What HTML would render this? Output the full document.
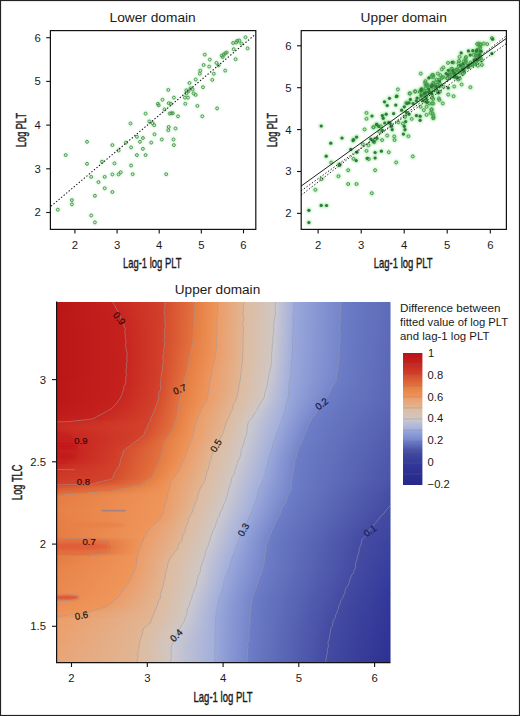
<!DOCTYPE html><html><head><meta charset="utf-8"><style>html,body{margin:0;padding:0;background:#fff;overflow:hidden;}svg{display:block}text{font-family:"Liberation Sans",sans-serif;fill:#1a1a1a}</style></head><body>
<svg width="520" height="716" viewBox="0 0 520 716">
<defs><linearGradient id="h0" gradientUnits="userSpaceOnUse" x1="56.5" x2="390.5" y1="0" y2="0"><stop offset="0.0000" stop-color="#b91517"/><stop offset="0.1690" stop-color="#c5221e"/><stop offset="0.1706" stop-color="#c72620"/><stop offset="0.3240" stop-color="#d3412b"/><stop offset="0.3256" stop-color="#d54c2d"/><stop offset="0.4137" stop-color="#e3723f"/><stop offset="0.4153" stop-color="#e57c41"/><stop offset="0.4826" stop-color="#ef965b"/><stop offset="0.4842" stop-color="#ed9c67"/><stop offset="0.5591" stop-color="#e1b594"/><stop offset="0.5607" stop-color="#dfbb9e"/><stop offset="0.6562" stop-color="#d0c7c3"/><stop offset="0.6578" stop-color="#ccc9cf"/><stop offset="0.7102" stop-color="#a2afdd"/><stop offset="0.7118" stop-color="#9aa8db"/><stop offset="0.8509" stop-color="#7585cb"/><stop offset="0.8525" stop-color="#6d7dc6"/><stop offset="1.0000" stop-color="#5d6ab9"/></linearGradient>
<linearGradient id="h1" gradientUnits="userSpaceOnUse" x1="56.5" x2="390.5" y1="0" y2="0"><stop offset="0.0000" stop-color="#b91517"/><stop offset="0.1721" stop-color="#c5221e"/><stop offset="0.1737" stop-color="#c72620"/><stop offset="0.3239" stop-color="#d3412b"/><stop offset="0.3255" stop-color="#d54c2d"/><stop offset="0.4134" stop-color="#e3723f"/><stop offset="0.4150" stop-color="#e57c41"/><stop offset="0.4824" stop-color="#ef965b"/><stop offset="0.4840" stop-color="#ed9c67"/><stop offset="0.5590" stop-color="#e1b594"/><stop offset="0.5606" stop-color="#dfbb9e"/><stop offset="0.6557" stop-color="#d0c7c3"/><stop offset="0.6573" stop-color="#ccc9cf"/><stop offset="0.7099" stop-color="#a2afdd"/><stop offset="0.7115" stop-color="#9aa8db"/><stop offset="0.8507" stop-color="#7585cb"/><stop offset="0.8523" stop-color="#6d7dc6"/><stop offset="1.0000" stop-color="#5d6ab9"/></linearGradient>
<linearGradient id="h2" gradientUnits="userSpaceOnUse" x1="56.5" x2="390.5" y1="0" y2="0"><stop offset="0.0000" stop-color="#b91517"/><stop offset="0.1752" stop-color="#c5221e"/><stop offset="0.1768" stop-color="#c72620"/><stop offset="0.3239" stop-color="#d3412b"/><stop offset="0.3255" stop-color="#d54c2d"/><stop offset="0.4131" stop-color="#e3723f"/><stop offset="0.4147" stop-color="#e57c41"/><stop offset="0.4822" stop-color="#ef965b"/><stop offset="0.4838" stop-color="#ed9c67"/><stop offset="0.5589" stop-color="#e1b594"/><stop offset="0.5605" stop-color="#dfbb9e"/><stop offset="0.6552" stop-color="#d0c7c3"/><stop offset="0.6568" stop-color="#ccc9cf"/><stop offset="0.7096" stop-color="#a2afdd"/><stop offset="0.7112" stop-color="#9aa8db"/><stop offset="0.8505" stop-color="#7585cb"/><stop offset="0.8521" stop-color="#6d7dc6"/><stop offset="1.0000" stop-color="#5d6ab8"/></linearGradient>
<linearGradient id="h3" gradientUnits="userSpaceOnUse" x1="56.5" x2="390.5" y1="0" y2="0"><stop offset="0.0000" stop-color="#b91517"/><stop offset="0.1783" stop-color="#c5221e"/><stop offset="0.1799" stop-color="#c72620"/><stop offset="0.3238" stop-color="#d3412b"/><stop offset="0.3254" stop-color="#d54c2d"/><stop offset="0.4128" stop-color="#e3723f"/><stop offset="0.4144" stop-color="#e57c41"/><stop offset="0.4819" stop-color="#ef965b"/><stop offset="0.4835" stop-color="#ed9c67"/><stop offset="0.5589" stop-color="#e1b594"/><stop offset="0.5605" stop-color="#dfbb9e"/><stop offset="0.6548" stop-color="#d0c7c3"/><stop offset="0.6564" stop-color="#ccc9cf"/><stop offset="0.7094" stop-color="#a2afdd"/><stop offset="0.7110" stop-color="#9aa8db"/><stop offset="0.8503" stop-color="#7585cb"/><stop offset="0.8519" stop-color="#6d7dc6"/><stop offset="1.0000" stop-color="#5d6ab8"/></linearGradient>
<linearGradient id="h4" gradientUnits="userSpaceOnUse" x1="56.5" x2="390.5" y1="0" y2="0"><stop offset="0.0000" stop-color="#b91617"/><stop offset="0.1814" stop-color="#c5221e"/><stop offset="0.1830" stop-color="#c72620"/><stop offset="0.3237" stop-color="#d3412b"/><stop offset="0.3253" stop-color="#d54c2d"/><stop offset="0.4125" stop-color="#e3723f"/><stop offset="0.4141" stop-color="#e57c41"/><stop offset="0.4817" stop-color="#ef965b"/><stop offset="0.4833" stop-color="#ed9c67"/><stop offset="0.5588" stop-color="#e1b594"/><stop offset="0.5604" stop-color="#dfbb9e"/><stop offset="0.6543" stop-color="#d0c7c3"/><stop offset="0.6559" stop-color="#ccc9cf"/><stop offset="0.7091" stop-color="#a2afdd"/><stop offset="0.7107" stop-color="#9aa8db"/><stop offset="0.8501" stop-color="#7585cb"/><stop offset="0.8517" stop-color="#6d7dc6"/><stop offset="1.0000" stop-color="#5d6ab8"/></linearGradient>
<linearGradient id="h5" gradientUnits="userSpaceOnUse" x1="56.5" x2="390.5" y1="0" y2="0"><stop offset="0.0000" stop-color="#b91617"/><stop offset="0.1844" stop-color="#c5221e"/><stop offset="0.1860" stop-color="#c72620"/><stop offset="0.3236" stop-color="#d3412b"/><stop offset="0.3252" stop-color="#d54c2d"/><stop offset="0.4121" stop-color="#e3723f"/><stop offset="0.4137" stop-color="#e57c41"/><stop offset="0.4815" stop-color="#ef965b"/><stop offset="0.4831" stop-color="#ed9c67"/><stop offset="0.5588" stop-color="#e1b594"/><stop offset="0.5604" stop-color="#dfbb9e"/><stop offset="0.6539" stop-color="#d0c7c3"/><stop offset="0.6555" stop-color="#ccc9cf"/><stop offset="0.7089" stop-color="#a2afdd"/><stop offset="0.7105" stop-color="#9aa8db"/><stop offset="0.8499" stop-color="#7585cb"/><stop offset="0.8515" stop-color="#6d7dc6"/><stop offset="1.0000" stop-color="#5d6ab8"/></linearGradient>
<linearGradient id="h6" gradientUnits="userSpaceOnUse" x1="56.5" x2="390.5" y1="0" y2="0"><stop offset="0.0000" stop-color="#ba1617"/><stop offset="0.1875" stop-color="#c5221e"/><stop offset="0.1891" stop-color="#c72620"/><stop offset="0.3235" stop-color="#d3412b"/><stop offset="0.3251" stop-color="#d54c2d"/><stop offset="0.4118" stop-color="#e3723f"/><stop offset="0.4134" stop-color="#e57c41"/><stop offset="0.4812" stop-color="#ef965b"/><stop offset="0.4828" stop-color="#ed9c67"/><stop offset="0.5587" stop-color="#e1b594"/><stop offset="0.5603" stop-color="#dfbb9e"/><stop offset="0.6534" stop-color="#d0c7c3"/><stop offset="0.6550" stop-color="#ccc9cf"/><stop offset="0.7086" stop-color="#a2afdd"/><stop offset="0.7102" stop-color="#9aa8db"/><stop offset="0.8497" stop-color="#7585cb"/><stop offset="0.8513" stop-color="#6d7dc6"/><stop offset="1.0000" stop-color="#5d6ab8"/></linearGradient>
<linearGradient id="h7" gradientUnits="userSpaceOnUse" x1="56.5" x2="390.5" y1="0" y2="0"><stop offset="0.0000" stop-color="#ba1617"/><stop offset="0.1899" stop-color="#c5221e"/><stop offset="0.1915" stop-color="#c72620"/><stop offset="0.3235" stop-color="#d3412b"/><stop offset="0.3251" stop-color="#d54c2d"/><stop offset="0.4115" stop-color="#e3723f"/><stop offset="0.4131" stop-color="#e57c41"/><stop offset="0.4810" stop-color="#ef965b"/><stop offset="0.4826" stop-color="#ed9c67"/><stop offset="0.5586" stop-color="#e1b594"/><stop offset="0.5602" stop-color="#dfbb9e"/><stop offset="0.6530" stop-color="#d0c7c3"/><stop offset="0.6546" stop-color="#ccc9cf"/><stop offset="0.7084" stop-color="#a2afdd"/><stop offset="0.7100" stop-color="#9aa8db"/><stop offset="0.8495" stop-color="#7585cb"/><stop offset="0.8511" stop-color="#6d7dc6"/><stop offset="1.0000" stop-color="#5d6ab8"/></linearGradient>
<linearGradient id="h8" gradientUnits="userSpaceOnUse" x1="56.5" x2="390.5" y1="0" y2="0"><stop offset="0.0000" stop-color="#ba1617"/><stop offset="0.1923" stop-color="#c5221e"/><stop offset="0.1939" stop-color="#c72620"/><stop offset="0.3234" stop-color="#d3412b"/><stop offset="0.3250" stop-color="#d54c2d"/><stop offset="0.4112" stop-color="#e3723f"/><stop offset="0.4128" stop-color="#e57c41"/><stop offset="0.4808" stop-color="#ef965b"/><stop offset="0.4824" stop-color="#ed9c67"/><stop offset="0.5586" stop-color="#e1b594"/><stop offset="0.5602" stop-color="#dfbb9e"/><stop offset="0.6525" stop-color="#d0c7c3"/><stop offset="0.6541" stop-color="#ccc9cf"/><stop offset="0.7081" stop-color="#a2afdd"/><stop offset="0.7097" stop-color="#9aa8db"/><stop offset="0.8493" stop-color="#7585cb"/><stop offset="0.8509" stop-color="#6d7dc6"/><stop offset="1.0000" stop-color="#5d6ab8"/></linearGradient>
<linearGradient id="h9" gradientUnits="userSpaceOnUse" x1="56.5" x2="390.5" y1="0" y2="0"><stop offset="0.0000" stop-color="#ba1617"/><stop offset="0.1947" stop-color="#c5221e"/><stop offset="0.1963" stop-color="#c72620"/><stop offset="0.3233" stop-color="#d3412b"/><stop offset="0.3249" stop-color="#d54c2d"/><stop offset="0.4109" stop-color="#e3723f"/><stop offset="0.4125" stop-color="#e57c41"/><stop offset="0.4805" stop-color="#ef965b"/><stop offset="0.4821" stop-color="#ed9c67"/><stop offset="0.5585" stop-color="#e1b594"/><stop offset="0.5601" stop-color="#dfbb9e"/><stop offset="0.6520" stop-color="#d0c7c3"/><stop offset="0.6536" stop-color="#ccc9cf"/><stop offset="0.7079" stop-color="#a2afdd"/><stop offset="0.7095" stop-color="#9aa8db"/><stop offset="0.8491" stop-color="#7585cb"/><stop offset="0.8507" stop-color="#6d7dc6"/><stop offset="1.0000" stop-color="#5d6ab8"/></linearGradient>
<linearGradient id="h10" gradientUnits="userSpaceOnUse" x1="56.5" x2="390.5" y1="0" y2="0"><stop offset="0.0000" stop-color="#ba1617"/><stop offset="0.1971" stop-color="#c5221e"/><stop offset="0.1987" stop-color="#c72620"/><stop offset="0.3232" stop-color="#d3412b"/><stop offset="0.3248" stop-color="#d54c2d"/><stop offset="0.4106" stop-color="#e3723f"/><stop offset="0.4122" stop-color="#e57c41"/><stop offset="0.4803" stop-color="#ef965b"/><stop offset="0.4819" stop-color="#ed9c67"/><stop offset="0.5585" stop-color="#e1b594"/><stop offset="0.5601" stop-color="#dfbb9e"/><stop offset="0.6516" stop-color="#d0c7c3"/><stop offset="0.6532" stop-color="#ccc9cf"/><stop offset="0.7076" stop-color="#a2afdd"/><stop offset="0.7092" stop-color="#9aa8db"/><stop offset="0.8489" stop-color="#7585cb"/><stop offset="0.8505" stop-color="#6d7dc6"/><stop offset="1.0000" stop-color="#5d69b8"/></linearGradient>
<linearGradient id="h11" gradientUnits="userSpaceOnUse" x1="56.5" x2="390.5" y1="0" y2="0"><stop offset="0.0000" stop-color="#ba1617"/><stop offset="0.1995" stop-color="#c5221e"/><stop offset="0.2011" stop-color="#c72620"/><stop offset="0.3231" stop-color="#d3412b"/><stop offset="0.3247" stop-color="#d54c2d"/><stop offset="0.4102" stop-color="#e3723f"/><stop offset="0.4118" stop-color="#e57c41"/><stop offset="0.4801" stop-color="#ef965b"/><stop offset="0.4817" stop-color="#ed9c67"/><stop offset="0.5584" stop-color="#e1b594"/><stop offset="0.5600" stop-color="#dfbb9e"/><stop offset="0.6511" stop-color="#d0c7c3"/><stop offset="0.6527" stop-color="#ccc9cf"/><stop offset="0.7074" stop-color="#a2afdd"/><stop offset="0.7090" stop-color="#9aa8db"/><stop offset="0.8487" stop-color="#7585cb"/><stop offset="0.8503" stop-color="#6d7dc6"/><stop offset="1.0000" stop-color="#5c69b8"/></linearGradient>
<linearGradient id="h12" gradientUnits="userSpaceOnUse" x1="56.5" x2="390.5" y1="0" y2="0"><stop offset="0.0000" stop-color="#ba1617"/><stop offset="0.2019" stop-color="#c5221e"/><stop offset="0.2035" stop-color="#c72620"/><stop offset="0.3231" stop-color="#d3412b"/><stop offset="0.3247" stop-color="#d54c2d"/><stop offset="0.4099" stop-color="#e3723f"/><stop offset="0.4115" stop-color="#e57c41"/><stop offset="0.4799" stop-color="#ef965b"/><stop offset="0.4815" stop-color="#ed9c67"/><stop offset="0.5584" stop-color="#e1b594"/><stop offset="0.5600" stop-color="#dfbb9e"/><stop offset="0.6507" stop-color="#d0c7c3"/><stop offset="0.6523" stop-color="#ccc9cf"/><stop offset="0.7071" stop-color="#a2afdd"/><stop offset="0.7087" stop-color="#9aa8db"/><stop offset="0.8485" stop-color="#7585cb"/><stop offset="0.8501" stop-color="#6d7dc6"/><stop offset="1.0000" stop-color="#5c69b8"/></linearGradient>
<linearGradient id="h13" gradientUnits="userSpaceOnUse" x1="56.5" x2="390.5" y1="0" y2="0"><stop offset="0.0000" stop-color="#ba1617"/><stop offset="0.2043" stop-color="#c5221e"/><stop offset="0.2059" stop-color="#c72620"/><stop offset="0.3230" stop-color="#d3412b"/><stop offset="0.3246" stop-color="#d54c2d"/><stop offset="0.4096" stop-color="#e3723f"/><stop offset="0.4112" stop-color="#e57c41"/><stop offset="0.4796" stop-color="#ef965b"/><stop offset="0.4812" stop-color="#ed9c67"/><stop offset="0.5583" stop-color="#e1b594"/><stop offset="0.5599" stop-color="#dfbb9e"/><stop offset="0.6502" stop-color="#d0c7c3"/><stop offset="0.6518" stop-color="#ccc9cf"/><stop offset="0.7069" stop-color="#a2afdd"/><stop offset="0.7085" stop-color="#9aa8db"/><stop offset="0.8483" stop-color="#7585cb"/><stop offset="0.8499" stop-color="#6d7dc6"/><stop offset="1.0000" stop-color="#5c69b8"/></linearGradient>
<linearGradient id="h14" gradientUnits="userSpaceOnUse" x1="56.5" x2="390.5" y1="0" y2="0"><stop offset="0.0000" stop-color="#ba1617"/><stop offset="0.2047" stop-color="#c5221e"/><stop offset="0.2063" stop-color="#c72620"/><stop offset="0.3229" stop-color="#d3412b"/><stop offset="0.3245" stop-color="#d54c2d"/><stop offset="0.4093" stop-color="#e3723f"/><stop offset="0.4109" stop-color="#e57c41"/><stop offset="0.4794" stop-color="#ef965b"/><stop offset="0.4810" stop-color="#ed9c67"/><stop offset="0.5582" stop-color="#e1b594"/><stop offset="0.5598" stop-color="#dfbb9e"/><stop offset="0.6498" stop-color="#d0c7c3"/><stop offset="0.6514" stop-color="#ccc9cf"/><stop offset="0.7066" stop-color="#a2afdd"/><stop offset="0.7082" stop-color="#9aa8db"/><stop offset="0.8481" stop-color="#7585cb"/><stop offset="0.8497" stop-color="#6d7dc6"/><stop offset="1.0000" stop-color="#5c69b8"/></linearGradient>
<linearGradient id="h15" gradientUnits="userSpaceOnUse" x1="56.5" x2="390.5" y1="0" y2="0"><stop offset="0.0000" stop-color="#ba1617"/><stop offset="0.2051" stop-color="#c5221e"/><stop offset="0.2067" stop-color="#c72620"/><stop offset="0.3228" stop-color="#d3412b"/><stop offset="0.3244" stop-color="#d54c2d"/><stop offset="0.4090" stop-color="#e3723f"/><stop offset="0.4106" stop-color="#e57c41"/><stop offset="0.4792" stop-color="#ef965b"/><stop offset="0.4808" stop-color="#ed9c67"/><stop offset="0.5582" stop-color="#e1b594"/><stop offset="0.5598" stop-color="#dfbb9e"/><stop offset="0.6493" stop-color="#d0c7c3"/><stop offset="0.6509" stop-color="#ccc9cf"/><stop offset="0.7063" stop-color="#a2afdd"/><stop offset="0.7079" stop-color="#9aa8db"/><stop offset="0.8479" stop-color="#7585cb"/><stop offset="0.8495" stop-color="#6d7dc6"/><stop offset="1.0000" stop-color="#5c69b8"/></linearGradient>
<linearGradient id="h16" gradientUnits="userSpaceOnUse" x1="56.5" x2="390.5" y1="0" y2="0"><stop offset="0.0000" stop-color="#ba1617"/><stop offset="0.2055" stop-color="#c5221e"/><stop offset="0.2071" stop-color="#c72620"/><stop offset="0.3228" stop-color="#d3412b"/><stop offset="0.3244" stop-color="#d54c2d"/><stop offset="0.4087" stop-color="#e3723f"/><stop offset="0.4103" stop-color="#e57c41"/><stop offset="0.4789" stop-color="#ef965b"/><stop offset="0.4805" stop-color="#ed9c67"/><stop offset="0.5581" stop-color="#e1b594"/><stop offset="0.5597" stop-color="#dfbb9e"/><stop offset="0.6488" stop-color="#d0c7c3"/><stop offset="0.6504" stop-color="#ccc9cf"/><stop offset="0.7061" stop-color="#a2afdd"/><stop offset="0.7077" stop-color="#9aa8db"/><stop offset="0.8476" stop-color="#7585cb"/><stop offset="0.8492" stop-color="#6d7dc6"/><stop offset="1.0000" stop-color="#5c69b8"/></linearGradient>
<linearGradient id="h17" gradientUnits="userSpaceOnUse" x1="56.5" x2="390.5" y1="0" y2="0"><stop offset="0.0000" stop-color="#ba1617"/><stop offset="0.2059" stop-color="#c5221e"/><stop offset="0.2075" stop-color="#c72620"/><stop offset="0.3227" stop-color="#d3412b"/><stop offset="0.3243" stop-color="#d54c2d"/><stop offset="0.4084" stop-color="#e3723f"/><stop offset="0.4100" stop-color="#e57c41"/><stop offset="0.4787" stop-color="#ef965b"/><stop offset="0.4803" stop-color="#ed9c67"/><stop offset="0.5581" stop-color="#e1b594"/><stop offset="0.5597" stop-color="#dfbb9e"/><stop offset="0.6484" stop-color="#d0c7c3"/><stop offset="0.6500" stop-color="#ccc9cf"/><stop offset="0.7058" stop-color="#a2afdd"/><stop offset="0.7074" stop-color="#9aa8db"/><stop offset="0.8474" stop-color="#7585cb"/><stop offset="0.8490" stop-color="#6d7dc6"/><stop offset="1.0000" stop-color="#5c69b8"/></linearGradient>
<linearGradient id="h18" gradientUnits="userSpaceOnUse" x1="56.5" x2="390.5" y1="0" y2="0"><stop offset="0.0000" stop-color="#ba1617"/><stop offset="0.2064" stop-color="#c5221e"/><stop offset="0.2080" stop-color="#c72620"/><stop offset="0.3226" stop-color="#d3412b"/><stop offset="0.3242" stop-color="#d54c2d"/><stop offset="0.4080" stop-color="#e3723f"/><stop offset="0.4096" stop-color="#e57c41"/><stop offset="0.4785" stop-color="#ef965b"/><stop offset="0.4801" stop-color="#ed9c67"/><stop offset="0.5580" stop-color="#e1b594"/><stop offset="0.5596" stop-color="#dfbb9e"/><stop offset="0.6479" stop-color="#d0c7c3"/><stop offset="0.6495" stop-color="#ccc9cf"/><stop offset="0.7056" stop-color="#a2afdd"/><stop offset="0.7072" stop-color="#9aa8db"/><stop offset="0.8472" stop-color="#7585cb"/><stop offset="0.8488" stop-color="#6d7dc6"/><stop offset="1.0000" stop-color="#5c69b7"/></linearGradient>
<linearGradient id="h19" gradientUnits="userSpaceOnUse" x1="56.5" x2="390.5" y1="0" y2="0"><stop offset="0.0000" stop-color="#ba1617"/><stop offset="0.2068" stop-color="#c5221e"/><stop offset="0.2084" stop-color="#c72620"/><stop offset="0.3223" stop-color="#d3412b"/><stop offset="0.3239" stop-color="#d54c2d"/><stop offset="0.4073" stop-color="#e3723f"/><stop offset="0.4089" stop-color="#e57c41"/><stop offset="0.4782" stop-color="#ef965b"/><stop offset="0.4798" stop-color="#ed9c67"/><stop offset="0.5580" stop-color="#e1b594"/><stop offset="0.5596" stop-color="#dfbb9e"/><stop offset="0.6475" stop-color="#d0c7c3"/><stop offset="0.6491" stop-color="#ccc9cf"/><stop offset="0.7053" stop-color="#a2afdd"/><stop offset="0.7069" stop-color="#9aa8db"/><stop offset="0.8470" stop-color="#7585cb"/><stop offset="0.8486" stop-color="#6d7dc6"/><stop offset="1.0000" stop-color="#5c69b7"/></linearGradient>
<linearGradient id="h20" gradientUnits="userSpaceOnUse" x1="56.5" x2="390.5" y1="0" y2="0"><stop offset="0.0000" stop-color="#ba1617"/><stop offset="0.2072" stop-color="#c5221e"/><stop offset="0.2088" stop-color="#c72620"/><stop offset="0.3219" stop-color="#d3412b"/><stop offset="0.3235" stop-color="#d54c2d"/><stop offset="0.4062" stop-color="#e3723f"/><stop offset="0.4078" stop-color="#e57c41"/><stop offset="0.4780" stop-color="#ef965b"/><stop offset="0.4796" stop-color="#ed9c67"/><stop offset="0.5579" stop-color="#e1b594"/><stop offset="0.5595" stop-color="#dfbb9e"/><stop offset="0.6470" stop-color="#d0c7c3"/><stop offset="0.6486" stop-color="#ccc9cf"/><stop offset="0.7051" stop-color="#a2afdd"/><stop offset="0.7067" stop-color="#9aa8db"/><stop offset="0.8468" stop-color="#7585cb"/><stop offset="0.8484" stop-color="#6d7dc6"/><stop offset="1.0000" stop-color="#5c69b7"/></linearGradient>
<linearGradient id="h21" gradientUnits="userSpaceOnUse" x1="56.5" x2="390.5" y1="0" y2="0"><stop offset="0.0000" stop-color="#ba1617"/><stop offset="0.2076" stop-color="#c5221e"/><stop offset="0.2092" stop-color="#c72620"/><stop offset="0.3214" stop-color="#d3412b"/><stop offset="0.3230" stop-color="#d54c2d"/><stop offset="0.4050" stop-color="#e3723f"/><stop offset="0.4066" stop-color="#e57c41"/><stop offset="0.4778" stop-color="#ef965b"/><stop offset="0.4794" stop-color="#ed9c67"/><stop offset="0.5578" stop-color="#e1b594"/><stop offset="0.5594" stop-color="#dfbb9e"/><stop offset="0.6466" stop-color="#d0c7c3"/><stop offset="0.6482" stop-color="#ccc9cf"/><stop offset="0.7048" stop-color="#a2afdd"/><stop offset="0.7064" stop-color="#9aa8db"/><stop offset="0.8466" stop-color="#7585cb"/><stop offset="0.8482" stop-color="#6d7dc6"/><stop offset="1.0000" stop-color="#5c68b7"/></linearGradient>
<linearGradient id="h22" gradientUnits="userSpaceOnUse" x1="56.5" x2="390.5" y1="0" y2="0"><stop offset="0.0000" stop-color="#ba1617"/><stop offset="0.2080" stop-color="#c5221e"/><stop offset="0.2096" stop-color="#c72620"/><stop offset="0.3210" stop-color="#d3412b"/><stop offset="0.3226" stop-color="#d54c2d"/><stop offset="0.4039" stop-color="#e3723f"/><stop offset="0.4055" stop-color="#e57c41"/><stop offset="0.4776" stop-color="#ef965b"/><stop offset="0.4792" stop-color="#ed9c67"/><stop offset="0.5578" stop-color="#e1b594"/><stop offset="0.5594" stop-color="#dfbb9e"/><stop offset="0.6461" stop-color="#d0c7c3"/><stop offset="0.6477" stop-color="#ccc9cf"/><stop offset="0.7046" stop-color="#a2afdd"/><stop offset="0.7062" stop-color="#9aa8db"/><stop offset="0.8464" stop-color="#7585cb"/><stop offset="0.8480" stop-color="#6d7dc6"/><stop offset="1.0000" stop-color="#5c68b7"/></linearGradient>
<linearGradient id="h23" gradientUnits="userSpaceOnUse" x1="56.5" x2="390.5" y1="0" y2="0"><stop offset="0.0000" stop-color="#ba1617"/><stop offset="0.2084" stop-color="#c5221e"/><stop offset="0.2100" stop-color="#c72620"/><stop offset="0.3205" stop-color="#d3412b"/><stop offset="0.3221" stop-color="#d54c2d"/><stop offset="0.4028" stop-color="#e3723f"/><stop offset="0.4044" stop-color="#e57c41"/><stop offset="0.4773" stop-color="#ef965b"/><stop offset="0.4789" stop-color="#ed9c67"/><stop offset="0.5577" stop-color="#e1b594"/><stop offset="0.5593" stop-color="#dfbb9e"/><stop offset="0.6457" stop-color="#d0c7c3"/><stop offset="0.6473" stop-color="#ccc9cf"/><stop offset="0.7043" stop-color="#a2afdd"/><stop offset="0.7059" stop-color="#9aa8db"/><stop offset="0.8462" stop-color="#7585cb"/><stop offset="0.8478" stop-color="#6d7dc6"/><stop offset="1.0000" stop-color="#5c68b7"/></linearGradient>
<linearGradient id="h24" gradientUnits="userSpaceOnUse" x1="56.5" x2="390.5" y1="0" y2="0"><stop offset="0.0000" stop-color="#ba1617"/><stop offset="0.2088" stop-color="#c5221e"/><stop offset="0.2104" stop-color="#c72620"/><stop offset="0.3201" stop-color="#d3412b"/><stop offset="0.3217" stop-color="#d54c2d"/><stop offset="0.4016" stop-color="#e3723f"/><stop offset="0.4032" stop-color="#e57c41"/><stop offset="0.4771" stop-color="#ef965b"/><stop offset="0.4787" stop-color="#ed9c67"/><stop offset="0.5577" stop-color="#e1b594"/><stop offset="0.5593" stop-color="#dfbb9e"/><stop offset="0.6452" stop-color="#d0c7c3"/><stop offset="0.6468" stop-color="#ccc9cf"/><stop offset="0.7041" stop-color="#a2afdd"/><stop offset="0.7057" stop-color="#9aa8db"/><stop offset="0.8460" stop-color="#7585cb"/><stop offset="0.8476" stop-color="#6d7dc6"/><stop offset="1.0000" stop-color="#5c68b7"/></linearGradient>
<linearGradient id="h25" gradientUnits="userSpaceOnUse" x1="56.5" x2="390.5" y1="0" y2="0"><stop offset="0.0000" stop-color="#ba1617"/><stop offset="0.2092" stop-color="#c5221e"/><stop offset="0.2108" stop-color="#c72620"/><stop offset="0.3196" stop-color="#d3412b"/><stop offset="0.3212" stop-color="#d54c2d"/><stop offset="0.4005" stop-color="#e3723f"/><stop offset="0.4021" stop-color="#e57c41"/><stop offset="0.4769" stop-color="#ef965b"/><stop offset="0.4785" stop-color="#ed9c67"/><stop offset="0.5576" stop-color="#e1b594"/><stop offset="0.5592" stop-color="#dfbb9e"/><stop offset="0.6447" stop-color="#d0c7c3"/><stop offset="0.6463" stop-color="#ccc9cf"/><stop offset="0.7038" stop-color="#a2afdd"/><stop offset="0.7054" stop-color="#9aa8db"/><stop offset="0.8458" stop-color="#7585cb"/><stop offset="0.8474" stop-color="#6d7dc6"/><stop offset="1.0000" stop-color="#5b68b7"/></linearGradient>
<linearGradient id="h26" gradientUnits="userSpaceOnUse" x1="56.5" x2="390.5" y1="0" y2="0"><stop offset="0.0000" stop-color="#ba1617"/><stop offset="0.2097" stop-color="#c5221e"/><stop offset="0.2113" stop-color="#c72620"/><stop offset="0.3192" stop-color="#d3412b"/><stop offset="0.3208" stop-color="#d54c2d"/><stop offset="0.3993" stop-color="#e3723f"/><stop offset="0.4009" stop-color="#e57c41"/><stop offset="0.4760" stop-color="#ef965b"/><stop offset="0.4776" stop-color="#ed9c67"/><stop offset="0.5573" stop-color="#e1b594"/><stop offset="0.5589" stop-color="#dfbb9e"/><stop offset="0.6443" stop-color="#d0c7c3"/><stop offset="0.6459" stop-color="#ccc9cf"/><stop offset="0.7036" stop-color="#a2afdd"/><stop offset="0.7052" stop-color="#9aa8db"/><stop offset="0.8456" stop-color="#7585cb"/><stop offset="0.8472" stop-color="#6d7dc6"/><stop offset="1.0000" stop-color="#5b68b7"/></linearGradient>
<linearGradient id="h27" gradientUnits="userSpaceOnUse" x1="56.5" x2="390.5" y1="0" y2="0"><stop offset="0.0000" stop-color="#ba1617"/><stop offset="0.2101" stop-color="#c5221e"/><stop offset="0.2117" stop-color="#c72620"/><stop offset="0.3187" stop-color="#d3412b"/><stop offset="0.3203" stop-color="#d54c2d"/><stop offset="0.3982" stop-color="#e3723f"/><stop offset="0.3998" stop-color="#e57c41"/><stop offset="0.4745" stop-color="#ef965b"/><stop offset="0.4761" stop-color="#ed9c67"/><stop offset="0.5566" stop-color="#e1b594"/><stop offset="0.5582" stop-color="#dfbb9e"/><stop offset="0.6438" stop-color="#d0c7c3"/><stop offset="0.6454" stop-color="#ccc9cf"/><stop offset="0.7033" stop-color="#a2afdd"/><stop offset="0.7049" stop-color="#9aa8db"/><stop offset="0.8454" stop-color="#7585cb"/><stop offset="0.8470" stop-color="#6d7dc6"/><stop offset="1.0000" stop-color="#5b68b7"/></linearGradient>
<linearGradient id="h28" gradientUnits="userSpaceOnUse" x1="56.5" x2="390.5" y1="0" y2="0"><stop offset="0.0000" stop-color="#ba1617"/><stop offset="0.2101" stop-color="#c5221e"/><stop offset="0.2117" stop-color="#c72620"/><stop offset="0.3183" stop-color="#d3412b"/><stop offset="0.3199" stop-color="#d54c2d"/><stop offset="0.3971" stop-color="#e3723f"/><stop offset="0.3987" stop-color="#e57c41"/><stop offset="0.4730" stop-color="#ef965b"/><stop offset="0.4746" stop-color="#ed9c67"/><stop offset="0.5559" stop-color="#e1b594"/><stop offset="0.5575" stop-color="#dfbb9e"/><stop offset="0.6434" stop-color="#d0c7c3"/><stop offset="0.6450" stop-color="#ccc9cf"/><stop offset="0.7030" stop-color="#a2afdd"/><stop offset="0.7046" stop-color="#9aa8db"/><stop offset="0.8452" stop-color="#7585cb"/><stop offset="0.8468" stop-color="#6d7dc6"/><stop offset="1.0000" stop-color="#5b68b7"/></linearGradient>
<linearGradient id="h29" gradientUnits="userSpaceOnUse" x1="56.5" x2="390.5" y1="0" y2="0"><stop offset="0.0000" stop-color="#ba1617"/><stop offset="0.2099" stop-color="#c5221e"/><stop offset="0.2115" stop-color="#c72620"/><stop offset="0.3178" stop-color="#d3412b"/><stop offset="0.3194" stop-color="#d54c2d"/><stop offset="0.3959" stop-color="#e3723f"/><stop offset="0.3975" stop-color="#e57c41"/><stop offset="0.4715" stop-color="#ef965b"/><stop offset="0.4731" stop-color="#ed9c67"/><stop offset="0.5553" stop-color="#e1b594"/><stop offset="0.5569" stop-color="#dfbb9e"/><stop offset="0.6429" stop-color="#d0c7c3"/><stop offset="0.6445" stop-color="#ccc9cf"/><stop offset="0.7028" stop-color="#a2afdd"/><stop offset="0.7044" stop-color="#9aa8db"/><stop offset="0.8450" stop-color="#7585cb"/><stop offset="0.8466" stop-color="#6d7dc6"/><stop offset="1.0000" stop-color="#5b68b7"/></linearGradient>
<linearGradient id="h30" gradientUnits="userSpaceOnUse" x1="56.5" x2="390.5" y1="0" y2="0"><stop offset="0.0000" stop-color="#ba1617"/><stop offset="0.2096" stop-color="#c5221e"/><stop offset="0.2112" stop-color="#c72620"/><stop offset="0.3172" stop-color="#d3412b"/><stop offset="0.3188" stop-color="#d54c2d"/><stop offset="0.3947" stop-color="#e3723f"/><stop offset="0.3963" stop-color="#e57c41"/><stop offset="0.4700" stop-color="#ef965b"/><stop offset="0.4716" stop-color="#ed9c67"/><stop offset="0.5546" stop-color="#e1b594"/><stop offset="0.5562" stop-color="#dfbb9e"/><stop offset="0.6418" stop-color="#d0c7c3"/><stop offset="0.6434" stop-color="#ccc9cf"/><stop offset="0.7023" stop-color="#a2afdd"/><stop offset="0.7039" stop-color="#9aa8db"/><stop offset="0.8441" stop-color="#7585cb"/><stop offset="0.8457" stop-color="#6d7dc6"/><stop offset="1.0000" stop-color="#5b68b7"/></linearGradient>
<linearGradient id="h31" gradientUnits="userSpaceOnUse" x1="56.5" x2="390.5" y1="0" y2="0"><stop offset="0.0000" stop-color="#ba1617"/><stop offset="0.2093" stop-color="#c5221e"/><stop offset="0.2109" stop-color="#c72620"/><stop offset="0.3167" stop-color="#d3412b"/><stop offset="0.3183" stop-color="#d54c2d"/><stop offset="0.3935" stop-color="#e3723f"/><stop offset="0.3951" stop-color="#e57c41"/><stop offset="0.4685" stop-color="#ef965b"/><stop offset="0.4701" stop-color="#ed9c67"/><stop offset="0.5539" stop-color="#e1b594"/><stop offset="0.5555" stop-color="#dfbb9e"/><stop offset="0.6407" stop-color="#d0c7c3"/><stop offset="0.6423" stop-color="#ccc9cf"/><stop offset="0.7018" stop-color="#a2afdd"/><stop offset="0.7034" stop-color="#9aa8db"/><stop offset="0.8431" stop-color="#7585cb"/><stop offset="0.8447" stop-color="#6d7dc6"/><stop offset="1.0000" stop-color="#5b68b7"/></linearGradient>
<linearGradient id="h32" gradientUnits="userSpaceOnUse" x1="56.5" x2="390.5" y1="0" y2="0"><stop offset="0.0000" stop-color="#ba1617"/><stop offset="0.2091" stop-color="#c5221e"/><stop offset="0.2107" stop-color="#c72620"/><stop offset="0.3161" stop-color="#d3412b"/><stop offset="0.3177" stop-color="#d54c2d"/><stop offset="0.3923" stop-color="#e3723f"/><stop offset="0.3939" stop-color="#e57c41"/><stop offset="0.4670" stop-color="#ef965b"/><stop offset="0.4686" stop-color="#ed9c67"/><stop offset="0.5533" stop-color="#e1b594"/><stop offset="0.5549" stop-color="#dfbb9e"/><stop offset="0.6396" stop-color="#d0c7c3"/><stop offset="0.6412" stop-color="#ccc9cf"/><stop offset="0.7014" stop-color="#a2afdd"/><stop offset="0.7030" stop-color="#9aa8db"/><stop offset="0.8422" stop-color="#7585cb"/><stop offset="0.8438" stop-color="#6d7dc6"/><stop offset="1.0000" stop-color="#5b68b7"/></linearGradient>
<linearGradient id="h33" gradientUnits="userSpaceOnUse" x1="56.5" x2="390.5" y1="0" y2="0"><stop offset="0.0000" stop-color="#ba1617"/><stop offset="0.2088" stop-color="#c5221e"/><stop offset="0.2104" stop-color="#c72620"/><stop offset="0.3156" stop-color="#d3412b"/><stop offset="0.3172" stop-color="#d54c2d"/><stop offset="0.3911" stop-color="#e3723f"/><stop offset="0.3927" stop-color="#e57c41"/><stop offset="0.4655" stop-color="#ef965b"/><stop offset="0.4671" stop-color="#ed9c67"/><stop offset="0.5526" stop-color="#e1b594"/><stop offset="0.5542" stop-color="#dfbb9e"/><stop offset="0.6385" stop-color="#d0c7c3"/><stop offset="0.6401" stop-color="#ccc9cf"/><stop offset="0.7009" stop-color="#a2afdd"/><stop offset="0.7025" stop-color="#9aa8db"/><stop offset="0.8412" stop-color="#7585cb"/><stop offset="0.8428" stop-color="#6d7dc6"/><stop offset="1.0000" stop-color="#5b67b7"/></linearGradient>
<linearGradient id="h34" gradientUnits="userSpaceOnUse" x1="56.5" x2="390.5" y1="0" y2="0"><stop offset="0.0000" stop-color="#ba1617"/><stop offset="0.2085" stop-color="#c5221e"/><stop offset="0.2101" stop-color="#c72620"/><stop offset="0.3150" stop-color="#d3412b"/><stop offset="0.3166" stop-color="#d54c2d"/><stop offset="0.3899" stop-color="#e3723f"/><stop offset="0.3915" stop-color="#e57c41"/><stop offset="0.4643" stop-color="#ef965b"/><stop offset="0.4659" stop-color="#ed9c67"/><stop offset="0.5519" stop-color="#e1b594"/><stop offset="0.5535" stop-color="#dfbb9e"/><stop offset="0.6374" stop-color="#d0c7c3"/><stop offset="0.6390" stop-color="#ccc9cf"/><stop offset="0.7004" stop-color="#a2afdd"/><stop offset="0.7020" stop-color="#9aa8db"/><stop offset="0.8403" stop-color="#7585cb"/><stop offset="0.8419" stop-color="#6d7dc6"/><stop offset="1.0000" stop-color="#5b67b6"/></linearGradient>
<linearGradient id="h35" gradientUnits="userSpaceOnUse" x1="56.5" x2="390.5" y1="0" y2="0"><stop offset="0.0000" stop-color="#ba1617"/><stop offset="0.2082" stop-color="#c5221e"/><stop offset="0.2098" stop-color="#c72620"/><stop offset="0.3145" stop-color="#d3412b"/><stop offset="0.3161" stop-color="#d54c2d"/><stop offset="0.3887" stop-color="#e3723f"/><stop offset="0.3903" stop-color="#e57c41"/><stop offset="0.4633" stop-color="#ef965b"/><stop offset="0.4649" stop-color="#ed9c67"/><stop offset="0.5513" stop-color="#e1b594"/><stop offset="0.5529" stop-color="#dfbb9e"/><stop offset="0.6363" stop-color="#d0c7c3"/><stop offset="0.6379" stop-color="#ccc9cf"/><stop offset="0.7000" stop-color="#a2afdd"/><stop offset="0.7016" stop-color="#9aa8db"/><stop offset="0.8393" stop-color="#7585cb"/><stop offset="0.8409" stop-color="#6d7dc6"/><stop offset="1.0000" stop-color="#5b67b6"/></linearGradient>
<linearGradient id="h36" gradientUnits="userSpaceOnUse" x1="56.5" x2="390.5" y1="0" y2="0"><stop offset="0.0000" stop-color="#ba1617"/><stop offset="0.2080" stop-color="#c5221e"/><stop offset="0.2096" stop-color="#c72620"/><stop offset="0.3139" stop-color="#d3412b"/><stop offset="0.3155" stop-color="#d54c2d"/><stop offset="0.3872" stop-color="#e3723f"/><stop offset="0.3888" stop-color="#e57c41"/><stop offset="0.4623" stop-color="#ef965b"/><stop offset="0.4639" stop-color="#ed9c67"/><stop offset="0.5506" stop-color="#e1b594"/><stop offset="0.5522" stop-color="#dfbb9e"/><stop offset="0.6352" stop-color="#d0c7c3"/><stop offset="0.6368" stop-color="#ccc9cf"/><stop offset="0.6995" stop-color="#a2afdd"/><stop offset="0.7011" stop-color="#9aa8db"/><stop offset="0.8384" stop-color="#7585cb"/><stop offset="0.8400" stop-color="#6d7dc6"/><stop offset="1.0000" stop-color="#5b67b6"/></linearGradient>
<linearGradient id="h37" gradientUnits="userSpaceOnUse" x1="56.5" x2="390.5" y1="0" y2="0"><stop offset="0.0000" stop-color="#ba1617"/><stop offset="0.2077" stop-color="#c5221e"/><stop offset="0.2093" stop-color="#c72620"/><stop offset="0.3133" stop-color="#d3412b"/><stop offset="0.3149" stop-color="#d54c2d"/><stop offset="0.3856" stop-color="#e3723f"/><stop offset="0.3872" stop-color="#e57c41"/><stop offset="0.4613" stop-color="#ef965b"/><stop offset="0.4629" stop-color="#ed9c67"/><stop offset="0.5499" stop-color="#e1b594"/><stop offset="0.5515" stop-color="#dfbb9e"/><stop offset="0.6341" stop-color="#d0c7c3"/><stop offset="0.6357" stop-color="#ccc9cf"/><stop offset="0.6990" stop-color="#a2afdd"/><stop offset="0.7006" stop-color="#9aa8db"/><stop offset="0.8374" stop-color="#7585cb"/><stop offset="0.8390" stop-color="#6d7dc6"/><stop offset="1.0000" stop-color="#5b67b6"/></linearGradient>
<linearGradient id="h38" gradientUnits="userSpaceOnUse" x1="56.5" x2="390.5" y1="0" y2="0"><stop offset="0.0000" stop-color="#ba1617"/><stop offset="0.2074" stop-color="#c5221e"/><stop offset="0.2090" stop-color="#c72620"/><stop offset="0.3128" stop-color="#d3412b"/><stop offset="0.3144" stop-color="#d54c2d"/><stop offset="0.3839" stop-color="#e3723f"/><stop offset="0.3855" stop-color="#e57c41"/><stop offset="0.4603" stop-color="#ef965b"/><stop offset="0.4619" stop-color="#ed9c67"/><stop offset="0.5493" stop-color="#e1b594"/><stop offset="0.5509" stop-color="#dfbb9e"/><stop offset="0.6330" stop-color="#d0c7c3"/><stop offset="0.6346" stop-color="#ccc9cf"/><stop offset="0.6985" stop-color="#a2afdd"/><stop offset="0.7001" stop-color="#9aa8db"/><stop offset="0.8365" stop-color="#7585cb"/><stop offset="0.8381" stop-color="#6d7dc6"/><stop offset="1.0000" stop-color="#5b67b6"/></linearGradient>
<linearGradient id="h39" gradientUnits="userSpaceOnUse" x1="56.5" x2="390.5" y1="0" y2="0"><stop offset="0.0000" stop-color="#ba1717"/><stop offset="0.2064" stop-color="#c5221e"/><stop offset="0.2080" stop-color="#c72620"/><stop offset="0.3122" stop-color="#d3412b"/><stop offset="0.3138" stop-color="#d54c2d"/><stop offset="0.3823" stop-color="#e3723f"/><stop offset="0.3839" stop-color="#e57c41"/><stop offset="0.4593" stop-color="#ef965b"/><stop offset="0.4609" stop-color="#ed9c67"/><stop offset="0.5486" stop-color="#e1b594"/><stop offset="0.5502" stop-color="#dfbb9e"/><stop offset="0.6317" stop-color="#d0c7c3"/><stop offset="0.6333" stop-color="#ccc9cf"/><stop offset="0.6979" stop-color="#a2afdd"/><stop offset="0.6995" stop-color="#9aa8db"/><stop offset="0.8344" stop-color="#7585cb"/><stop offset="0.8360" stop-color="#6d7dc6"/><stop offset="1.0000" stop-color="#5a67b6"/></linearGradient>
<linearGradient id="h40" gradientUnits="userSpaceOnUse" x1="56.5" x2="390.5" y1="0" y2="0"><stop offset="0.0000" stop-color="#ba1717"/><stop offset="0.2046" stop-color="#c5221e"/><stop offset="0.2062" stop-color="#c72620"/><stop offset="0.3117" stop-color="#d3412b"/><stop offset="0.3133" stop-color="#d54c2d"/><stop offset="0.3807" stop-color="#e3723f"/><stop offset="0.3823" stop-color="#e57c41"/><stop offset="0.4583" stop-color="#ef965b"/><stop offset="0.4599" stop-color="#ed9c67"/><stop offset="0.5479" stop-color="#e1b594"/><stop offset="0.5495" stop-color="#dfbb9e"/><stop offset="0.6303" stop-color="#d0c7c3"/><stop offset="0.6319" stop-color="#ccc9cf"/><stop offset="0.6971" stop-color="#a2afdd"/><stop offset="0.6987" stop-color="#9aa8db"/><stop offset="0.8312" stop-color="#7585cb"/><stop offset="0.8328" stop-color="#6d7dc6"/><stop offset="1.0000" stop-color="#5a67b6"/></linearGradient>
<linearGradient id="h41" gradientUnits="userSpaceOnUse" x1="56.5" x2="390.5" y1="0" y2="0"><stop offset="0.0000" stop-color="#ba1717"/><stop offset="0.2029" stop-color="#c5221e"/><stop offset="0.2045" stop-color="#c72620"/><stop offset="0.3111" stop-color="#d3412b"/><stop offset="0.3127" stop-color="#d54c2d"/><stop offset="0.3790" stop-color="#e3723f"/><stop offset="0.3806" stop-color="#e57c41"/><stop offset="0.4573" stop-color="#ef965b"/><stop offset="0.4589" stop-color="#ed9c67"/><stop offset="0.5473" stop-color="#e1b594"/><stop offset="0.5489" stop-color="#dfbb9e"/><stop offset="0.6289" stop-color="#d0c7c3"/><stop offset="0.6305" stop-color="#ccc9cf"/><stop offset="0.6963" stop-color="#a2afdd"/><stop offset="0.6979" stop-color="#9aa8db"/><stop offset="0.8280" stop-color="#7585cb"/><stop offset="0.8296" stop-color="#6d7dc6"/><stop offset="1.0000" stop-color="#5a67b6"/></linearGradient>
<linearGradient id="h42" gradientUnits="userSpaceOnUse" x1="56.5" x2="390.5" y1="0" y2="0"><stop offset="0.0000" stop-color="#ba1717"/><stop offset="0.2011" stop-color="#c5221e"/><stop offset="0.2027" stop-color="#c72620"/><stop offset="0.3106" stop-color="#d3412b"/><stop offset="0.3122" stop-color="#d54c2d"/><stop offset="0.3774" stop-color="#e3723f"/><stop offset="0.3790" stop-color="#e57c41"/><stop offset="0.4563" stop-color="#ef965b"/><stop offset="0.4579" stop-color="#ed9c67"/><stop offset="0.5466" stop-color="#e1b594"/><stop offset="0.5482" stop-color="#dfbb9e"/><stop offset="0.6275" stop-color="#d0c7c3"/><stop offset="0.6291" stop-color="#ccc9cf"/><stop offset="0.6955" stop-color="#a2afdd"/><stop offset="0.6971" stop-color="#9aa8db"/><stop offset="0.8248" stop-color="#7585cb"/><stop offset="0.8264" stop-color="#6d7dc6"/><stop offset="1.0000" stop-color="#5a67b6"/></linearGradient>
<linearGradient id="h43" gradientUnits="userSpaceOnUse" x1="56.5" x2="390.5" y1="0" y2="0"><stop offset="0.0000" stop-color="#bb1718"/><stop offset="0.1994" stop-color="#c5221e"/><stop offset="0.2010" stop-color="#c72620"/><stop offset="0.3093" stop-color="#d3412b"/><stop offset="0.3109" stop-color="#d54c2d"/><stop offset="0.3758" stop-color="#e3723f"/><stop offset="0.3774" stop-color="#e57c41"/><stop offset="0.4553" stop-color="#ef965b"/><stop offset="0.4569" stop-color="#ed9c67"/><stop offset="0.5459" stop-color="#e1b594"/><stop offset="0.5475" stop-color="#dfbb9e"/><stop offset="0.6261" stop-color="#d0c7c3"/><stop offset="0.6277" stop-color="#ccc9cf"/><stop offset="0.6948" stop-color="#a2afdd"/><stop offset="0.6964" stop-color="#9aa8db"/><stop offset="0.8217" stop-color="#7585cb"/><stop offset="0.8233" stop-color="#6d7dc6"/><stop offset="1.0000" stop-color="#5a67b6"/></linearGradient>
<linearGradient id="h44" gradientUnits="userSpaceOnUse" x1="56.5" x2="390.5" y1="0" y2="0"><stop offset="0.0000" stop-color="#bb1718"/><stop offset="0.1976" stop-color="#c5221e"/><stop offset="0.1992" stop-color="#c72620"/><stop offset="0.3081" stop-color="#d3412b"/><stop offset="0.3097" stop-color="#d54c2d"/><stop offset="0.3743" stop-color="#e3723f"/><stop offset="0.3759" stop-color="#e57c41"/><stop offset="0.4543" stop-color="#ef965b"/><stop offset="0.4559" stop-color="#ed9c67"/><stop offset="0.5446" stop-color="#e1b594"/><stop offset="0.5462" stop-color="#dfbb9e"/><stop offset="0.6246" stop-color="#d0c7c3"/><stop offset="0.6262" stop-color="#ccc9cf"/><stop offset="0.6940" stop-color="#a2afdd"/><stop offset="0.6956" stop-color="#9aa8db"/><stop offset="0.8185" stop-color="#7585cb"/><stop offset="0.8201" stop-color="#6d7dc6"/><stop offset="1.0000" stop-color="#5a66b6"/></linearGradient>
<linearGradient id="h45" gradientUnits="userSpaceOnUse" x1="56.5" x2="390.5" y1="0" y2="0"><stop offset="0.0000" stop-color="#bb1718"/><stop offset="0.1958" stop-color="#c5221e"/><stop offset="0.1974" stop-color="#c72620"/><stop offset="0.3069" stop-color="#d3412b"/><stop offset="0.3085" stop-color="#d54c2d"/><stop offset="0.3732" stop-color="#e3723f"/><stop offset="0.3748" stop-color="#e57c41"/><stop offset="0.4533" stop-color="#ef965b"/><stop offset="0.4549" stop-color="#ed9c67"/><stop offset="0.5426" stop-color="#e1b594"/><stop offset="0.5442" stop-color="#dfbb9e"/><stop offset="0.6232" stop-color="#d0c7c3"/><stop offset="0.6248" stop-color="#ccc9cf"/><stop offset="0.6932" stop-color="#a2afdd"/><stop offset="0.6948" stop-color="#9aa8db"/><stop offset="0.8153" stop-color="#7585cb"/><stop offset="0.8169" stop-color="#6d7dc6"/><stop offset="1.0000" stop-color="#5a66b6"/></linearGradient>
<linearGradient id="h46" gradientUnits="userSpaceOnUse" x1="56.5" x2="390.5" y1="0" y2="0"><stop offset="0.0000" stop-color="#bb1718"/><stop offset="0.1941" stop-color="#c5221e"/><stop offset="0.1957" stop-color="#c72620"/><stop offset="0.3056" stop-color="#d3412b"/><stop offset="0.3072" stop-color="#d54c2d"/><stop offset="0.3720" stop-color="#e3723f"/><stop offset="0.3736" stop-color="#e57c41"/><stop offset="0.4523" stop-color="#ef965b"/><stop offset="0.4539" stop-color="#ed9c67"/><stop offset="0.5406" stop-color="#e1b594"/><stop offset="0.5422" stop-color="#dfbb9e"/><stop offset="0.6218" stop-color="#d0c7c3"/><stop offset="0.6234" stop-color="#ccc9cf"/><stop offset="0.6924" stop-color="#a2afdd"/><stop offset="0.6940" stop-color="#9aa8db"/><stop offset="0.8121" stop-color="#7585cb"/><stop offset="0.8137" stop-color="#6d7dc6"/><stop offset="1.0000" stop-color="#5a66b6"/></linearGradient>
<linearGradient id="h47" gradientUnits="userSpaceOnUse" x1="56.5" x2="390.5" y1="0" y2="0"><stop offset="0.0000" stop-color="#bb1718"/><stop offset="0.1923" stop-color="#c5221e"/><stop offset="0.1939" stop-color="#c72620"/><stop offset="0.3044" stop-color="#d3412b"/><stop offset="0.3060" stop-color="#d54c2d"/><stop offset="0.3708" stop-color="#e3723f"/><stop offset="0.3724" stop-color="#e57c41"/><stop offset="0.4513" stop-color="#ef965b"/><stop offset="0.4529" stop-color="#ed9c67"/><stop offset="0.5386" stop-color="#e1b594"/><stop offset="0.5402" stop-color="#dfbb9e"/><stop offset="0.6204" stop-color="#d0c7c3"/><stop offset="0.6220" stop-color="#ccc9cf"/><stop offset="0.6916" stop-color="#a2afdd"/><stop offset="0.6932" stop-color="#9aa8db"/><stop offset="0.8081" stop-color="#7585cb"/><stop offset="0.8097" stop-color="#6d7dc6"/><stop offset="1.0000" stop-color="#5a66b6"/></linearGradient>
<linearGradient id="h48" gradientUnits="userSpaceOnUse" x1="56.5" x2="390.5" y1="0" y2="0"><stop offset="0.0000" stop-color="#bb1718"/><stop offset="0.1876" stop-color="#c5221e"/><stop offset="0.1892" stop-color="#c72620"/><stop offset="0.3032" stop-color="#d3412b"/><stop offset="0.3048" stop-color="#d54c2d"/><stop offset="0.3696" stop-color="#e3723f"/><stop offset="0.3712" stop-color="#e57c41"/><stop offset="0.4503" stop-color="#ef965b"/><stop offset="0.4519" stop-color="#ed9c67"/><stop offset="0.5366" stop-color="#e1b594"/><stop offset="0.5382" stop-color="#dfbb9e"/><stop offset="0.6190" stop-color="#d0c7c3"/><stop offset="0.6206" stop-color="#ccc9cf"/><stop offset="0.6908" stop-color="#a2afdd"/><stop offset="0.6924" stop-color="#9aa8db"/><stop offset="0.8041" stop-color="#7585cb"/><stop offset="0.8057" stop-color="#6d7dc6"/><stop offset="1.0000" stop-color="#5a66b6"/></linearGradient>
<linearGradient id="h49" gradientUnits="userSpaceOnUse" x1="56.5" x2="390.5" y1="0" y2="0"><stop offset="0.0000" stop-color="#bb1718"/><stop offset="0.1828" stop-color="#c5221e"/><stop offset="0.1844" stop-color="#c72620"/><stop offset="0.3019" stop-color="#d3412b"/><stop offset="0.3035" stop-color="#d54c2d"/><stop offset="0.3684" stop-color="#e3723f"/><stop offset="0.3700" stop-color="#e57c41"/><stop offset="0.4481" stop-color="#ef965b"/><stop offset="0.4497" stop-color="#ed9c67"/><stop offset="0.5343" stop-color="#e1b594"/><stop offset="0.5359" stop-color="#dfbb9e"/><stop offset="0.6154" stop-color="#d0c7c3"/><stop offset="0.6170" stop-color="#ccc9cf"/><stop offset="0.6893" stop-color="#a2afdd"/><stop offset="0.6909" stop-color="#9aa8db"/><stop offset="0.8001" stop-color="#7585cb"/><stop offset="0.8017" stop-color="#6d7dc6"/><stop offset="1.0000" stop-color="#5a66b5"/></linearGradient>
<linearGradient id="h50" gradientUnits="userSpaceOnUse" x1="56.5" x2="390.5" y1="0" y2="0"><stop offset="0.0000" stop-color="#bb1818"/><stop offset="0.1781" stop-color="#c5221e"/><stop offset="0.1797" stop-color="#c72620"/><stop offset="0.3007" stop-color="#d3412b"/><stop offset="0.3023" stop-color="#d54c2d"/><stop offset="0.3673" stop-color="#e3723f"/><stop offset="0.3689" stop-color="#e57c41"/><stop offset="0.4446" stop-color="#ef965b"/><stop offset="0.4462" stop-color="#ed9c67"/><stop offset="0.5319" stop-color="#e1b594"/><stop offset="0.5335" stop-color="#dfbb9e"/><stop offset="0.6118" stop-color="#d0c7c3"/><stop offset="0.6134" stop-color="#ccc9cf"/><stop offset="0.6878" stop-color="#a2afdd"/><stop offset="0.6894" stop-color="#9aa8db"/><stop offset="0.7961" stop-color="#7585cb"/><stop offset="0.7977" stop-color="#6d7dc6"/><stop offset="1.0000" stop-color="#5965b5"/></linearGradient>
<linearGradient id="h51" gradientUnits="userSpaceOnUse" x1="56.5" x2="390.5" y1="0" y2="0"><stop offset="0.0000" stop-color="#bc1818"/><stop offset="0.1734" stop-color="#c5221e"/><stop offset="0.1750" stop-color="#c72620"/><stop offset="0.2989" stop-color="#d3412b"/><stop offset="0.3005" stop-color="#d54c2d"/><stop offset="0.3662" stop-color="#e3723f"/><stop offset="0.3678" stop-color="#e57c41"/><stop offset="0.4411" stop-color="#ef965b"/><stop offset="0.4427" stop-color="#ed9c67"/><stop offset="0.5296" stop-color="#e1b594"/><stop offset="0.5312" stop-color="#dfbb9e"/><stop offset="0.6083" stop-color="#d0c7c3"/><stop offset="0.6099" stop-color="#ccc9cf"/><stop offset="0.6863" stop-color="#a2afdd"/><stop offset="0.6879" stop-color="#9aa8db"/><stop offset="0.7920" stop-color="#7585cb"/><stop offset="0.7936" stop-color="#6d7dc6"/><stop offset="1.0000" stop-color="#5965b5"/></linearGradient>
<linearGradient id="h52" gradientUnits="userSpaceOnUse" x1="56.5" x2="390.5" y1="0" y2="0"><stop offset="0.0000" stop-color="#bd1919"/><stop offset="0.1686" stop-color="#c5221e"/><stop offset="0.1702" stop-color="#c72620"/><stop offset="0.2964" stop-color="#d3412b"/><stop offset="0.2980" stop-color="#d54c2d"/><stop offset="0.3651" stop-color="#e3723f"/><stop offset="0.3667" stop-color="#e57c41"/><stop offset="0.4376" stop-color="#ef965b"/><stop offset="0.4392" stop-color="#ed9c67"/><stop offset="0.5273" stop-color="#e1b594"/><stop offset="0.5289" stop-color="#dfbb9e"/><stop offset="0.6047" stop-color="#d0c7c3"/><stop offset="0.6063" stop-color="#ccc9cf"/><stop offset="0.6848" stop-color="#a2afdd"/><stop offset="0.6864" stop-color="#9aa8db"/><stop offset="0.7878" stop-color="#7585cb"/><stop offset="0.7894" stop-color="#6d7dc6"/><stop offset="1.0000" stop-color="#5864b4"/></linearGradient>
<linearGradient id="h53" gradientUnits="userSpaceOnUse" x1="56.5" x2="390.5" y1="0" y2="0"><stop offset="0.0000" stop-color="#bd1919"/><stop offset="0.1639" stop-color="#c5221e"/><stop offset="0.1655" stop-color="#c72620"/><stop offset="0.2939" stop-color="#d3412b"/><stop offset="0.2955" stop-color="#d54c2d"/><stop offset="0.3641" stop-color="#e3723f"/><stop offset="0.3657" stop-color="#e57c41"/><stop offset="0.4341" stop-color="#ef965b"/><stop offset="0.4357" stop-color="#ed9c67"/><stop offset="0.5249" stop-color="#e1b594"/><stop offset="0.5265" stop-color="#dfbb9e"/><stop offset="0.6012" stop-color="#d0c7c3"/><stop offset="0.6028" stop-color="#ccc9cf"/><stop offset="0.6833" stop-color="#a2afdd"/><stop offset="0.6849" stop-color="#9aa8db"/><stop offset="0.7836" stop-color="#7585cb"/><stop offset="0.7852" stop-color="#6d7dc6"/><stop offset="1.0000" stop-color="#5864b4"/></linearGradient>
<linearGradient id="h54" gradientUnits="userSpaceOnUse" x1="56.5" x2="390.5" y1="0" y2="0"><stop offset="0.0000" stop-color="#be1a19"/><stop offset="0.1525" stop-color="#c5221e"/><stop offset="0.1541" stop-color="#c72620"/><stop offset="0.2915" stop-color="#d3412b"/><stop offset="0.2931" stop-color="#d54c2d"/><stop offset="0.3630" stop-color="#e3723f"/><stop offset="0.3646" stop-color="#e57c41"/><stop offset="0.4306" stop-color="#ef965b"/><stop offset="0.4322" stop-color="#ed9c67"/><stop offset="0.5226" stop-color="#e1b594"/><stop offset="0.5242" stop-color="#dfbb9e"/><stop offset="0.5976" stop-color="#d0c7c3"/><stop offset="0.5992" stop-color="#ccc9cf"/><stop offset="0.6817" stop-color="#a2afdd"/><stop offset="0.6833" stop-color="#9aa8db"/><stop offset="0.7794" stop-color="#7585cb"/><stop offset="0.7810" stop-color="#6d7dc6"/><stop offset="1.0000" stop-color="#5763b4"/></linearGradient>
<linearGradient id="h55" gradientUnits="userSpaceOnUse" x1="56.5" x2="390.5" y1="0" y2="0"><stop offset="0.0000" stop-color="#be1a1a"/><stop offset="0.1411" stop-color="#c5221e"/><stop offset="0.1427" stop-color="#c72620"/><stop offset="0.2890" stop-color="#d3412b"/><stop offset="0.2906" stop-color="#d54c2d"/><stop offset="0.3619" stop-color="#e3723f"/><stop offset="0.3635" stop-color="#e57c41"/><stop offset="0.4276" stop-color="#ef965b"/><stop offset="0.4292" stop-color="#ed9c67"/><stop offset="0.5202" stop-color="#e1b594"/><stop offset="0.5218" stop-color="#dfbb9e"/><stop offset="0.5941" stop-color="#d0c7c3"/><stop offset="0.5957" stop-color="#ccc9cf"/><stop offset="0.6802" stop-color="#a2afdd"/><stop offset="0.6818" stop-color="#9aa8db"/><stop offset="0.7752" stop-color="#7585cb"/><stop offset="0.7768" stop-color="#6d7dc6"/><stop offset="1.0000" stop-color="#5763b3"/></linearGradient>
<linearGradient id="h56" gradientUnits="userSpaceOnUse" x1="56.5" x2="390.5" y1="0" y2="0"><stop offset="0.0000" stop-color="#bf1b1a"/><stop offset="0.1297" stop-color="#c5221e"/><stop offset="0.1313" stop-color="#c72620"/><stop offset="0.2865" stop-color="#d3412b"/><stop offset="0.2881" stop-color="#d54c2d"/><stop offset="0.3608" stop-color="#e3723f"/><stop offset="0.3624" stop-color="#e57c41"/><stop offset="0.4252" stop-color="#ef965b"/><stop offset="0.4268" stop-color="#ed9c67"/><stop offset="0.5179" stop-color="#e1b594"/><stop offset="0.5195" stop-color="#dfbb9e"/><stop offset="0.5905" stop-color="#d0c7c3"/><stop offset="0.5921" stop-color="#ccc9cf"/><stop offset="0.6787" stop-color="#a2afdd"/><stop offset="0.6803" stop-color="#9aa8db"/><stop offset="0.7714" stop-color="#7585cb"/><stop offset="0.7730" stop-color="#6d7dc6"/><stop offset="1.0000" stop-color="#5762b3"/></linearGradient>
<linearGradient id="h57" gradientUnits="userSpaceOnUse" x1="56.5" x2="390.5" y1="0" y2="0"><stop offset="0.0000" stop-color="#c11d1b"/><stop offset="0.1184" stop-color="#c5221e"/><stop offset="0.1200" stop-color="#c72620"/><stop offset="0.2841" stop-color="#d3412b"/><stop offset="0.2857" stop-color="#d54c2d"/><stop offset="0.3595" stop-color="#e3723f"/><stop offset="0.3611" stop-color="#e57c41"/><stop offset="0.4229" stop-color="#ef965b"/><stop offset="0.4245" stop-color="#ed9c67"/><stop offset="0.5155" stop-color="#e1b594"/><stop offset="0.5171" stop-color="#dfbb9e"/><stop offset="0.5862" stop-color="#d0c7c3"/><stop offset="0.5878" stop-color="#ccc9cf"/><stop offset="0.6772" stop-color="#a2afdd"/><stop offset="0.6788" stop-color="#9aa8db"/><stop offset="0.7678" stop-color="#7585cb"/><stop offset="0.7694" stop-color="#6d7dc6"/><stop offset="1.0000" stop-color="#5662b2"/></linearGradient>
<linearGradient id="h58" gradientUnits="userSpaceOnUse" x1="56.5" x2="390.5" y1="0" y2="0"><stop offset="0.0000" stop-color="#c21f1c"/><stop offset="0.1070" stop-color="#c5221e"/><stop offset="0.1086" stop-color="#c72620"/><stop offset="0.2816" stop-color="#d3412b"/><stop offset="0.2832" stop-color="#d54c2d"/><stop offset="0.3578" stop-color="#e3723f"/><stop offset="0.3594" stop-color="#e57c41"/><stop offset="0.4205" stop-color="#ef965b"/><stop offset="0.4221" stop-color="#ed9c67"/><stop offset="0.5132" stop-color="#e1b594"/><stop offset="0.5148" stop-color="#dfbb9e"/><stop offset="0.5820" stop-color="#d0c7c3"/><stop offset="0.5836" stop-color="#ccc9cf"/><stop offset="0.6753" stop-color="#a2afdd"/><stop offset="0.6769" stop-color="#9aa8db"/><stop offset="0.7642" stop-color="#7585cb"/><stop offset="0.7658" stop-color="#6d7dc6"/><stop offset="1.0000" stop-color="#5661b2"/></linearGradient>
<linearGradient id="h59" gradientUnits="userSpaceOnUse" x1="56.5" x2="390.5" y1="0" y2="0"><stop offset="0.0000" stop-color="#c4211d"/><stop offset="0.0531" stop-color="#c5221e"/><stop offset="0.0547" stop-color="#c72620"/><stop offset="0.2791" stop-color="#d3412b"/><stop offset="0.2807" stop-color="#d54c2d"/><stop offset="0.3560" stop-color="#e3723f"/><stop offset="0.3576" stop-color="#e57c41"/><stop offset="0.4181" stop-color="#ef965b"/><stop offset="0.4197" stop-color="#ed9c67"/><stop offset="0.5109" stop-color="#e1b594"/><stop offset="0.5125" stop-color="#dfbb9e"/><stop offset="0.5777" stop-color="#d0c7c3"/><stop offset="0.5793" stop-color="#ccc9cf"/><stop offset="0.6730" stop-color="#a2afdd"/><stop offset="0.6746" stop-color="#9aa8db"/><stop offset="0.7606" stop-color="#7585cb"/><stop offset="0.7622" stop-color="#6d7dc6"/><stop offset="1.0000" stop-color="#5561b2"/></linearGradient>
<linearGradient id="h60" gradientUnits="userSpaceOnUse" x1="56.5" x2="390.5" y1="0" y2="0"><stop offset="0.0000" stop-color="#c72720"/><stop offset="0.2764" stop-color="#d3412b"/><stop offset="0.2780" stop-color="#d54c2d"/><stop offset="0.3542" stop-color="#e3723f"/><stop offset="0.3558" stop-color="#e57c41"/><stop offset="0.4161" stop-color="#ef965b"/><stop offset="0.4177" stop-color="#ed9c67"/><stop offset="0.5086" stop-color="#e1b594"/><stop offset="0.5102" stop-color="#dfbb9e"/><stop offset="0.5748" stop-color="#d0c7c3"/><stop offset="0.5764" stop-color="#ccc9cf"/><stop offset="0.6707" stop-color="#a2afdd"/><stop offset="0.6723" stop-color="#9aa8db"/><stop offset="0.7570" stop-color="#7585cb"/><stop offset="0.7586" stop-color="#6d7dc6"/><stop offset="1.0000" stop-color="#5560b1"/></linearGradient>
<linearGradient id="h61" gradientUnits="userSpaceOnUse" x1="56.5" x2="390.5" y1="0" y2="0"><stop offset="0.0000" stop-color="#c82921"/><stop offset="0.2736" stop-color="#d3412b"/><stop offset="0.2752" stop-color="#d54c2d"/><stop offset="0.3524" stop-color="#e3723f"/><stop offset="0.3540" stop-color="#e57c41"/><stop offset="0.4146" stop-color="#ef965b"/><stop offset="0.4162" stop-color="#ed9c67"/><stop offset="0.5063" stop-color="#e1b594"/><stop offset="0.5079" stop-color="#dfbb9e"/><stop offset="0.5734" stop-color="#d0c7c3"/><stop offset="0.5750" stop-color="#ccc9cf"/><stop offset="0.6684" stop-color="#a2afdd"/><stop offset="0.6700" stop-color="#9aa8db"/><stop offset="0.7539" stop-color="#7585cb"/><stop offset="0.7555" stop-color="#6d7dc6"/><stop offset="1.0000" stop-color="#5460b1"/></linearGradient>
<linearGradient id="h62" gradientUnits="userSpaceOnUse" x1="56.5" x2="390.5" y1="0" y2="0"><stop offset="0.0000" stop-color="#c92b22"/><stop offset="0.2708" stop-color="#d3412b"/><stop offset="0.2724" stop-color="#d54c2d"/><stop offset="0.3507" stop-color="#e3723f"/><stop offset="0.3523" stop-color="#e57c41"/><stop offset="0.4131" stop-color="#ef965b"/><stop offset="0.4147" stop-color="#ed9c67"/><stop offset="0.5041" stop-color="#e1b594"/><stop offset="0.5057" stop-color="#dfbb9e"/><stop offset="0.5720" stop-color="#d0c7c3"/><stop offset="0.5736" stop-color="#ccc9cf"/><stop offset="0.6661" stop-color="#a2afdd"/><stop offset="0.6677" stop-color="#9aa8db"/><stop offset="0.7513" stop-color="#7585cb"/><stop offset="0.7529" stop-color="#6d7dc6"/><stop offset="1.0000" stop-color="#545fb1"/></linearGradient>
<linearGradient id="h63" gradientUnits="userSpaceOnUse" x1="56.5" x2="390.5" y1="0" y2="0"><stop offset="0.0000" stop-color="#c82a22"/><stop offset="0.2680" stop-color="#d3412b"/><stop offset="0.2696" stop-color="#d54c2d"/><stop offset="0.3489" stop-color="#e3723f"/><stop offset="0.3505" stop-color="#e57c41"/><stop offset="0.4116" stop-color="#ef965b"/><stop offset="0.4132" stop-color="#ed9c67"/><stop offset="0.5018" stop-color="#e1b594"/><stop offset="0.5034" stop-color="#dfbb9e"/><stop offset="0.5706" stop-color="#d0c7c3"/><stop offset="0.5722" stop-color="#ccc9cf"/><stop offset="0.6638" stop-color="#a2afdd"/><stop offset="0.6654" stop-color="#9aa8db"/><stop offset="0.7488" stop-color="#7585cb"/><stop offset="0.7504" stop-color="#6d7dc6"/><stop offset="1.0000" stop-color="#545fb0"/></linearGradient>
<linearGradient id="h64" gradientUnits="userSpaceOnUse" x1="56.5" x2="390.5" y1="0" y2="0"><stop offset="0.0000" stop-color="#c72721"/><stop offset="0.2652" stop-color="#d3412b"/><stop offset="0.2668" stop-color="#d54c2d"/><stop offset="0.3460" stop-color="#e3723f"/><stop offset="0.3476" stop-color="#e57c41"/><stop offset="0.4101" stop-color="#ef965b"/><stop offset="0.4117" stop-color="#ed9c67"/><stop offset="0.4996" stop-color="#e1b594"/><stop offset="0.5012" stop-color="#dfbb9e"/><stop offset="0.5691" stop-color="#d0c7c3"/><stop offset="0.5707" stop-color="#ccc9cf"/><stop offset="0.6615" stop-color="#a2afdd"/><stop offset="0.6631" stop-color="#9aa8db"/><stop offset="0.7462" stop-color="#7585cb"/><stop offset="0.7478" stop-color="#6d7dc6"/><stop offset="1.0000" stop-color="#535eb0"/></linearGradient>
<linearGradient id="h65" gradientUnits="userSpaceOnUse" x1="56.5" x2="390.5" y1="0" y2="0"><stop offset="0.0000" stop-color="#c5221e"/><stop offset="0.0157" stop-color="#c5221e"/><stop offset="0.0173" stop-color="#c72620"/><stop offset="0.2625" stop-color="#d3412b"/><stop offset="0.2641" stop-color="#d54c2d"/><stop offset="0.3420" stop-color="#e3723f"/><stop offset="0.3436" stop-color="#e57c41"/><stop offset="0.4086" stop-color="#ef965b"/><stop offset="0.4102" stop-color="#ed9c67"/><stop offset="0.4973" stop-color="#e1b594"/><stop offset="0.4989" stop-color="#dfbb9e"/><stop offset="0.5677" stop-color="#d0c7c3"/><stop offset="0.5693" stop-color="#ccc9cf"/><stop offset="0.6592" stop-color="#a2afdd"/><stop offset="0.6608" stop-color="#9aa8db"/><stop offset="0.7436" stop-color="#7585cb"/><stop offset="0.7452" stop-color="#6d7dc6"/><stop offset="1.0000" stop-color="#535eb0"/></linearGradient>
<linearGradient id="h66" gradientUnits="userSpaceOnUse" x1="56.5" x2="390.5" y1="0" y2="0"><stop offset="0.0000" stop-color="#c5211e"/><stop offset="0.0376" stop-color="#c5221e"/><stop offset="0.0392" stop-color="#c72620"/><stop offset="0.2597" stop-color="#d3412b"/><stop offset="0.2613" stop-color="#d54c2d"/><stop offset="0.3380" stop-color="#e3723f"/><stop offset="0.3396" stop-color="#e57c41"/><stop offset="0.4071" stop-color="#ef965b"/><stop offset="0.4087" stop-color="#ed9c67"/><stop offset="0.4951" stop-color="#e1b594"/><stop offset="0.4967" stop-color="#dfbb9e"/><stop offset="0.5663" stop-color="#d0c7c3"/><stop offset="0.5679" stop-color="#ccc9cf"/><stop offset="0.6568" stop-color="#a2afdd"/><stop offset="0.6584" stop-color="#9aa8db"/><stop offset="0.7411" stop-color="#7585cb"/><stop offset="0.7427" stop-color="#6d7dc6"/><stop offset="1.0000" stop-color="#535daf"/></linearGradient>
<linearGradient id="h67" gradientUnits="userSpaceOnUse" x1="56.5" x2="390.5" y1="0" y2="0"><stop offset="0.0000" stop-color="#c4211d"/><stop offset="0.0456" stop-color="#c5221e"/><stop offset="0.0472" stop-color="#c72620"/><stop offset="0.2526" stop-color="#d3412b"/><stop offset="0.2542" stop-color="#d54c2d"/><stop offset="0.3340" stop-color="#e3723f"/><stop offset="0.3356" stop-color="#e57c41"/><stop offset="0.4056" stop-color="#ef965b"/><stop offset="0.4072" stop-color="#ed9c67"/><stop offset="0.4928" stop-color="#e1b594"/><stop offset="0.4944" stop-color="#dfbb9e"/><stop offset="0.5649" stop-color="#d0c7c3"/><stop offset="0.5665" stop-color="#ccc9cf"/><stop offset="0.6545" stop-color="#a2afdd"/><stop offset="0.6561" stop-color="#9aa8db"/><stop offset="0.7385" stop-color="#7585cb"/><stop offset="0.7401" stop-color="#6d7dc6"/><stop offset="1.0000" stop-color="#525daf"/></linearGradient>
<linearGradient id="h68" gradientUnits="userSpaceOnUse" x1="56.5" x2="390.5" y1="0" y2="0"><stop offset="0.0000" stop-color="#c4201d"/><stop offset="0.0536" stop-color="#c5221e"/><stop offset="0.0552" stop-color="#c72620"/><stop offset="0.2455" stop-color="#d3412b"/><stop offset="0.2471" stop-color="#d54c2d"/><stop offset="0.3300" stop-color="#e3723f"/><stop offset="0.3316" stop-color="#e57c41"/><stop offset="0.4038" stop-color="#ef965b"/><stop offset="0.4054" stop-color="#ed9c67"/><stop offset="0.4895" stop-color="#e1b594"/><stop offset="0.4911" stop-color="#dfbb9e"/><stop offset="0.5634" stop-color="#d0c7c3"/><stop offset="0.5650" stop-color="#ccc9cf"/><stop offset="0.6524" stop-color="#a2afdd"/><stop offset="0.6540" stop-color="#9aa8db"/><stop offset="0.7359" stop-color="#7585cb"/><stop offset="0.7375" stop-color="#6d7dc6"/><stop offset="1.0000" stop-color="#525daf"/></linearGradient>
<linearGradient id="h69" gradientUnits="userSpaceOnUse" x1="56.5" x2="390.5" y1="0" y2="0"><stop offset="0.0000" stop-color="#c3201d"/><stop offset="0.0582" stop-color="#c5221e"/><stop offset="0.0598" stop-color="#c72620"/><stop offset="0.2383" stop-color="#d3412b"/><stop offset="0.2399" stop-color="#d54c2d"/><stop offset="0.3260" stop-color="#e3723f"/><stop offset="0.3276" stop-color="#e57c41"/><stop offset="0.4016" stop-color="#ef965b"/><stop offset="0.4032" stop-color="#ed9c67"/><stop offset="0.4850" stop-color="#e1b594"/><stop offset="0.4866" stop-color="#dfbb9e"/><stop offset="0.5620" stop-color="#d0c7c3"/><stop offset="0.5636" stop-color="#ccc9cf"/><stop offset="0.6506" stop-color="#a2afdd"/><stop offset="0.6522" stop-color="#9aa8db"/><stop offset="0.7334" stop-color="#7585cb"/><stop offset="0.7350" stop-color="#6d7dc6"/><stop offset="1.0000" stop-color="#515cae"/></linearGradient>
<linearGradient id="h70" gradientUnits="userSpaceOnUse" x1="56.5" x2="390.5" y1="0" y2="0"><stop offset="0.0000" stop-color="#c31f1c"/><stop offset="0.0594" stop-color="#c5221e"/><stop offset="0.0610" stop-color="#c72620"/><stop offset="0.2312" stop-color="#d3412b"/><stop offset="0.2328" stop-color="#d54c2d"/><stop offset="0.3232" stop-color="#e3723f"/><stop offset="0.3248" stop-color="#e57c41"/><stop offset="0.3994" stop-color="#ef965b"/><stop offset="0.4010" stop-color="#ed9c67"/><stop offset="0.4805" stop-color="#e1b594"/><stop offset="0.4821" stop-color="#dfbb9e"/><stop offset="0.5606" stop-color="#d0c7c3"/><stop offset="0.5622" stop-color="#ccc9cf"/><stop offset="0.6487" stop-color="#a2afdd"/><stop offset="0.6503" stop-color="#9aa8db"/><stop offset="0.7309" stop-color="#7585cb"/><stop offset="0.7325" stop-color="#6d7dc6"/><stop offset="1.0000" stop-color="#515cae"/></linearGradient>
<linearGradient id="h71" gradientUnits="userSpaceOnUse" x1="56.5" x2="390.5" y1="0" y2="0"><stop offset="0.0000" stop-color="#c21f1c"/><stop offset="0.0606" stop-color="#c5221e"/><stop offset="0.0622" stop-color="#c72620"/><stop offset="0.2230" stop-color="#d3412b"/><stop offset="0.2246" stop-color="#d54c2d"/><stop offset="0.3216" stop-color="#e3723f"/><stop offset="0.3232" stop-color="#e57c41"/><stop offset="0.3972" stop-color="#ef965b"/><stop offset="0.3988" stop-color="#ed9c67"/><stop offset="0.4760" stop-color="#e1b594"/><stop offset="0.4776" stop-color="#dfbb9e"/><stop offset="0.5587" stop-color="#d0c7c3"/><stop offset="0.5603" stop-color="#ccc9cf"/><stop offset="0.6468" stop-color="#a2afdd"/><stop offset="0.6484" stop-color="#9aa8db"/><stop offset="0.7285" stop-color="#7585cb"/><stop offset="0.7301" stop-color="#6d7dc6"/><stop offset="1.0000" stop-color="#515bae"/></linearGradient>
<linearGradient id="h72" gradientUnits="userSpaceOnUse" x1="56.5" x2="390.5" y1="0" y2="0"><stop offset="0.0000" stop-color="#c21e1c"/><stop offset="0.0618" stop-color="#c5221e"/><stop offset="0.0634" stop-color="#c72620"/><stop offset="0.2148" stop-color="#d3412b"/><stop offset="0.2164" stop-color="#d54c2d"/><stop offset="0.3199" stop-color="#e3723f"/><stop offset="0.3215" stop-color="#e57c41"/><stop offset="0.3950" stop-color="#ef965b"/><stop offset="0.3966" stop-color="#ed9c67"/><stop offset="0.4728" stop-color="#e1b594"/><stop offset="0.4744" stop-color="#dfbb9e"/><stop offset="0.5569" stop-color="#d0c7c3"/><stop offset="0.5585" stop-color="#ccc9cf"/><stop offset="0.6449" stop-color="#a2afdd"/><stop offset="0.6465" stop-color="#9aa8db"/><stop offset="0.7260" stop-color="#7585cb"/><stop offset="0.7276" stop-color="#6d7dc6"/><stop offset="1.0000" stop-color="#505bad"/></linearGradient>
<linearGradient id="h73" gradientUnits="userSpaceOnUse" x1="56.5" x2="390.5" y1="0" y2="0"><stop offset="0.0000" stop-color="#c21e1c"/><stop offset="0.0630" stop-color="#c5221e"/><stop offset="0.0646" stop-color="#c72620"/><stop offset="0.2065" stop-color="#d3412b"/><stop offset="0.2081" stop-color="#d54c2d"/><stop offset="0.3182" stop-color="#e3723f"/><stop offset="0.3198" stop-color="#e57c41"/><stop offset="0.3928" stop-color="#ef965b"/><stop offset="0.3944" stop-color="#ed9c67"/><stop offset="0.4708" stop-color="#e1b594"/><stop offset="0.4724" stop-color="#dfbb9e"/><stop offset="0.5551" stop-color="#d0c7c3"/><stop offset="0.5567" stop-color="#ccc9cf"/><stop offset="0.6430" stop-color="#a2afdd"/><stop offset="0.6446" stop-color="#9aa8db"/><stop offset="0.7236" stop-color="#7585cb"/><stop offset="0.7252" stop-color="#6d7dc6"/><stop offset="1.0000" stop-color="#505aad"/></linearGradient>
<linearGradient id="h74" gradientUnits="userSpaceOnUse" x1="56.5" x2="390.5" y1="0" y2="0"><stop offset="0.0000" stop-color="#c21f1c"/><stop offset="0.0629" stop-color="#c5221e"/><stop offset="0.0645" stop-color="#c72620"/><stop offset="0.1983" stop-color="#d3412b"/><stop offset="0.1999" stop-color="#d54c2d"/><stop offset="0.3166" stop-color="#e3723f"/><stop offset="0.3182" stop-color="#e57c41"/><stop offset="0.3905" stop-color="#ef965b"/><stop offset="0.3921" stop-color="#ed9c67"/><stop offset="0.4688" stop-color="#e1b594"/><stop offset="0.4704" stop-color="#dfbb9e"/><stop offset="0.5533" stop-color="#d0c7c3"/><stop offset="0.5549" stop-color="#ccc9cf"/><stop offset="0.6411" stop-color="#a2afdd"/><stop offset="0.6427" stop-color="#9aa8db"/><stop offset="0.7211" stop-color="#7585cb"/><stop offset="0.7227" stop-color="#6d7dc6"/><stop offset="1.0000" stop-color="#4f5aad"/></linearGradient>
<linearGradient id="h75" gradientUnits="userSpaceOnUse" x1="56.5" x2="390.5" y1="0" y2="0"><stop offset="0.0000" stop-color="#c31f1c"/><stop offset="0.0616" stop-color="#c5221e"/><stop offset="0.0632" stop-color="#c72620"/><stop offset="0.1967" stop-color="#d3412b"/><stop offset="0.1983" stop-color="#d54c2d"/><stop offset="0.3149" stop-color="#e3723f"/><stop offset="0.3165" stop-color="#e57c41"/><stop offset="0.3883" stop-color="#ef965b"/><stop offset="0.3899" stop-color="#ed9c67"/><stop offset="0.4668" stop-color="#e1b594"/><stop offset="0.4684" stop-color="#dfbb9e"/><stop offset="0.5514" stop-color="#d0c7c3"/><stop offset="0.5530" stop-color="#ccc9cf"/><stop offset="0.6392" stop-color="#a2afdd"/><stop offset="0.6408" stop-color="#9aa8db"/><stop offset="0.7187" stop-color="#7585cb"/><stop offset="0.7203" stop-color="#6d7dc6"/><stop offset="1.0000" stop-color="#4f59ac"/></linearGradient>
<linearGradient id="h76" gradientUnits="userSpaceOnUse" x1="56.5" x2="390.5" y1="0" y2="0"><stop offset="0.0000" stop-color="#c3201d"/><stop offset="0.0602" stop-color="#c5221e"/><stop offset="0.0618" stop-color="#c72620"/><stop offset="0.1951" stop-color="#d3412b"/><stop offset="0.1967" stop-color="#d54c2d"/><stop offset="0.3132" stop-color="#e3723f"/><stop offset="0.3148" stop-color="#e57c41"/><stop offset="0.3861" stop-color="#ef965b"/><stop offset="0.3877" stop-color="#ed9c67"/><stop offset="0.4648" stop-color="#e1b594"/><stop offset="0.4664" stop-color="#dfbb9e"/><stop offset="0.5496" stop-color="#d0c7c3"/><stop offset="0.5512" stop-color="#ccc9cf"/><stop offset="0.6373" stop-color="#a2afdd"/><stop offset="0.6389" stop-color="#9aa8db"/><stop offset="0.7163" stop-color="#7585cb"/><stop offset="0.7179" stop-color="#6d7dc6"/><stop offset="1.0000" stop-color="#4f59ac"/></linearGradient>
<linearGradient id="h77" gradientUnits="userSpaceOnUse" x1="56.5" x2="390.5" y1="0" y2="0"><stop offset="0.0000" stop-color="#c4201d"/><stop offset="0.0589" stop-color="#c5221e"/><stop offset="0.0605" stop-color="#c72620"/><stop offset="0.1935" stop-color="#d3412b"/><stop offset="0.1951" stop-color="#d54c2d"/><stop offset="0.3116" stop-color="#e3723f"/><stop offset="0.3132" stop-color="#e57c41"/><stop offset="0.3839" stop-color="#ef965b"/><stop offset="0.3855" stop-color="#ed9c67"/><stop offset="0.4628" stop-color="#e1b594"/><stop offset="0.4644" stop-color="#dfbb9e"/><stop offset="0.5478" stop-color="#d0c7c3"/><stop offset="0.5494" stop-color="#ccc9cf"/><stop offset="0.6354" stop-color="#a2afdd"/><stop offset="0.6370" stop-color="#9aa8db"/><stop offset="0.7153" stop-color="#7585cb"/><stop offset="0.7169" stop-color="#6d7dc6"/><stop offset="1.0000" stop-color="#4e59ac"/></linearGradient>
<linearGradient id="h78" gradientUnits="userSpaceOnUse" x1="56.5" x2="390.5" y1="0" y2="0"><stop offset="0.0000" stop-color="#c4211d"/><stop offset="0.0576" stop-color="#c5221e"/><stop offset="0.0592" stop-color="#c72620"/><stop offset="0.1919" stop-color="#d3412b"/><stop offset="0.1935" stop-color="#d54c2d"/><stop offset="0.3099" stop-color="#e3723f"/><stop offset="0.3115" stop-color="#e57c41"/><stop offset="0.3811" stop-color="#ef965b"/><stop offset="0.3827" stop-color="#ed9c67"/><stop offset="0.4608" stop-color="#e1b594"/><stop offset="0.4624" stop-color="#dfbb9e"/><stop offset="0.5459" stop-color="#d0c7c3"/><stop offset="0.5475" stop-color="#ccc9cf"/><stop offset="0.6340" stop-color="#a2afdd"/><stop offset="0.6356" stop-color="#9aa8db"/><stop offset="0.7143" stop-color="#7585cb"/><stop offset="0.7159" stop-color="#6d7dc6"/><stop offset="1.0000" stop-color="#4e58ab"/></linearGradient>
<linearGradient id="h79" gradientUnits="userSpaceOnUse" x1="56.5" x2="390.5" y1="0" y2="0"><stop offset="0.0000" stop-color="#c5211e"/><stop offset="0.0426" stop-color="#c5221e"/><stop offset="0.0442" stop-color="#c72620"/><stop offset="0.1903" stop-color="#d3412b"/><stop offset="0.1919" stop-color="#d54c2d"/><stop offset="0.3077" stop-color="#e3723f"/><stop offset="0.3093" stop-color="#e57c41"/><stop offset="0.3783" stop-color="#ef965b"/><stop offset="0.3799" stop-color="#ed9c67"/><stop offset="0.4588" stop-color="#e1b594"/><stop offset="0.4604" stop-color="#dfbb9e"/><stop offset="0.5441" stop-color="#d0c7c3"/><stop offset="0.5457" stop-color="#ccc9cf"/><stop offset="0.6326" stop-color="#a2afdd"/><stop offset="0.6342" stop-color="#9aa8db"/><stop offset="0.7133" stop-color="#7585cb"/><stop offset="0.7149" stop-color="#6d7dc6"/><stop offset="1.0000" stop-color="#4e58ab"/></linearGradient>
<linearGradient id="h80" gradientUnits="userSpaceOnUse" x1="56.5" x2="390.5" y1="0" y2="0"><stop offset="0.0000" stop-color="#c5221e"/><stop offset="0.0276" stop-color="#c5221e"/><stop offset="0.0292" stop-color="#c72620"/><stop offset="0.1887" stop-color="#d3412b"/><stop offset="0.1903" stop-color="#d54c2d"/><stop offset="0.3049" stop-color="#e3723f"/><stop offset="0.3065" stop-color="#e57c41"/><stop offset="0.3755" stop-color="#ef965b"/><stop offset="0.3771" stop-color="#ed9c67"/><stop offset="0.4572" stop-color="#e1b594"/><stop offset="0.4588" stop-color="#dfbb9e"/><stop offset="0.5419" stop-color="#d0c7c3"/><stop offset="0.5435" stop-color="#ccc9cf"/><stop offset="0.6311" stop-color="#a2afdd"/><stop offset="0.6327" stop-color="#9aa8db"/><stop offset="0.7123" stop-color="#7585cb"/><stop offset="0.7139" stop-color="#6d7dc6"/><stop offset="1.0000" stop-color="#4d57ab"/></linearGradient>
<linearGradient id="h81" gradientUnits="userSpaceOnUse" x1="56.5" x2="390.5" y1="0" y2="0"><stop offset="0.0000" stop-color="#c72821"/><stop offset="0.1871" stop-color="#d3412b"/><stop offset="0.1887" stop-color="#d54c2d"/><stop offset="0.3020" stop-color="#e3723f"/><stop offset="0.3036" stop-color="#e57c41"/><stop offset="0.3728" stop-color="#ef965b"/><stop offset="0.3744" stop-color="#ed9c67"/><stop offset="0.4556" stop-color="#e1b594"/><stop offset="0.4572" stop-color="#dfbb9e"/><stop offset="0.5397" stop-color="#d0c7c3"/><stop offset="0.5413" stop-color="#ccc9cf"/><stop offset="0.6297" stop-color="#a2afdd"/><stop offset="0.6313" stop-color="#9aa8db"/><stop offset="0.7113" stop-color="#7585cb"/><stop offset="0.7129" stop-color="#6d7dc6"/><stop offset="1.0000" stop-color="#4d57ab"/></linearGradient>
<linearGradient id="h82" gradientUnits="userSpaceOnUse" x1="56.5" x2="390.5" y1="0" y2="0"><stop offset="0.0000" stop-color="#c92c22"/><stop offset="0.1846" stop-color="#d3412b"/><stop offset="0.1862" stop-color="#d54c2d"/><stop offset="0.2992" stop-color="#e3723f"/><stop offset="0.3008" stop-color="#e57c41"/><stop offset="0.3700" stop-color="#ef965b"/><stop offset="0.3716" stop-color="#ed9c67"/><stop offset="0.4541" stop-color="#e1b594"/><stop offset="0.4557" stop-color="#dfbb9e"/><stop offset="0.5375" stop-color="#d0c7c3"/><stop offset="0.5391" stop-color="#ccc9cf"/><stop offset="0.6283" stop-color="#a2afdd"/><stop offset="0.6299" stop-color="#9aa8db"/><stop offset="0.7103" stop-color="#7585cb"/><stop offset="0.7119" stop-color="#6d7dc6"/><stop offset="1.0000" stop-color="#4d56aa"/></linearGradient>
<linearGradient id="h83" gradientUnits="userSpaceOnUse" x1="56.5" x2="390.5" y1="0" y2="0"><stop offset="0.0000" stop-color="#cb2f24"/><stop offset="0.1811" stop-color="#d3412b"/><stop offset="0.1827" stop-color="#d54c2d"/><stop offset="0.2964" stop-color="#e3723f"/><stop offset="0.2980" stop-color="#e57c41"/><stop offset="0.3672" stop-color="#ef965b"/><stop offset="0.3688" stop-color="#ed9c67"/><stop offset="0.4525" stop-color="#e1b594"/><stop offset="0.4541" stop-color="#dfbb9e"/><stop offset="0.5353" stop-color="#d0c7c3"/><stop offset="0.5369" stop-color="#ccc9cf"/><stop offset="0.6268" stop-color="#a2afdd"/><stop offset="0.6284" stop-color="#9aa8db"/><stop offset="0.7093" stop-color="#7585cb"/><stop offset="0.7109" stop-color="#6d7dc6"/><stop offset="1.0000" stop-color="#4c56aa"/></linearGradient>
<linearGradient id="h84" gradientUnits="userSpaceOnUse" x1="56.5" x2="390.5" y1="0" y2="0"><stop offset="0.0000" stop-color="#cc3225"/><stop offset="0.1777" stop-color="#d3412b"/><stop offset="0.1793" stop-color="#d54c2d"/><stop offset="0.2936" stop-color="#e3723f"/><stop offset="0.2952" stop-color="#e57c41"/><stop offset="0.3644" stop-color="#ef965b"/><stop offset="0.3660" stop-color="#ed9c67"/><stop offset="0.4509" stop-color="#e1b594"/><stop offset="0.4525" stop-color="#dfbb9e"/><stop offset="0.5331" stop-color="#d0c7c3"/><stop offset="0.5347" stop-color="#ccc9cf"/><stop offset="0.6254" stop-color="#a2afdd"/><stop offset="0.6270" stop-color="#9aa8db"/><stop offset="0.7084" stop-color="#7585cb"/><stop offset="0.7100" stop-color="#6d7dc6"/><stop offset="1.0000" stop-color="#4c56aa"/></linearGradient>
<linearGradient id="h85" gradientUnits="userSpaceOnUse" x1="56.5" x2="390.5" y1="0" y2="0"><stop offset="0.0000" stop-color="#cd3426"/><stop offset="0.1742" stop-color="#d3412b"/><stop offset="0.1758" stop-color="#d54c2d"/><stop offset="0.2908" stop-color="#e3723f"/><stop offset="0.2924" stop-color="#e57c41"/><stop offset="0.3609" stop-color="#ef965b"/><stop offset="0.3625" stop-color="#ed9c67"/><stop offset="0.4493" stop-color="#e1b594"/><stop offset="0.4509" stop-color="#dfbb9e"/><stop offset="0.5309" stop-color="#d0c7c3"/><stop offset="0.5325" stop-color="#ccc9cf"/><stop offset="0.6240" stop-color="#a2afdd"/><stop offset="0.6256" stop-color="#9aa8db"/><stop offset="0.7076" stop-color="#7585cb"/><stop offset="0.7092" stop-color="#6d7dc6"/><stop offset="1.0000" stop-color="#4c55a9"/></linearGradient>
<linearGradient id="h86" gradientUnits="userSpaceOnUse" x1="56.5" x2="390.5" y1="0" y2="0"><stop offset="0.0000" stop-color="#ce3626"/><stop offset="0.1708" stop-color="#d3412b"/><stop offset="0.1724" stop-color="#d54c2d"/><stop offset="0.2879" stop-color="#e3723f"/><stop offset="0.2895" stop-color="#e57c41"/><stop offset="0.3567" stop-color="#ef965b"/><stop offset="0.3583" stop-color="#ed9c67"/><stop offset="0.4478" stop-color="#e1b594"/><stop offset="0.4494" stop-color="#dfbb9e"/><stop offset="0.5287" stop-color="#d0c7c3"/><stop offset="0.5303" stop-color="#ccc9cf"/><stop offset="0.6225" stop-color="#a2afdd"/><stop offset="0.6241" stop-color="#9aa8db"/><stop offset="0.7068" stop-color="#7585cb"/><stop offset="0.7084" stop-color="#6d7dc6"/><stop offset="1.0000" stop-color="#4b55a9"/></linearGradient>
<linearGradient id="h87" gradientUnits="userSpaceOnUse" x1="56.5" x2="390.5" y1="0" y2="0"><stop offset="0.0000" stop-color="#cf3927"/><stop offset="0.1673" stop-color="#d3412b"/><stop offset="0.1689" stop-color="#d54c2d"/><stop offset="0.2851" stop-color="#e3723f"/><stop offset="0.2867" stop-color="#e57c41"/><stop offset="0.3525" stop-color="#ef965b"/><stop offset="0.3541" stop-color="#ed9c67"/><stop offset="0.4462" stop-color="#e1b594"/><stop offset="0.4478" stop-color="#dfbb9e"/><stop offset="0.5265" stop-color="#d0c7c3"/><stop offset="0.5281" stop-color="#ccc9cf"/><stop offset="0.6211" stop-color="#a2afdd"/><stop offset="0.6227" stop-color="#9aa8db"/><stop offset="0.7060" stop-color="#7585cb"/><stop offset="0.7076" stop-color="#6d7dc6"/><stop offset="1.0000" stop-color="#4b55a9"/></linearGradient>
<linearGradient id="h88" gradientUnits="userSpaceOnUse" x1="56.5" x2="390.5" y1="0" y2="0"><stop offset="0.0000" stop-color="#d03b28"/><stop offset="0.1639" stop-color="#d3412b"/><stop offset="0.1655" stop-color="#d54c2d"/><stop offset="0.2761" stop-color="#e3723f"/><stop offset="0.2777" stop-color="#e57c41"/><stop offset="0.3483" stop-color="#ef965b"/><stop offset="0.3499" stop-color="#ed9c67"/><stop offset="0.4446" stop-color="#e1b594"/><stop offset="0.4462" stop-color="#dfbb9e"/><stop offset="0.5243" stop-color="#d0c7c3"/><stop offset="0.5259" stop-color="#ccc9cf"/><stop offset="0.6197" stop-color="#a2afdd"/><stop offset="0.6213" stop-color="#9aa8db"/><stop offset="0.7052" stop-color="#7585cb"/><stop offset="0.7068" stop-color="#6d7dc6"/><stop offset="1.0000" stop-color="#4b54a9"/></linearGradient>
<linearGradient id="h89" gradientUnits="userSpaceOnUse" x1="56.5" x2="390.5" y1="0" y2="0"><stop offset="0.0000" stop-color="#d13d29"/><stop offset="0.1405" stop-color="#d3412b"/><stop offset="0.1421" stop-color="#d54c2d"/><stop offset="0.2672" stop-color="#e3723f"/><stop offset="0.2688" stop-color="#e57c41"/><stop offset="0.3441" stop-color="#ef965b"/><stop offset="0.3457" stop-color="#ed9c67"/><stop offset="0.4423" stop-color="#e1b594"/><stop offset="0.4439" stop-color="#dfbb9e"/><stop offset="0.5223" stop-color="#d0c7c3"/><stop offset="0.5239" stop-color="#ccc9cf"/><stop offset="0.6175" stop-color="#a2afdd"/><stop offset="0.6191" stop-color="#9aa8db"/><stop offset="0.7044" stop-color="#7585cb"/><stop offset="0.7060" stop-color="#6d7dc6"/><stop offset="1.0000" stop-color="#4a53a8"/></linearGradient>
<linearGradient id="h90" gradientUnits="userSpaceOnUse" x1="56.5" x2="390.5" y1="0" y2="0"><stop offset="0.0000" stop-color="#d23f2a"/><stop offset="0.1172" stop-color="#d3412b"/><stop offset="0.1188" stop-color="#d54c2d"/><stop offset="0.2582" stop-color="#e3723f"/><stop offset="0.2598" stop-color="#e57c41"/><stop offset="0.3413" stop-color="#ef965b"/><stop offset="0.3429" stop-color="#ed9c67"/><stop offset="0.4393" stop-color="#e1b594"/><stop offset="0.4409" stop-color="#dfbb9e"/><stop offset="0.5205" stop-color="#d0c7c3"/><stop offset="0.5221" stop-color="#ccc9cf"/><stop offset="0.6145" stop-color="#a2afdd"/><stop offset="0.6161" stop-color="#9aa8db"/><stop offset="0.7037" stop-color="#7585cb"/><stop offset="0.7053" stop-color="#6d7dc6"/><stop offset="1.0000" stop-color="#4952a7"/></linearGradient>
<linearGradient id="h91" gradientUnits="userSpaceOnUse" x1="56.5" x2="390.5" y1="0" y2="0"><stop offset="0.0000" stop-color="#d3412b"/><stop offset="0.2492" stop-color="#e3723f"/><stop offset="0.2508" stop-color="#e57c41"/><stop offset="0.3398" stop-color="#ef965b"/><stop offset="0.3414" stop-color="#ed9c67"/><stop offset="0.4363" stop-color="#e1b594"/><stop offset="0.4379" stop-color="#dfbb9e"/><stop offset="0.5187" stop-color="#d0c7c3"/><stop offset="0.5203" stop-color="#ccc9cf"/><stop offset="0.6115" stop-color="#a2afdd"/><stop offset="0.6131" stop-color="#9aa8db"/><stop offset="0.7029" stop-color="#7585cb"/><stop offset="0.7045" stop-color="#6d7dc6"/><stop offset="1.0000" stop-color="#4852a7"/></linearGradient>
<linearGradient id="h92" gradientUnits="userSpaceOnUse" x1="56.5" x2="390.5" y1="0" y2="0"><stop offset="0.0000" stop-color="#d85331"/><stop offset="0.2213" stop-color="#e3723f"/><stop offset="0.2229" stop-color="#e57c41"/><stop offset="0.3383" stop-color="#ef965b"/><stop offset="0.3399" stop-color="#ed9c67"/><stop offset="0.4333" stop-color="#e1b594"/><stop offset="0.4349" stop-color="#dfbb9e"/><stop offset="0.5169" stop-color="#d0c7c3"/><stop offset="0.5185" stop-color="#ccc9cf"/><stop offset="0.6085" stop-color="#a2afdd"/><stop offset="0.6101" stop-color="#9aa8db"/><stop offset="0.7021" stop-color="#7585cb"/><stop offset="0.7037" stop-color="#6d7dc6"/><stop offset="1.0000" stop-color="#4851a6"/></linearGradient>
<linearGradient id="h93" gradientUnits="userSpaceOnUse" x1="56.5" x2="390.5" y1="0" y2="0"><stop offset="0.0000" stop-color="#db5b34"/><stop offset="0.1933" stop-color="#e3723f"/><stop offset="0.1949" stop-color="#e57c41"/><stop offset="0.3368" stop-color="#ef965b"/><stop offset="0.3384" stop-color="#ed9c67"/><stop offset="0.4303" stop-color="#e1b594"/><stop offset="0.4319" stop-color="#dfbb9e"/><stop offset="0.5151" stop-color="#d0c7c3"/><stop offset="0.5167" stop-color="#ccc9cf"/><stop offset="0.6055" stop-color="#a2afdd"/><stop offset="0.6071" stop-color="#9aa8db"/><stop offset="0.7013" stop-color="#7585cb"/><stop offset="0.7029" stop-color="#6d7dc6"/><stop offset="1.0000" stop-color="#4750a5"/></linearGradient>
<linearGradient id="h94" gradientUnits="userSpaceOnUse" x1="56.5" x2="390.5" y1="0" y2="0"><stop offset="0.0000" stop-color="#dd6338"/><stop offset="0.1654" stop-color="#e3723f"/><stop offset="0.1670" stop-color="#e57c41"/><stop offset="0.3353" stop-color="#ef965b"/><stop offset="0.3369" stop-color="#ed9c67"/><stop offset="0.4278" stop-color="#e1b594"/><stop offset="0.4294" stop-color="#dfbb9e"/><stop offset="0.5133" stop-color="#d0c7c3"/><stop offset="0.5149" stop-color="#ccc9cf"/><stop offset="0.6037" stop-color="#a2afdd"/><stop offset="0.6053" stop-color="#9aa8db"/><stop offset="0.6987" stop-color="#7585cb"/><stop offset="0.7003" stop-color="#6d7dc6"/><stop offset="1.0000" stop-color="#464fa5"/></linearGradient>
<linearGradient id="h95" gradientUnits="userSpaceOnUse" x1="56.5" x2="390.5" y1="0" y2="0"><stop offset="0.0000" stop-color="#e06a3b"/><stop offset="0.0935" stop-color="#e3723f"/><stop offset="0.0951" stop-color="#e57c41"/><stop offset="0.3338" stop-color="#ef965b"/><stop offset="0.3354" stop-color="#ed9c67"/><stop offset="0.4257" stop-color="#e1b594"/><stop offset="0.4273" stop-color="#dfbb9e"/><stop offset="0.5115" stop-color="#d0c7c3"/><stop offset="0.5131" stop-color="#ccc9cf"/><stop offset="0.6020" stop-color="#a2afdd"/><stop offset="0.6036" stop-color="#9aa8db"/><stop offset="0.6961" stop-color="#7585cb"/><stop offset="0.6977" stop-color="#6d7dc6"/><stop offset="1.0000" stop-color="#464ea4"/></linearGradient>
<linearGradient id="h96" gradientUnits="userSpaceOnUse" x1="56.5" x2="390.5" y1="0" y2="0"><stop offset="0.0000" stop-color="#e2713e"/><stop offset="0.0217" stop-color="#e3723f"/><stop offset="0.0233" stop-color="#e57c41"/><stop offset="0.3323" stop-color="#ef965b"/><stop offset="0.3339" stop-color="#ed9c67"/><stop offset="0.4236" stop-color="#e1b594"/><stop offset="0.4252" stop-color="#dfbb9e"/><stop offset="0.5097" stop-color="#d0c7c3"/><stop offset="0.5113" stop-color="#ccc9cf"/><stop offset="0.6002" stop-color="#a2afdd"/><stop offset="0.6018" stop-color="#9aa8db"/><stop offset="0.6934" stop-color="#7585cb"/><stop offset="0.6950" stop-color="#6d7dc6"/><stop offset="1.0000" stop-color="#454da4"/></linearGradient>
<linearGradient id="h97" gradientUnits="userSpaceOnUse" x1="56.5" x2="390.5" y1="0" y2="0"><stop offset="0.0000" stop-color="#e67c42"/><stop offset="0.3308" stop-color="#ef965b"/><stop offset="0.3324" stop-color="#ed9c67"/><stop offset="0.4214" stop-color="#e1b594"/><stop offset="0.4230" stop-color="#dfbb9e"/><stop offset="0.5079" stop-color="#d0c7c3"/><stop offset="0.5095" stop-color="#ccc9cf"/><stop offset="0.5984" stop-color="#a2afdd"/><stop offset="0.6000" stop-color="#9aa8db"/><stop offset="0.6908" stop-color="#7585cb"/><stop offset="0.6924" stop-color="#6d7dc6"/><stop offset="1.0000" stop-color="#444da3"/></linearGradient>
<linearGradient id="h98" gradientUnits="userSpaceOnUse" x1="56.5" x2="390.5" y1="0" y2="0"><stop offset="0.0000" stop-color="#e67d43"/><stop offset="0.3291" stop-color="#ef965b"/><stop offset="0.3307" stop-color="#ed9c67"/><stop offset="0.4193" stop-color="#e1b594"/><stop offset="0.4209" stop-color="#dfbb9e"/><stop offset="0.5061" stop-color="#d0c7c3"/><stop offset="0.5077" stop-color="#ccc9cf"/><stop offset="0.5967" stop-color="#a2afdd"/><stop offset="0.5983" stop-color="#9aa8db"/><stop offset="0.6882" stop-color="#7585cb"/><stop offset="0.6898" stop-color="#6d7dc6"/><stop offset="1.0000" stop-color="#444ca3"/></linearGradient>
<linearGradient id="h99" gradientUnits="userSpaceOnUse" x1="56.5" x2="390.5" y1="0" y2="0"><stop offset="0.0000" stop-color="#e67e43"/><stop offset="0.3273" stop-color="#ef965b"/><stop offset="0.3289" stop-color="#ed9c67"/><stop offset="0.4172" stop-color="#e1b594"/><stop offset="0.4188" stop-color="#dfbb9e"/><stop offset="0.5043" stop-color="#d0c7c3"/><stop offset="0.5059" stop-color="#ccc9cf"/><stop offset="0.5949" stop-color="#a2afdd"/><stop offset="0.5965" stop-color="#9aa8db"/><stop offset="0.6856" stop-color="#7585cb"/><stop offset="0.6872" stop-color="#6d7dc6"/><stop offset="1.0000" stop-color="#444ca2"/></linearGradient>
<linearGradient id="h100" gradientUnits="userSpaceOnUse" x1="56.5" x2="390.5" y1="0" y2="0"><stop offset="0.0000" stop-color="#e67e44"/><stop offset="0.3255" stop-color="#ef965b"/><stop offset="0.3271" stop-color="#ed9c67"/><stop offset="0.4151" stop-color="#e1b594"/><stop offset="0.4167" stop-color="#dfbb9e"/><stop offset="0.5025" stop-color="#d0c7c3"/><stop offset="0.5041" stop-color="#ccc9cf"/><stop offset="0.5931" stop-color="#a2afdd"/><stop offset="0.5947" stop-color="#9aa8db"/><stop offset="0.6830" stop-color="#7585cb"/><stop offset="0.6846" stop-color="#6d7dc6"/><stop offset="1.0000" stop-color="#434ba2"/></linearGradient>
<linearGradient id="h101" gradientUnits="userSpaceOnUse" x1="56.5" x2="390.5" y1="0" y2="0"><stop offset="0.0000" stop-color="#e77f45"/><stop offset="0.3238" stop-color="#ef965b"/><stop offset="0.3254" stop-color="#ed9c67"/><stop offset="0.4130" stop-color="#e1b594"/><stop offset="0.4146" stop-color="#dfbb9e"/><stop offset="0.5000" stop-color="#d0c7c3"/><stop offset="0.5016" stop-color="#ccc9cf"/><stop offset="0.5912" stop-color="#a2afdd"/><stop offset="0.5928" stop-color="#9aa8db"/><stop offset="0.6803" stop-color="#7585cb"/><stop offset="0.6819" stop-color="#6d7dc6"/><stop offset="1.0000" stop-color="#434ba2"/></linearGradient>
<linearGradient id="h102" gradientUnits="userSpaceOnUse" x1="56.5" x2="390.5" y1="0" y2="0"><stop offset="0.0000" stop-color="#e78045"/><stop offset="0.3220" stop-color="#ef965b"/><stop offset="0.3236" stop-color="#ed9c67"/><stop offset="0.4109" stop-color="#e1b594"/><stop offset="0.4125" stop-color="#dfbb9e"/><stop offset="0.4975" stop-color="#d0c7c3"/><stop offset="0.4991" stop-color="#ccc9cf"/><stop offset="0.5887" stop-color="#a2afdd"/><stop offset="0.5903" stop-color="#9aa8db"/><stop offset="0.6776" stop-color="#7585cb"/><stop offset="0.6792" stop-color="#6d7dc6"/><stop offset="0.9942" stop-color="#434ba2"/><stop offset="0.9958" stop-color="#434ba2"/><stop offset="1.0000" stop-color="#434ba2"/></linearGradient>
<linearGradient id="h103" gradientUnits="userSpaceOnUse" x1="56.5" x2="390.5" y1="0" y2="0"><stop offset="0.0000" stop-color="#e78046"/><stop offset="0.3202" stop-color="#ef965b"/><stop offset="0.3218" stop-color="#ed9c67"/><stop offset="0.4084" stop-color="#e1b594"/><stop offset="0.4100" stop-color="#dfbb9e"/><stop offset="0.4950" stop-color="#d0c7c3"/><stop offset="0.4966" stop-color="#ccc9cf"/><stop offset="0.5862" stop-color="#a2afdd"/><stop offset="0.5878" stop-color="#9aa8db"/><stop offset="0.6749" stop-color="#7585cb"/><stop offset="0.6765" stop-color="#6d7dc6"/><stop offset="0.9892" stop-color="#434ba2"/><stop offset="0.9908" stop-color="#434ba2"/><stop offset="1.0000" stop-color="#424aa2"/></linearGradient>
<linearGradient id="h104" gradientUnits="userSpaceOnUse" x1="56.5" x2="390.5" y1="0" y2="0"><stop offset="0.0000" stop-color="#e78146"/><stop offset="0.3184" stop-color="#ef965b"/><stop offset="0.3200" stop-color="#ed9c67"/><stop offset="0.4058" stop-color="#e1b594"/><stop offset="0.4074" stop-color="#dfbb9e"/><stop offset="0.4925" stop-color="#d0c7c3"/><stop offset="0.4941" stop-color="#ccc9cf"/><stop offset="0.5836" stop-color="#a2afdd"/><stop offset="0.5852" stop-color="#9aa8db"/><stop offset="0.6722" stop-color="#7585cb"/><stop offset="0.6738" stop-color="#6d7dc6"/><stop offset="0.9842" stop-color="#434ba2"/><stop offset="0.9858" stop-color="#434ba2"/><stop offset="1.0000" stop-color="#424aa2"/></linearGradient>
<linearGradient id="h105" gradientUnits="userSpaceOnUse" x1="56.5" x2="390.5" y1="0" y2="0"><stop offset="0.0000" stop-color="#e78046"/><stop offset="0.3166" stop-color="#ef965b"/><stop offset="0.3182" stop-color="#ed9c67"/><stop offset="0.4033" stop-color="#e1b594"/><stop offset="0.4049" stop-color="#dfbb9e"/><stop offset="0.4900" stop-color="#d0c7c3"/><stop offset="0.4916" stop-color="#ccc9cf"/><stop offset="0.5811" stop-color="#a2afdd"/><stop offset="0.5827" stop-color="#9aa8db"/><stop offset="0.6695" stop-color="#7585cb"/><stop offset="0.6711" stop-color="#6d7dc6"/><stop offset="0.9792" stop-color="#434ba2"/><stop offset="0.9808" stop-color="#434ba2"/><stop offset="1.0000" stop-color="#4249a1"/></linearGradient>
<linearGradient id="h106" gradientUnits="userSpaceOnUse" x1="56.5" x2="390.5" y1="0" y2="0"><stop offset="0.0000" stop-color="#e78046"/><stop offset="0.3148" stop-color="#ef965b"/><stop offset="0.3164" stop-color="#ed9c67"/><stop offset="0.4008" stop-color="#e1b594"/><stop offset="0.4024" stop-color="#dfbb9e"/><stop offset="0.4875" stop-color="#d0c7c3"/><stop offset="0.4891" stop-color="#ccc9cf"/><stop offset="0.5786" stop-color="#a2afdd"/><stop offset="0.5802" stop-color="#9aa8db"/><stop offset="0.6667" stop-color="#7585cb"/><stop offset="0.6683" stop-color="#6d7dc6"/><stop offset="0.9742" stop-color="#434ba2"/><stop offset="0.9758" stop-color="#434ba2"/><stop offset="1.0000" stop-color="#4149a1"/></linearGradient>
<linearGradient id="h107" gradientUnits="userSpaceOnUse" x1="56.5" x2="390.5" y1="0" y2="0"><stop offset="0.0000" stop-color="#e77f45"/><stop offset="0.3130" stop-color="#ef965b"/><stop offset="0.3146" stop-color="#ed9c67"/><stop offset="0.3983" stop-color="#e1b594"/><stop offset="0.3999" stop-color="#dfbb9e"/><stop offset="0.4850" stop-color="#d0c7c3"/><stop offset="0.4866" stop-color="#ccc9cf"/><stop offset="0.5759" stop-color="#a2afdd"/><stop offset="0.5775" stop-color="#9aa8db"/><stop offset="0.6639" stop-color="#7585cb"/><stop offset="0.6655" stop-color="#6d7dc6"/><stop offset="0.9693" stop-color="#434ba2"/><stop offset="0.9709" stop-color="#434ba2"/><stop offset="1.0000" stop-color="#4149a1"/></linearGradient>
<linearGradient id="h108" gradientUnits="userSpaceOnUse" x1="56.5" x2="390.5" y1="0" y2="0"><stop offset="0.0000" stop-color="#e77f45"/><stop offset="0.3088" stop-color="#ef965b"/><stop offset="0.3104" stop-color="#ed9c67"/><stop offset="0.3957" stop-color="#e1b594"/><stop offset="0.3973" stop-color="#dfbb9e"/><stop offset="0.4825" stop-color="#d0c7c3"/><stop offset="0.4841" stop-color="#ccc9cf"/><stop offset="0.5731" stop-color="#a2afdd"/><stop offset="0.5747" stop-color="#9aa8db"/><stop offset="0.6609" stop-color="#7585cb"/><stop offset="0.6625" stop-color="#6d7dc6"/><stop offset="0.9643" stop-color="#434ba2"/><stop offset="0.9659" stop-color="#434ba2"/><stop offset="1.0000" stop-color="#4148a1"/></linearGradient>
<linearGradient id="h109" gradientUnits="userSpaceOnUse" x1="56.5" x2="390.5" y1="0" y2="0"><stop offset="0.0000" stop-color="#e77f45"/><stop offset="0.3022" stop-color="#ef965b"/><stop offset="0.3038" stop-color="#ed9c67"/><stop offset="0.3932" stop-color="#e1b594"/><stop offset="0.3948" stop-color="#dfbb9e"/><stop offset="0.4800" stop-color="#d0c7c3"/><stop offset="0.4816" stop-color="#ccc9cf"/><stop offset="0.5703" stop-color="#a2afdd"/><stop offset="0.5719" stop-color="#9aa8db"/><stop offset="0.6579" stop-color="#7585cb"/><stop offset="0.6595" stop-color="#6d7dc6"/><stop offset="0.9594" stop-color="#434ba2"/><stop offset="0.9610" stop-color="#434ba2"/><stop offset="1.0000" stop-color="#4048a1"/></linearGradient>
<linearGradient id="h110" gradientUnits="userSpaceOnUse" x1="56.5" x2="390.5" y1="0" y2="0"><stop offset="0.0000" stop-color="#e67e44"/><stop offset="0.2956" stop-color="#ef965b"/><stop offset="0.2972" stop-color="#ed9c67"/><stop offset="0.3907" stop-color="#e1b594"/><stop offset="0.3923" stop-color="#dfbb9e"/><stop offset="0.4775" stop-color="#d0c7c3"/><stop offset="0.4791" stop-color="#ccc9cf"/><stop offset="0.5675" stop-color="#a2afdd"/><stop offset="0.5691" stop-color="#9aa8db"/><stop offset="0.6549" stop-color="#7585cb"/><stop offset="0.6565" stop-color="#6d7dc6"/><stop offset="0.9546" stop-color="#434ba2"/><stop offset="0.9562" stop-color="#434ba2"/><stop offset="1.0000" stop-color="#4048a1"/></linearGradient>
<linearGradient id="h111" gradientUnits="userSpaceOnUse" x1="56.5" x2="390.5" y1="0" y2="0"><stop offset="0.0000" stop-color="#e67e44"/><stop offset="0.2890" stop-color="#ef965b"/><stop offset="0.2906" stop-color="#ed9c67"/><stop offset="0.3882" stop-color="#e1b594"/><stop offset="0.3898" stop-color="#dfbb9e"/><stop offset="0.4750" stop-color="#d0c7c3"/><stop offset="0.4766" stop-color="#ccc9cf"/><stop offset="0.5646" stop-color="#a2afdd"/><stop offset="0.5662" stop-color="#9aa8db"/><stop offset="0.6519" stop-color="#7585cb"/><stop offset="0.6535" stop-color="#6d7dc6"/><stop offset="0.9498" stop-color="#434ba2"/><stop offset="0.9514" stop-color="#434ba2"/><stop offset="1.0000" stop-color="#3f47a0"/></linearGradient>
<linearGradient id="h112" gradientUnits="userSpaceOnUse" x1="56.5" x2="390.5" y1="0" y2="0"><stop offset="0.0000" stop-color="#e67e43"/><stop offset="0.2824" stop-color="#ef965b"/><stop offset="0.2840" stop-color="#ed9c67"/><stop offset="0.3861" stop-color="#e1b594"/><stop offset="0.3877" stop-color="#dfbb9e"/><stop offset="0.4727" stop-color="#d0c7c3"/><stop offset="0.4743" stop-color="#ccc9cf"/><stop offset="0.5618" stop-color="#a2afdd"/><stop offset="0.5634" stop-color="#9aa8db"/><stop offset="0.6489" stop-color="#7585cb"/><stop offset="0.6505" stop-color="#6d7dc6"/><stop offset="0.9450" stop-color="#434ba2"/><stop offset="0.9466" stop-color="#434ba2"/><stop offset="1.0000" stop-color="#3f47a0"/></linearGradient>
<linearGradient id="h113" gradientUnits="userSpaceOnUse" x1="56.5" x2="390.5" y1="0" y2="0"><stop offset="0.0000" stop-color="#e67d43"/><stop offset="0.2773" stop-color="#ef965b"/><stop offset="0.2789" stop-color="#ed9c67"/><stop offset="0.3844" stop-color="#e1b594"/><stop offset="0.3860" stop-color="#dfbb9e"/><stop offset="0.4705" stop-color="#d0c7c3"/><stop offset="0.4721" stop-color="#ccc9cf"/><stop offset="0.5590" stop-color="#a2afdd"/><stop offset="0.5606" stop-color="#9aa8db"/><stop offset="0.6462" stop-color="#7585cb"/><stop offset="0.6478" stop-color="#6d7dc6"/><stop offset="0.9402" stop-color="#434ba2"/><stop offset="0.9418" stop-color="#434ba2"/><stop offset="1.0000" stop-color="#3f46a0"/></linearGradient>
<linearGradient id="h114" gradientUnits="userSpaceOnUse" x1="56.5" x2="390.5" y1="0" y2="0"><stop offset="0.0000" stop-color="#e67d43"/><stop offset="0.2738" stop-color="#ef965b"/><stop offset="0.2754" stop-color="#ed9c67"/><stop offset="0.3826" stop-color="#e1b594"/><stop offset="0.3842" stop-color="#dfbb9e"/><stop offset="0.4684" stop-color="#d0c7c3"/><stop offset="0.4700" stop-color="#ccc9cf"/><stop offset="0.5564" stop-color="#a2afdd"/><stop offset="0.5580" stop-color="#9aa8db"/><stop offset="0.6438" stop-color="#7585cb"/><stop offset="0.6454" stop-color="#6d7dc6"/><stop offset="0.9354" stop-color="#434ba2"/><stop offset="0.9370" stop-color="#434ba2"/><stop offset="1.0000" stop-color="#3e46a0"/></linearGradient>
<linearGradient id="h115" gradientUnits="userSpaceOnUse" x1="56.5" x2="390.5" y1="0" y2="0"><stop offset="0.0000" stop-color="#e67c42"/><stop offset="0.2702" stop-color="#ef965b"/><stop offset="0.2718" stop-color="#ed9c67"/><stop offset="0.3809" stop-color="#e1b594"/><stop offset="0.3825" stop-color="#dfbb9e"/><stop offset="0.4663" stop-color="#d0c7c3"/><stop offset="0.4679" stop-color="#ccc9cf"/><stop offset="0.5540" stop-color="#a2afdd"/><stop offset="0.5556" stop-color="#9aa8db"/><stop offset="0.6414" stop-color="#7585cb"/><stop offset="0.6430" stop-color="#6d7dc6"/><stop offset="0.9306" stop-color="#434ba2"/><stop offset="0.9322" stop-color="#434ba2"/><stop offset="1.0000" stop-color="#3e45a0"/></linearGradient>
<linearGradient id="h116" gradientUnits="userSpaceOnUse" x1="56.5" x2="390.5" y1="0" y2="0"><stop offset="0.0000" stop-color="#e67c42"/><stop offset="0.2666" stop-color="#ef965b"/><stop offset="0.2682" stop-color="#ed9c67"/><stop offset="0.3792" stop-color="#e1b594"/><stop offset="0.3808" stop-color="#dfbb9e"/><stop offset="0.4641" stop-color="#d0c7c3"/><stop offset="0.4657" stop-color="#ccc9cf"/><stop offset="0.5516" stop-color="#a2afdd"/><stop offset="0.5532" stop-color="#9aa8db"/><stop offset="0.6390" stop-color="#7585cb"/><stop offset="0.6406" stop-color="#6d7dc6"/><stop offset="0.9258" stop-color="#434ba2"/><stop offset="0.9274" stop-color="#434ba2"/><stop offset="1.0000" stop-color="#3e459f"/></linearGradient>
<linearGradient id="h117" gradientUnits="userSpaceOnUse" x1="56.5" x2="390.5" y1="0" y2="0"><stop offset="0.0000" stop-color="#e57c42"/><stop offset="0.2630" stop-color="#ef965b"/><stop offset="0.2646" stop-color="#ed9c67"/><stop offset="0.3775" stop-color="#e1b594"/><stop offset="0.3791" stop-color="#dfbb9e"/><stop offset="0.4620" stop-color="#d0c7c3"/><stop offset="0.4636" stop-color="#ccc9cf"/><stop offset="0.5492" stop-color="#a2afdd"/><stop offset="0.5508" stop-color="#9aa8db"/><stop offset="0.6366" stop-color="#7585cb"/><stop offset="0.6382" stop-color="#6d7dc6"/><stop offset="0.9211" stop-color="#434ba2"/><stop offset="0.9227" stop-color="#434ba2"/><stop offset="1.0000" stop-color="#3d459f"/></linearGradient>
<linearGradient id="h118" gradientUnits="userSpaceOnUse" x1="56.5" x2="390.5" y1="0" y2="0"><stop offset="0.0000" stop-color="#e2713e"/><stop offset="0.1103" stop-color="#e3723f"/><stop offset="0.1119" stop-color="#e57c41"/><stop offset="0.2601" stop-color="#ef965b"/><stop offset="0.2617" stop-color="#ed9c67"/><stop offset="0.3758" stop-color="#e1b594"/><stop offset="0.3774" stop-color="#dfbb9e"/><stop offset="0.4599" stop-color="#d0c7c3"/><stop offset="0.4615" stop-color="#ccc9cf"/><stop offset="0.5468" stop-color="#a2afdd"/><stop offset="0.5484" stop-color="#9aa8db"/><stop offset="0.6342" stop-color="#7585cb"/><stop offset="0.6358" stop-color="#6d7dc6"/><stop offset="0.9163" stop-color="#434ba2"/><stop offset="0.9179" stop-color="#434ba2"/><stop offset="1.0000" stop-color="#3d449f"/></linearGradient>
<linearGradient id="h119" gradientUnits="userSpaceOnUse" x1="56.5" x2="390.5" y1="0" y2="0"><stop offset="0.0000" stop-color="#e16f3d"/><stop offset="0.1534" stop-color="#e3723f"/><stop offset="0.1550" stop-color="#e57c41"/><stop offset="0.2580" stop-color="#ef965b"/><stop offset="0.2596" stop-color="#ed9c67"/><stop offset="0.3732" stop-color="#e1b594"/><stop offset="0.3748" stop-color="#dfbb9e"/><stop offset="0.4577" stop-color="#d0c7c3"/><stop offset="0.4593" stop-color="#ccc9cf"/><stop offset="0.5444" stop-color="#a2afdd"/><stop offset="0.5460" stop-color="#9aa8db"/><stop offset="0.6318" stop-color="#7585cb"/><stop offset="0.6334" stop-color="#6d7dc6"/><stop offset="0.9130" stop-color="#434ba2"/><stop offset="0.9146" stop-color="#434ba2"/><stop offset="1.0000" stop-color="#3c449f"/></linearGradient>
<linearGradient id="h120" gradientUnits="userSpaceOnUse" x1="56.5" x2="390.5" y1="0" y2="0"><stop offset="0.0000" stop-color="#e06c3c"/><stop offset="0.1584" stop-color="#e3723f"/><stop offset="0.1600" stop-color="#e57c41"/><stop offset="0.2559" stop-color="#ef965b"/><stop offset="0.2575" stop-color="#ed9c67"/><stop offset="0.3697" stop-color="#e1b594"/><stop offset="0.3713" stop-color="#dfbb9e"/><stop offset="0.4556" stop-color="#d0c7c3"/><stop offset="0.4572" stop-color="#ccc9cf"/><stop offset="0.5420" stop-color="#a2afdd"/><stop offset="0.5436" stop-color="#9aa8db"/><stop offset="0.6294" stop-color="#7585cb"/><stop offset="0.6310" stop-color="#6d7dc6"/><stop offset="0.9113" stop-color="#434ba2"/><stop offset="0.9129" stop-color="#434ba2"/><stop offset="1.0000" stop-color="#3c439f"/></linearGradient>
<linearGradient id="h121" gradientUnits="userSpaceOnUse" x1="56.5" x2="390.5" y1="0" y2="0"><stop offset="0.0000" stop-color="#e0693b"/><stop offset="0.1634" stop-color="#e3723f"/><stop offset="0.1650" stop-color="#e57c41"/><stop offset="0.2538" stop-color="#ef965b"/><stop offset="0.2554" stop-color="#ed9c67"/><stop offset="0.3662" stop-color="#e1b594"/><stop offset="0.3678" stop-color="#dfbb9e"/><stop offset="0.4535" stop-color="#d0c7c3"/><stop offset="0.4551" stop-color="#ccc9cf"/><stop offset="0.5396" stop-color="#a2afdd"/><stop offset="0.5412" stop-color="#9aa8db"/><stop offset="0.6285" stop-color="#7585cb"/><stop offset="0.6301" stop-color="#6d7dc6"/><stop offset="0.9096" stop-color="#434ba2"/><stop offset="0.9112" stop-color="#434ba2"/><stop offset="1.0000" stop-color="#3c439f"/></linearGradient>
<linearGradient id="h122" gradientUnits="userSpaceOnUse" x1="56.5" x2="390.5" y1="0" y2="0"><stop offset="0.0000" stop-color="#df6739"/><stop offset="0.1684" stop-color="#e3723f"/><stop offset="0.1700" stop-color="#e57c41"/><stop offset="0.2517" stop-color="#ef965b"/><stop offset="0.2533" stop-color="#ed9c67"/><stop offset="0.3627" stop-color="#e1b594"/><stop offset="0.3643" stop-color="#dfbb9e"/><stop offset="0.4514" stop-color="#d0c7c3"/><stop offset="0.4530" stop-color="#ccc9cf"/><stop offset="0.5372" stop-color="#a2afdd"/><stop offset="0.5388" stop-color="#9aa8db"/><stop offset="0.6275" stop-color="#7585cb"/><stop offset="0.6291" stop-color="#6d7dc6"/><stop offset="0.9079" stop-color="#434ba2"/><stop offset="0.9095" stop-color="#434ba2"/><stop offset="1.0000" stop-color="#3b429e"/></linearGradient>
<linearGradient id="h123" gradientUnits="userSpaceOnUse" x1="56.5" x2="390.5" y1="0" y2="0"><stop offset="0.0000" stop-color="#e0693b"/><stop offset="0.1634" stop-color="#e3723f"/><stop offset="0.1650" stop-color="#e57c41"/><stop offset="0.2496" stop-color="#ef965b"/><stop offset="0.2512" stop-color="#ed9c67"/><stop offset="0.3592" stop-color="#e1b594"/><stop offset="0.3608" stop-color="#dfbb9e"/><stop offset="0.4493" stop-color="#d0c7c3"/><stop offset="0.4509" stop-color="#ccc9cf"/><stop offset="0.5348" stop-color="#a2afdd"/><stop offset="0.5364" stop-color="#9aa8db"/><stop offset="0.6266" stop-color="#7585cb"/><stop offset="0.6282" stop-color="#6d7dc6"/><stop offset="0.9062" stop-color="#434ba2"/><stop offset="0.9078" stop-color="#434ba2"/><stop offset="1.0000" stop-color="#3b429e"/></linearGradient>
<linearGradient id="h124" gradientUnits="userSpaceOnUse" x1="56.5" x2="390.5" y1="0" y2="0"><stop offset="0.0000" stop-color="#e06c3c"/><stop offset="0.1584" stop-color="#e3723f"/><stop offset="0.1600" stop-color="#e57c41"/><stop offset="0.2474" stop-color="#ef965b"/><stop offset="0.2490" stop-color="#ed9c67"/><stop offset="0.3557" stop-color="#e1b594"/><stop offset="0.3573" stop-color="#dfbb9e"/><stop offset="0.4473" stop-color="#d0c7c3"/><stop offset="0.4489" stop-color="#ccc9cf"/><stop offset="0.5324" stop-color="#a2afdd"/><stop offset="0.5340" stop-color="#9aa8db"/><stop offset="0.6256" stop-color="#7585cb"/><stop offset="0.6272" stop-color="#6d7dc6"/><stop offset="0.9045" stop-color="#434ba2"/><stop offset="0.9061" stop-color="#434ba2"/><stop offset="1.0000" stop-color="#3b429e"/></linearGradient>
<linearGradient id="h125" gradientUnits="userSpaceOnUse" x1="56.5" x2="390.5" y1="0" y2="0"><stop offset="0.0000" stop-color="#e16f3d"/><stop offset="0.1534" stop-color="#e3723f"/><stop offset="0.1550" stop-color="#e57c41"/><stop offset="0.2453" stop-color="#ef965b"/><stop offset="0.2469" stop-color="#ed9c67"/><stop offset="0.3519" stop-color="#e1b594"/><stop offset="0.3535" stop-color="#dfbb9e"/><stop offset="0.4452" stop-color="#d0c7c3"/><stop offset="0.4468" stop-color="#ccc9cf"/><stop offset="0.5300" stop-color="#a2afdd"/><stop offset="0.5316" stop-color="#9aa8db"/><stop offset="0.6246" stop-color="#7585cb"/><stop offset="0.6262" stop-color="#6d7dc6"/><stop offset="0.9028" stop-color="#434ba2"/><stop offset="0.9044" stop-color="#434ba2"/><stop offset="1.0000" stop-color="#3a419e"/></linearGradient>
<linearGradient id="h126" gradientUnits="userSpaceOnUse" x1="56.5" x2="390.5" y1="0" y2="0"><stop offset="0.0000" stop-color="#e2713e"/><stop offset="0.0995" stop-color="#e3723f"/><stop offset="0.1011" stop-color="#e57c41"/><stop offset="0.2432" stop-color="#ef965b"/><stop offset="0.2448" stop-color="#ed9c67"/><stop offset="0.3477" stop-color="#e1b594"/><stop offset="0.3493" stop-color="#dfbb9e"/><stop offset="0.4431" stop-color="#d0c7c3"/><stop offset="0.4447" stop-color="#ccc9cf"/><stop offset="0.5276" stop-color="#a2afdd"/><stop offset="0.5292" stop-color="#9aa8db"/><stop offset="0.6237" stop-color="#7585cb"/><stop offset="0.6253" stop-color="#6d7dc6"/><stop offset="0.9013" stop-color="#434ba2"/><stop offset="0.9029" stop-color="#434ba2"/><stop offset="1.0000" stop-color="#3a419e"/></linearGradient>
<linearGradient id="h127" gradientUnits="userSpaceOnUse" x1="56.5" x2="390.5" y1="0" y2="0"><stop offset="0.0000" stop-color="#e67c42"/><stop offset="0.2420" stop-color="#ef965b"/><stop offset="0.2436" stop-color="#ed9c67"/><stop offset="0.3435" stop-color="#e1b594"/><stop offset="0.3451" stop-color="#dfbb9e"/><stop offset="0.4410" stop-color="#d0c7c3"/><stop offset="0.4426" stop-color="#ccc9cf"/><stop offset="0.5252" stop-color="#a2afdd"/><stop offset="0.5268" stop-color="#9aa8db"/><stop offset="0.6227" stop-color="#7585cb"/><stop offset="0.6243" stop-color="#6d7dc6"/><stop offset="0.9000" stop-color="#434ba2"/><stop offset="0.9016" stop-color="#434ba2"/><stop offset="1.0000" stop-color="#39409d"/></linearGradient>
<linearGradient id="h128" gradientUnits="userSpaceOnUse" x1="56.5" x2="390.5" y1="0" y2="0"><stop offset="0.0000" stop-color="#e67d43"/><stop offset="0.2408" stop-color="#ef965b"/><stop offset="0.2424" stop-color="#ed9c67"/><stop offset="0.3393" stop-color="#e1b594"/><stop offset="0.3409" stop-color="#dfbb9e"/><stop offset="0.4389" stop-color="#d0c7c3"/><stop offset="0.4405" stop-color="#ccc9cf"/><stop offset="0.5229" stop-color="#a2afdd"/><stop offset="0.5245" stop-color="#9aa8db"/><stop offset="0.6218" stop-color="#7585cb"/><stop offset="0.6234" stop-color="#6d7dc6"/><stop offset="0.8987" stop-color="#434ba2"/><stop offset="0.9003" stop-color="#434ba2"/><stop offset="1.0000" stop-color="#39409d"/></linearGradient>
<linearGradient id="h129" gradientUnits="userSpaceOnUse" x1="56.5" x2="390.5" y1="0" y2="0"><stop offset="0.0000" stop-color="#e67e44"/><stop offset="0.2396" stop-color="#ef965b"/><stop offset="0.2412" stop-color="#ed9c67"/><stop offset="0.3351" stop-color="#e1b594"/><stop offset="0.3367" stop-color="#dfbb9e"/><stop offset="0.4370" stop-color="#d0c7c3"/><stop offset="0.4386" stop-color="#ccc9cf"/><stop offset="0.5207" stop-color="#a2afdd"/><stop offset="0.5223" stop-color="#9aa8db"/><stop offset="0.6208" stop-color="#7585cb"/><stop offset="0.6224" stop-color="#6d7dc6"/><stop offset="0.8974" stop-color="#434ba2"/><stop offset="0.8990" stop-color="#434ba2"/><stop offset="1.0000" stop-color="#393f9d"/></linearGradient>
<linearGradient id="h130" gradientUnits="userSpaceOnUse" x1="56.5" x2="390.5" y1="0" y2="0"><stop offset="0.0000" stop-color="#e77f45"/><stop offset="0.2384" stop-color="#ef965b"/><stop offset="0.2400" stop-color="#ed9c67"/><stop offset="0.3325" stop-color="#e1b594"/><stop offset="0.3341" stop-color="#dfbb9e"/><stop offset="0.4355" stop-color="#d0c7c3"/><stop offset="0.4371" stop-color="#ccc9cf"/><stop offset="0.5189" stop-color="#a2afdd"/><stop offset="0.5205" stop-color="#9aa8db"/><stop offset="0.6199" stop-color="#7585cb"/><stop offset="0.6215" stop-color="#6d7dc6"/><stop offset="0.8961" stop-color="#434ba2"/><stop offset="0.8977" stop-color="#434ba2"/><stop offset="1.0000" stop-color="#383f9d"/></linearGradient>
<linearGradient id="h131" gradientUnits="userSpaceOnUse" x1="56.5" x2="390.5" y1="0" y2="0"><stop offset="0.0000" stop-color="#e78146"/><stop offset="0.2372" stop-color="#ef965b"/><stop offset="0.2388" stop-color="#ed9c67"/><stop offset="0.3314" stop-color="#e1b594"/><stop offset="0.3330" stop-color="#dfbb9e"/><stop offset="0.4339" stop-color="#d0c7c3"/><stop offset="0.4355" stop-color="#ccc9cf"/><stop offset="0.5171" stop-color="#a2afdd"/><stop offset="0.5187" stop-color="#9aa8db"/><stop offset="0.6189" stop-color="#7585cb"/><stop offset="0.6205" stop-color="#6d7dc6"/><stop offset="0.8948" stop-color="#434ba2"/><stop offset="0.8964" stop-color="#434ba2"/><stop offset="1.0000" stop-color="#383e9d"/></linearGradient>
<linearGradient id="h132" gradientUnits="userSpaceOnUse" x1="56.5" x2="390.5" y1="0" y2="0"><stop offset="0.0000" stop-color="#e88247"/><stop offset="0.2360" stop-color="#ef965b"/><stop offset="0.2376" stop-color="#ed9c67"/><stop offset="0.3304" stop-color="#e1b594"/><stop offset="0.3320" stop-color="#dfbb9e"/><stop offset="0.4323" stop-color="#d0c7c3"/><stop offset="0.4339" stop-color="#ccc9cf"/><stop offset="0.5153" stop-color="#a2afdd"/><stop offset="0.5169" stop-color="#9aa8db"/><stop offset="0.6179" stop-color="#7585cb"/><stop offset="0.6195" stop-color="#6d7dc6"/><stop offset="0.8936" stop-color="#434ba2"/><stop offset="0.8952" stop-color="#434ba2"/><stop offset="1.0000" stop-color="#373e9c"/></linearGradient>
<linearGradient id="h133" gradientUnits="userSpaceOnUse" x1="56.5" x2="390.5" y1="0" y2="0"><stop offset="0.0000" stop-color="#e88349"/><stop offset="0.2348" stop-color="#ef965b"/><stop offset="0.2364" stop-color="#ed9c67"/><stop offset="0.3293" stop-color="#e1b594"/><stop offset="0.3309" stop-color="#dfbb9e"/><stop offset="0.4307" stop-color="#d0c7c3"/><stop offset="0.4323" stop-color="#ccc9cf"/><stop offset="0.5135" stop-color="#a2afdd"/><stop offset="0.5151" stop-color="#9aa8db"/><stop offset="0.6164" stop-color="#7585cb"/><stop offset="0.6180" stop-color="#6d7dc6"/><stop offset="0.8917" stop-color="#434ba2"/><stop offset="0.8933" stop-color="#434ba2"/><stop offset="1.0000" stop-color="#373d9c"/></linearGradient>
<linearGradient id="h134" gradientUnits="userSpaceOnUse" x1="56.5" x2="390.5" y1="0" y2="0"><stop offset="0.0000" stop-color="#e88449"/><stop offset="0.2327" stop-color="#ef965b"/><stop offset="0.2343" stop-color="#ed9c67"/><stop offset="0.3283" stop-color="#e1b594"/><stop offset="0.3299" stop-color="#dfbb9e"/><stop offset="0.4292" stop-color="#d0c7c3"/><stop offset="0.4308" stop-color="#ccc9cf"/><stop offset="0.5116" stop-color="#a2afdd"/><stop offset="0.5132" stop-color="#9aa8db"/><stop offset="0.6143" stop-color="#7585cb"/><stop offset="0.6159" stop-color="#6d7dc6"/><stop offset="0.8892" stop-color="#434ba2"/><stop offset="0.8908" stop-color="#434ba2"/><stop offset="1.0000" stop-color="#363d9c"/></linearGradient>
<linearGradient id="h135" gradientUnits="userSpaceOnUse" x1="56.5" x2="390.5" y1="0" y2="0"><stop offset="0.0000" stop-color="#e8844a"/><stop offset="0.2297" stop-color="#ef965b"/><stop offset="0.2313" stop-color="#ed9c67"/><stop offset="0.3272" stop-color="#e1b594"/><stop offset="0.3288" stop-color="#dfbb9e"/><stop offset="0.4276" stop-color="#d0c7c3"/><stop offset="0.4292" stop-color="#ccc9cf"/><stop offset="0.5098" stop-color="#a2afdd"/><stop offset="0.5114" stop-color="#9aa8db"/><stop offset="0.6122" stop-color="#7585cb"/><stop offset="0.6138" stop-color="#6d7dc6"/><stop offset="0.8867" stop-color="#434ba2"/><stop offset="0.8883" stop-color="#434ba2"/><stop offset="1.0000" stop-color="#363d9c"/></linearGradient>
<linearGradient id="h136" gradientUnits="userSpaceOnUse" x1="56.5" x2="390.5" y1="0" y2="0"><stop offset="0.0000" stop-color="#e9854a"/><stop offset="0.2267" stop-color="#ef965b"/><stop offset="0.2283" stop-color="#ed9c67"/><stop offset="0.3262" stop-color="#e1b594"/><stop offset="0.3278" stop-color="#dfbb9e"/><stop offset="0.4260" stop-color="#d0c7c3"/><stop offset="0.4276" stop-color="#ccc9cf"/><stop offset="0.5080" stop-color="#a2afdd"/><stop offset="0.5096" stop-color="#9aa8db"/><stop offset="0.6101" stop-color="#7585cb"/><stop offset="0.6117" stop-color="#6d7dc6"/><stop offset="0.8843" stop-color="#434ba2"/><stop offset="0.8859" stop-color="#434ba2"/><stop offset="1.0000" stop-color="#363c9c"/></linearGradient>
<linearGradient id="h137" gradientUnits="userSpaceOnUse" x1="56.5" x2="390.5" y1="0" y2="0"><stop offset="0.0000" stop-color="#e9854b"/><stop offset="0.2238" stop-color="#ef965b"/><stop offset="0.2254" stop-color="#ed9c67"/><stop offset="0.3251" stop-color="#e1b594"/><stop offset="0.3267" stop-color="#dfbb9e"/><stop offset="0.4244" stop-color="#d0c7c3"/><stop offset="0.4260" stop-color="#ccc9cf"/><stop offset="0.5062" stop-color="#a2afdd"/><stop offset="0.5078" stop-color="#9aa8db"/><stop offset="0.6080" stop-color="#7585cb"/><stop offset="0.6096" stop-color="#6d7dc6"/><stop offset="0.8818" stop-color="#434ba2"/><stop offset="0.8834" stop-color="#434ba2"/><stop offset="1.0000" stop-color="#353c9c"/></linearGradient>
<linearGradient id="h138" gradientUnits="userSpaceOnUse" x1="56.5" x2="390.5" y1="0" y2="0"><stop offset="0.0000" stop-color="#e9864b"/><stop offset="0.2208" stop-color="#ef965b"/><stop offset="0.2224" stop-color="#ed9c67"/><stop offset="0.3241" stop-color="#e1b594"/><stop offset="0.3257" stop-color="#dfbb9e"/><stop offset="0.4229" stop-color="#d0c7c3"/><stop offset="0.4245" stop-color="#ccc9cf"/><stop offset="0.5043" stop-color="#a2afdd"/><stop offset="0.5059" stop-color="#9aa8db"/><stop offset="0.6058" stop-color="#7585cb"/><stop offset="0.6074" stop-color="#6d7dc6"/><stop offset="0.8794" stop-color="#434ba2"/><stop offset="0.8810" stop-color="#434ba2"/><stop offset="1.0000" stop-color="#353b9b"/></linearGradient>
<linearGradient id="h139" gradientUnits="userSpaceOnUse" x1="56.5" x2="390.5" y1="0" y2="0"><stop offset="0.0000" stop-color="#e9864c"/><stop offset="0.2178" stop-color="#ef965b"/><stop offset="0.2194" stop-color="#ed9c67"/><stop offset="0.3225" stop-color="#e1b594"/><stop offset="0.3241" stop-color="#dfbb9e"/><stop offset="0.4208" stop-color="#d0c7c3"/><stop offset="0.4224" stop-color="#ccc9cf"/><stop offset="0.5025" stop-color="#a2afdd"/><stop offset="0.5041" stop-color="#9aa8db"/><stop offset="0.6037" stop-color="#7585cb"/><stop offset="0.6053" stop-color="#6d7dc6"/><stop offset="0.8769" stop-color="#434ba2"/><stop offset="0.8785" stop-color="#434ba2"/><stop offset="1.0000" stop-color="#343b9b"/></linearGradient>
<linearGradient id="h140" gradientUnits="userSpaceOnUse" x1="56.5" x2="390.5" y1="0" y2="0"><stop offset="0.0000" stop-color="#e9874c"/><stop offset="0.2141" stop-color="#ef965b"/><stop offset="0.2157" stop-color="#ed9c67"/><stop offset="0.3209" stop-color="#e1b594"/><stop offset="0.3225" stop-color="#dfbb9e"/><stop offset="0.4187" stop-color="#d0c7c3"/><stop offset="0.4203" stop-color="#ccc9cf"/><stop offset="0.5007" stop-color="#a2afdd"/><stop offset="0.5023" stop-color="#9aa8db"/><stop offset="0.6016" stop-color="#7585cb"/><stop offset="0.6032" stop-color="#6d7dc6"/><stop offset="0.8744" stop-color="#434ba2"/><stop offset="0.8760" stop-color="#434ba2"/><stop offset="1.0000" stop-color="#343a9b"/></linearGradient>
<linearGradient id="h141" gradientUnits="userSpaceOnUse" x1="56.5" x2="390.5" y1="0" y2="0"><stop offset="0.0000" stop-color="#ea874d"/><stop offset="0.2099" stop-color="#ef965b"/><stop offset="0.2115" stop-color="#ed9c67"/><stop offset="0.3193" stop-color="#e1b594"/><stop offset="0.3209" stop-color="#dfbb9e"/><stop offset="0.4166" stop-color="#d0c7c3"/><stop offset="0.4182" stop-color="#ccc9cf"/><stop offset="0.4989" stop-color="#a2afdd"/><stop offset="0.5005" stop-color="#9aa8db"/><stop offset="0.5995" stop-color="#7585cb"/><stop offset="0.6011" stop-color="#6d7dc6"/><stop offset="0.8720" stop-color="#434ba2"/><stop offset="0.8736" stop-color="#434ba2"/><stop offset="1.0000" stop-color="#333a9b"/></linearGradient>
<linearGradient id="h142" gradientUnits="userSpaceOnUse" x1="56.5" x2="390.5" y1="0" y2="0"><stop offset="0.0000" stop-color="#ea884d"/><stop offset="0.2056" stop-color="#ef965b"/><stop offset="0.2072" stop-color="#ed9c67"/><stop offset="0.3177" stop-color="#e1b594"/><stop offset="0.3193" stop-color="#dfbb9e"/><stop offset="0.4145" stop-color="#d0c7c3"/><stop offset="0.4161" stop-color="#ccc9cf"/><stop offset="0.4971" stop-color="#a2afdd"/><stop offset="0.4987" stop-color="#9aa8db"/><stop offset="0.5972" stop-color="#7585cb"/><stop offset="0.5988" stop-color="#6d7dc6"/><stop offset="0.8693" stop-color="#434ba2"/><stop offset="0.8709" stop-color="#434ba2"/><stop offset="1.0000" stop-color="#33399a"/></linearGradient>
<linearGradient id="h143" gradientUnits="userSpaceOnUse" x1="56.5" x2="390.5" y1="0" y2="0"><stop offset="0.0000" stop-color="#ea884e"/><stop offset="0.2013" stop-color="#ef965b"/><stop offset="0.2029" stop-color="#ed9c67"/><stop offset="0.3162" stop-color="#e1b594"/><stop offset="0.3178" stop-color="#dfbb9e"/><stop offset="0.4124" stop-color="#d0c7c3"/><stop offset="0.4140" stop-color="#ccc9cf"/><stop offset="0.4953" stop-color="#a2afdd"/><stop offset="0.4969" stop-color="#9aa8db"/><stop offset="0.5949" stop-color="#7585cb"/><stop offset="0.5965" stop-color="#6d7dc6"/><stop offset="0.8667" stop-color="#434ba2"/><stop offset="0.8683" stop-color="#434ba2"/><stop offset="1.0000" stop-color="#33399a"/></linearGradient>
<linearGradient id="h144" gradientUnits="userSpaceOnUse" x1="56.5" x2="390.5" y1="0" y2="0"><stop offset="0.0000" stop-color="#ea894e"/><stop offset="0.1970" stop-color="#ef965b"/><stop offset="0.1986" stop-color="#ed9c67"/><stop offset="0.3146" stop-color="#e1b594"/><stop offset="0.3162" stop-color="#dfbb9e"/><stop offset="0.4104" stop-color="#d0c7c3"/><stop offset="0.4120" stop-color="#ccc9cf"/><stop offset="0.4935" stop-color="#a2afdd"/><stop offset="0.4951" stop-color="#9aa8db"/><stop offset="0.5926" stop-color="#7585cb"/><stop offset="0.5942" stop-color="#6d7dc6"/><stop offset="0.8641" stop-color="#434ba2"/><stop offset="0.8657" stop-color="#434ba2"/><stop offset="1.0000" stop-color="#32389a"/></linearGradient>
<linearGradient id="h145" gradientUnits="userSpaceOnUse" x1="56.5" x2="390.5" y1="0" y2="0"><stop offset="0.0000" stop-color="#ea894f"/><stop offset="0.1927" stop-color="#ef965b"/><stop offset="0.1943" stop-color="#ed9c67"/><stop offset="0.3130" stop-color="#e1b594"/><stop offset="0.3146" stop-color="#dfbb9e"/><stop offset="0.4083" stop-color="#d0c7c3"/><stop offset="0.4099" stop-color="#ccc9cf"/><stop offset="0.4917" stop-color="#a2afdd"/><stop offset="0.4933" stop-color="#9aa8db"/><stop offset="0.5903" stop-color="#7585cb"/><stop offset="0.5919" stop-color="#6d7dc6"/><stop offset="0.8615" stop-color="#434ba2"/><stop offset="0.8631" stop-color="#434ba2"/><stop offset="1.0000" stop-color="#32389a"/></linearGradient>
<linearGradient id="h146" gradientUnits="userSpaceOnUse" x1="56.5" x2="390.5" y1="0" y2="0"><stop offset="0.0000" stop-color="#eb8a50"/><stop offset="0.1885" stop-color="#ef965b"/><stop offset="0.1901" stop-color="#ed9c67"/><stop offset="0.3114" stop-color="#e1b594"/><stop offset="0.3130" stop-color="#dfbb9e"/><stop offset="0.4062" stop-color="#d0c7c3"/><stop offset="0.4078" stop-color="#ccc9cf"/><stop offset="0.4899" stop-color="#a2afdd"/><stop offset="0.4915" stop-color="#9aa8db"/><stop offset="0.5880" stop-color="#7585cb"/><stop offset="0.5896" stop-color="#6d7dc6"/><stop offset="0.8589" stop-color="#434ba2"/><stop offset="0.8605" stop-color="#434ba2"/><stop offset="1.0000" stop-color="#32389a"/></linearGradient>
<linearGradient id="h147" gradientUnits="userSpaceOnUse" x1="56.5" x2="390.5" y1="0" y2="0"><stop offset="0.0000" stop-color="#eb8b50"/><stop offset="0.1830" stop-color="#ef965b"/><stop offset="0.1846" stop-color="#ed9c67"/><stop offset="0.3099" stop-color="#e1b594"/><stop offset="0.3115" stop-color="#dfbb9e"/><stop offset="0.4041" stop-color="#d0c7c3"/><stop offset="0.4057" stop-color="#ccc9cf"/><stop offset="0.4881" stop-color="#a2afdd"/><stop offset="0.4897" stop-color="#9aa8db"/><stop offset="0.5857" stop-color="#7585cb"/><stop offset="0.5873" stop-color="#6d7dc6"/><stop offset="0.8562" stop-color="#434ba2"/><stop offset="0.8578" stop-color="#434ba2"/><stop offset="1.0000" stop-color="#323799"/></linearGradient>
<linearGradient id="h148" gradientUnits="userSpaceOnUse" x1="56.5" x2="390.5" y1="0" y2="0"><stop offset="0.0000" stop-color="#eb8b51"/><stop offset="0.1764" stop-color="#ef965b"/><stop offset="0.1780" stop-color="#ed9c67"/><stop offset="0.3080" stop-color="#e1b594"/><stop offset="0.3096" stop-color="#dfbb9e"/><stop offset="0.4020" stop-color="#d0c7c3"/><stop offset="0.4036" stop-color="#ccc9cf"/><stop offset="0.4863" stop-color="#a2afdd"/><stop offset="0.4879" stop-color="#9aa8db"/><stop offset="0.5842" stop-color="#7585cb"/><stop offset="0.5858" stop-color="#6d7dc6"/><stop offset="0.8536" stop-color="#434ba2"/><stop offset="0.8552" stop-color="#434ba2"/><stop offset="1.0000" stop-color="#313799"/></linearGradient>
<linearGradient id="h149" gradientUnits="userSpaceOnUse" x1="56.5" x2="390.5" y1="0" y2="0"><stop offset="0.0000" stop-color="#eb8c51"/><stop offset="0.1699" stop-color="#ef965b"/><stop offset="0.1715" stop-color="#ed9c67"/><stop offset="0.3057" stop-color="#e1b594"/><stop offset="0.3073" stop-color="#dfbb9e"/><stop offset="0.3999" stop-color="#d0c7c3"/><stop offset="0.4015" stop-color="#ccc9cf"/><stop offset="0.4845" stop-color="#a2afdd"/><stop offset="0.4861" stop-color="#9aa8db"/><stop offset="0.5837" stop-color="#7585cb"/><stop offset="0.5853" stop-color="#6d7dc6"/><stop offset="0.8510" stop-color="#434ba2"/><stop offset="0.8526" stop-color="#434ba2"/><stop offset="1.0000" stop-color="#313799"/></linearGradient>
<linearGradient id="h150" gradientUnits="userSpaceOnUse" x1="56.5" x2="390.5" y1="0" y2="0"><stop offset="0.0000" stop-color="#ec8d53"/><stop offset="0.1633" stop-color="#ef965b"/><stop offset="0.1649" stop-color="#ed9c67"/><stop offset="0.3035" stop-color="#e1b594"/><stop offset="0.3051" stop-color="#dfbb9e"/><stop offset="0.3980" stop-color="#d0c7c3"/><stop offset="0.3996" stop-color="#ccc9cf"/><stop offset="0.4831" stop-color="#a2afdd"/><stop offset="0.4847" stop-color="#9aa8db"/><stop offset="0.5831" stop-color="#7585cb"/><stop offset="0.5847" stop-color="#6d7dc6"/><stop offset="0.8488" stop-color="#434ba2"/><stop offset="0.8504" stop-color="#434ba2"/><stop offset="1.0000" stop-color="#313799"/></linearGradient>
<linearGradient id="h151" gradientUnits="userSpaceOnUse" x1="56.5" x2="390.5" y1="0" y2="0"><stop offset="0.0000" stop-color="#ec8e54"/><stop offset="0.1567" stop-color="#ef965b"/><stop offset="0.1583" stop-color="#ed9c67"/><stop offset="0.3012" stop-color="#e1b594"/><stop offset="0.3028" stop-color="#dfbb9e"/><stop offset="0.3963" stop-color="#d0c7c3"/><stop offset="0.3979" stop-color="#ccc9cf"/><stop offset="0.4820" stop-color="#a2afdd"/><stop offset="0.4836" stop-color="#9aa8db"/><stop offset="0.5826" stop-color="#7585cb"/><stop offset="0.5842" stop-color="#6d7dc6"/><stop offset="0.8466" stop-color="#434ba2"/><stop offset="0.8482" stop-color="#434ba2"/><stop offset="1.0000" stop-color="#313798"/></linearGradient>
<linearGradient id="h152" gradientUnits="userSpaceOnUse" x1="56.5" x2="390.5" y1="0" y2="0"><stop offset="0.0000" stop-color="#ed9055"/><stop offset="0.1439" stop-color="#ef965b"/><stop offset="0.1455" stop-color="#ed9c67"/><stop offset="0.2990" stop-color="#e1b594"/><stop offset="0.3006" stop-color="#dfbb9e"/><stop offset="0.3946" stop-color="#d0c7c3"/><stop offset="0.3962" stop-color="#ccc9cf"/><stop offset="0.4809" stop-color="#a2afdd"/><stop offset="0.4825" stop-color="#9aa8db"/><stop offset="0.5820" stop-color="#7585cb"/><stop offset="0.5836" stop-color="#6d7dc6"/><stop offset="0.8444" stop-color="#434ba2"/><stop offset="0.8460" stop-color="#434ba2"/><stop offset="1.0000" stop-color="#313698"/></linearGradient>
<linearGradient id="h153" gradientUnits="userSpaceOnUse" x1="56.5" x2="390.5" y1="0" y2="0"><stop offset="0.0000" stop-color="#ed9156"/><stop offset="0.1249" stop-color="#ef965b"/><stop offset="0.1265" stop-color="#ed9c67"/><stop offset="0.2967" stop-color="#e1b594"/><stop offset="0.2983" stop-color="#dfbb9e"/><stop offset="0.3929" stop-color="#d0c7c3"/><stop offset="0.3945" stop-color="#ccc9cf"/><stop offset="0.4798" stop-color="#a2afdd"/><stop offset="0.4814" stop-color="#9aa8db"/><stop offset="0.5814" stop-color="#7585cb"/><stop offset="0.5830" stop-color="#6d7dc6"/><stop offset="0.8422" stop-color="#434ba2"/><stop offset="0.8438" stop-color="#434ba2"/><stop offset="1.0000" stop-color="#313698"/></linearGradient>
<linearGradient id="h154" gradientUnits="userSpaceOnUse" x1="56.5" x2="390.5" y1="0" y2="0"><stop offset="0.0000" stop-color="#ed9257"/><stop offset="0.1060" stop-color="#ef965b"/><stop offset="0.1076" stop-color="#ed9c67"/><stop offset="0.2945" stop-color="#e1b594"/><stop offset="0.2961" stop-color="#dfbb9e"/><stop offset="0.3912" stop-color="#d0c7c3"/><stop offset="0.3928" stop-color="#ccc9cf"/><stop offset="0.4787" stop-color="#a2afdd"/><stop offset="0.4803" stop-color="#9aa8db"/><stop offset="0.5809" stop-color="#7585cb"/><stop offset="0.5825" stop-color="#6d7dc6"/><stop offset="0.8400" stop-color="#434ba2"/><stop offset="0.8416" stop-color="#434ba2"/><stop offset="1.0000" stop-color="#303698"/></linearGradient>
<linearGradient id="h155" gradientUnits="userSpaceOnUse" x1="56.5" x2="390.5" y1="0" y2="0"><stop offset="0.0000" stop-color="#ee9359"/><stop offset="0.0767" stop-color="#ef965b"/><stop offset="0.0783" stop-color="#ed9c67"/><stop offset="0.2922" stop-color="#e1b594"/><stop offset="0.2938" stop-color="#dfbb9e"/><stop offset="0.3895" stop-color="#d0c7c3"/><stop offset="0.3911" stop-color="#ccc9cf"/><stop offset="0.4777" stop-color="#a2afdd"/><stop offset="0.4793" stop-color="#9aa8db"/><stop offset="0.5803" stop-color="#7585cb"/><stop offset="0.5819" stop-color="#6d7dc6"/><stop offset="0.8378" stop-color="#434ba2"/><stop offset="0.8394" stop-color="#434ba2"/><stop offset="1.0000" stop-color="#303698"/></linearGradient>
<linearGradient id="h156" gradientUnits="userSpaceOnUse" x1="56.5" x2="390.5" y1="0" y2="0"><stop offset="0.0000" stop-color="#ee955a"/><stop offset="0.0372" stop-color="#ef965b"/><stop offset="0.0388" stop-color="#ed9c67"/><stop offset="0.2898" stop-color="#e1b594"/><stop offset="0.2914" stop-color="#dfbb9e"/><stop offset="0.3878" stop-color="#d0c7c3"/><stop offset="0.3894" stop-color="#ccc9cf"/><stop offset="0.4766" stop-color="#a2afdd"/><stop offset="0.4782" stop-color="#9aa8db"/><stop offset="0.5798" stop-color="#7585cb"/><stop offset="0.5814" stop-color="#6d7dc6"/><stop offset="0.8356" stop-color="#434ba2"/><stop offset="0.8372" stop-color="#434ba2"/><stop offset="1.0000" stop-color="#303697"/></linearGradient>
<linearGradient id="h157" gradientUnits="userSpaceOnUse" x1="56.5" x2="390.5" y1="0" y2="0"><stop offset="0.0000" stop-color="#ef965b"/><stop offset="0.2871" stop-color="#e1b594"/><stop offset="0.2887" stop-color="#dfbb9e"/><stop offset="0.3861" stop-color="#d0c7c3"/><stop offset="0.3877" stop-color="#ccc9cf"/><stop offset="0.4755" stop-color="#a2afdd"/><stop offset="0.4771" stop-color="#9aa8db"/><stop offset="0.5792" stop-color="#7585cb"/><stop offset="0.5808" stop-color="#6d7dc6"/><stop offset="0.8333" stop-color="#434ba2"/><stop offset="0.8349" stop-color="#434ba2"/><stop offset="1.0000" stop-color="#303597"/></linearGradient>
<linearGradient id="h158" gradientUnits="userSpaceOnUse" x1="56.5" x2="390.5" y1="0" y2="0"><stop offset="0.0000" stop-color="#ed9d68"/><stop offset="0.2845" stop-color="#e1b594"/><stop offset="0.2861" stop-color="#dfbb9e"/><stop offset="0.3844" stop-color="#d0c7c3"/><stop offset="0.3860" stop-color="#ccc9cf"/><stop offset="0.4749" stop-color="#a2afdd"/><stop offset="0.4765" stop-color="#9aa8db"/><stop offset="0.5786" stop-color="#7585cb"/><stop offset="0.5802" stop-color="#6d7dc6"/><stop offset="0.8311" stop-color="#434ba2"/><stop offset="0.8327" stop-color="#434ba2"/><stop offset="1.0000" stop-color="#303597"/></linearGradient>
<linearGradient id="h159" gradientUnits="userSpaceOnUse" x1="56.5" x2="390.5" y1="0" y2="0"><stop offset="0.0000" stop-color="#ed9d69"/><stop offset="0.2818" stop-color="#e1b594"/><stop offset="0.2834" stop-color="#dfbb9e"/><stop offset="0.3827" stop-color="#d0c7c3"/><stop offset="0.3843" stop-color="#ccc9cf"/><stop offset="0.4747" stop-color="#a2afdd"/><stop offset="0.4763" stop-color="#9aa8db"/><stop offset="0.5781" stop-color="#7585cb"/><stop offset="0.5797" stop-color="#6d7dc6"/><stop offset="0.8292" stop-color="#434ba2"/><stop offset="0.8308" stop-color="#434ba2"/><stop offset="1.0000" stop-color="#303597"/></linearGradient>
<linearGradient id="h160" gradientUnits="userSpaceOnUse" x1="56.5" x2="390.5" y1="0" y2="0"><stop offset="0.0000" stop-color="#ed9d69"/><stop offset="0.2791" stop-color="#e1b594"/><stop offset="0.2807" stop-color="#dfbb9e"/><stop offset="0.3791" stop-color="#d0c7c3"/><stop offset="0.3807" stop-color="#ccc9cf"/><stop offset="0.4746" stop-color="#a2afdd"/><stop offset="0.4762" stop-color="#9aa8db"/><stop offset="0.5775" stop-color="#7585cb"/><stop offset="0.5791" stop-color="#6d7dc6"/><stop offset="0.8274" stop-color="#434ba2"/><stop offset="0.8290" stop-color="#434ba2"/><stop offset="1.0000" stop-color="#303596"/></linearGradient>
<linearGradient id="h161" gradientUnits="userSpaceOnUse" x1="56.5" x2="390.5" y1="0" y2="0"><stop offset="0.0000" stop-color="#ec9e6a"/><stop offset="0.2720" stop-color="#e1b594"/><stop offset="0.2736" stop-color="#dfbb9e"/><stop offset="0.3754" stop-color="#d0c7c3"/><stop offset="0.3770" stop-color="#ccc9cf"/><stop offset="0.4745" stop-color="#a2afdd"/><stop offset="0.4761" stop-color="#9aa8db"/><stop offset="0.5770" stop-color="#7585cb"/><stop offset="0.5786" stop-color="#6d7dc6"/><stop offset="0.8256" stop-color="#434ba2"/><stop offset="0.8272" stop-color="#434ba2"/><stop offset="1.0000" stop-color="#2f3596"/></linearGradient>
<linearGradient id="h162" gradientUnits="userSpaceOnUse" x1="56.5" x2="390.5" y1="0" y2="0"><stop offset="0.0000" stop-color="#ec9e6b"/><stop offset="0.2648" stop-color="#e1b594"/><stop offset="0.2664" stop-color="#dfbb9e"/><stop offset="0.3717" stop-color="#d0c7c3"/><stop offset="0.3733" stop-color="#ccc9cf"/><stop offset="0.4743" stop-color="#a2afdd"/><stop offset="0.4759" stop-color="#9aa8db"/><stop offset="0.5764" stop-color="#7585cb"/><stop offset="0.5780" stop-color="#6d7dc6"/><stop offset="0.8239" stop-color="#434ba2"/><stop offset="0.8255" stop-color="#434ba2"/><stop offset="1.0000" stop-color="#2f3496"/></linearGradient>
<linearGradient id="h163" gradientUnits="userSpaceOnUse" x1="56.5" x2="390.5" y1="0" y2="0"><stop offset="0.0000" stop-color="#ec9f6c"/><stop offset="0.2602" stop-color="#e1b594"/><stop offset="0.2618" stop-color="#dfbb9e"/><stop offset="0.3680" stop-color="#d0c7c3"/><stop offset="0.3696" stop-color="#ccc9cf"/><stop offset="0.4742" stop-color="#a2afdd"/><stop offset="0.4758" stop-color="#9aa8db"/><stop offset="0.5758" stop-color="#7585cb"/><stop offset="0.5774" stop-color="#6d7dc6"/><stop offset="0.8221" stop-color="#434ba2"/><stop offset="0.8237" stop-color="#434ba2"/><stop offset="1.0000" stop-color="#2f3496"/></linearGradient>
<linearGradient id="h164" gradientUnits="userSpaceOnUse" x1="56.5" x2="390.5" y1="0" y2="0"><stop offset="0.0000" stop-color="#ec9f6c"/><stop offset="0.2584" stop-color="#e1b594"/><stop offset="0.2600" stop-color="#dfbb9e"/><stop offset="0.3643" stop-color="#d0c7c3"/><stop offset="0.3659" stop-color="#ccc9cf"/><stop offset="0.4741" stop-color="#a2afdd"/><stop offset="0.4757" stop-color="#9aa8db"/><stop offset="0.5754" stop-color="#7585cb"/><stop offset="0.5770" stop-color="#6d7dc6"/><stop offset="0.8204" stop-color="#434ba2"/><stop offset="0.8220" stop-color="#434ba2"/><stop offset="1.0000" stop-color="#2f3496"/></linearGradient>
<linearGradient id="h165" gradientUnits="userSpaceOnUse" x1="56.5" x2="390.5" y1="0" y2="0"><stop offset="0.0000" stop-color="#eca06d"/><stop offset="0.2565" stop-color="#e1b594"/><stop offset="0.2581" stop-color="#dfbb9e"/><stop offset="0.3607" stop-color="#d0c7c3"/><stop offset="0.3623" stop-color="#ccc9cf"/><stop offset="0.4740" stop-color="#a2afdd"/><stop offset="0.4756" stop-color="#9aa8db"/><stop offset="0.5750" stop-color="#7585cb"/><stop offset="0.5766" stop-color="#6d7dc6"/><stop offset="0.8186" stop-color="#434ba2"/><stop offset="0.8202" stop-color="#434ba2"/><stop offset="1.0000" stop-color="#2f3495"/></linearGradient>
<linearGradient id="h166" gradientUnits="userSpaceOnUse" x1="56.5" x2="390.5" y1="0" y2="0"><stop offset="0.0000" stop-color="#eba06e"/><stop offset="0.2546" stop-color="#e1b594"/><stop offset="0.2562" stop-color="#dfbb9e"/><stop offset="0.3570" stop-color="#d0c7c3"/><stop offset="0.3586" stop-color="#ccc9cf"/><stop offset="0.4738" stop-color="#a2afdd"/><stop offset="0.4754" stop-color="#9aa8db"/><stop offset="0.5746" stop-color="#7585cb"/><stop offset="0.5762" stop-color="#6d7dc6"/><stop offset="0.8168" stop-color="#434ba2"/><stop offset="0.8184" stop-color="#434ba2"/><stop offset="1.0000" stop-color="#2f3495"/></linearGradient>
<linearGradient id="h167" gradientUnits="userSpaceOnUse" x1="56.5" x2="390.5" y1="0" y2="0"><stop offset="0.0000" stop-color="#eba16f"/><stop offset="0.2528" stop-color="#e1b594"/><stop offset="0.2544" stop-color="#dfbb9e"/><stop offset="0.3543" stop-color="#d0c7c3"/><stop offset="0.3559" stop-color="#ccc9cf"/><stop offset="0.4737" stop-color="#a2afdd"/><stop offset="0.4753" stop-color="#9aa8db"/><stop offset="0.5743" stop-color="#7585cb"/><stop offset="0.5759" stop-color="#6d7dc6"/><stop offset="0.8151" stop-color="#434ba2"/><stop offset="0.8167" stop-color="#434ba2"/><stop offset="1.0000" stop-color="#2e3395"/></linearGradient>
<linearGradient id="h168" gradientUnits="userSpaceOnUse" x1="56.5" x2="390.5" y1="0" y2="0"><stop offset="0.0000" stop-color="#eba170"/><stop offset="0.2509" stop-color="#e1b594"/><stop offset="0.2525" stop-color="#dfbb9e"/><stop offset="0.3515" stop-color="#d0c7c3"/><stop offset="0.3531" stop-color="#ccc9cf"/><stop offset="0.4736" stop-color="#a2afdd"/><stop offset="0.4752" stop-color="#9aa8db"/><stop offset="0.5739" stop-color="#7585cb"/><stop offset="0.5755" stop-color="#6d7dc6"/><stop offset="0.8144" stop-color="#434ba2"/><stop offset="0.8160" stop-color="#434ba2"/><stop offset="1.0000" stop-color="#2e3395"/></linearGradient>
<linearGradient id="h169" gradientUnits="userSpaceOnUse" x1="56.5" x2="390.5" y1="0" y2="0"><stop offset="0.0000" stop-color="#eba170"/><stop offset="0.2490" stop-color="#e1b594"/><stop offset="0.2506" stop-color="#dfbb9e"/><stop offset="0.3488" stop-color="#d0c7c3"/><stop offset="0.3504" stop-color="#ccc9cf"/><stop offset="0.4734" stop-color="#a2afdd"/><stop offset="0.4750" stop-color="#9aa8db"/><stop offset="0.5736" stop-color="#7585cb"/><stop offset="0.5752" stop-color="#6d7dc6"/><stop offset="0.8137" stop-color="#434ba2"/><stop offset="0.8153" stop-color="#434ba2"/><stop offset="1.0000" stop-color="#2e3394"/></linearGradient>
<linearGradient id="h170" gradientUnits="userSpaceOnUse" x1="56.5" x2="390.5" y1="0" y2="0"><stop offset="0.0000" stop-color="#eaa271"/><stop offset="0.2471" stop-color="#e1b594"/><stop offset="0.2487" stop-color="#dfbb9e"/><stop offset="0.3461" stop-color="#d0c7c3"/><stop offset="0.3477" stop-color="#ccc9cf"/><stop offset="0.4733" stop-color="#a2afdd"/><stop offset="0.4749" stop-color="#9aa8db"/><stop offset="0.5732" stop-color="#7585cb"/><stop offset="0.5748" stop-color="#6d7dc6"/><stop offset="0.8130" stop-color="#434ba2"/><stop offset="0.8146" stop-color="#434ba2"/><stop offset="1.0000" stop-color="#2e3394"/></linearGradient>
<linearGradient id="h171" gradientUnits="userSpaceOnUse" x1="56.5" x2="390.5" y1="0" y2="0"><stop offset="0.0000" stop-color="#eaa272"/><stop offset="0.2459" stop-color="#e1b594"/><stop offset="0.2475" stop-color="#dfbb9e"/><stop offset="0.3434" stop-color="#d0c7c3"/><stop offset="0.3450" stop-color="#ccc9cf"/><stop offset="0.4732" stop-color="#a2afdd"/><stop offset="0.4748" stop-color="#9aa8db"/><stop offset="0.5728" stop-color="#7585cb"/><stop offset="0.5744" stop-color="#6d7dc6"/><stop offset="0.8123" stop-color="#434ba2"/><stop offset="0.8139" stop-color="#434ba2"/><stop offset="1.0000" stop-color="#2e3394"/></linearGradient>
<linearGradient id="h172" gradientUnits="userSpaceOnUse" x1="56.5" x2="390.5" y1="0" y2="0"><stop offset="0.0000" stop-color="#eaa373"/><stop offset="0.2453" stop-color="#e1b594"/><stop offset="0.2469" stop-color="#dfbb9e"/><stop offset="0.3420" stop-color="#d0c7c3"/><stop offset="0.3436" stop-color="#ccc9cf"/><stop offset="0.4730" stop-color="#a2afdd"/><stop offset="0.4746" stop-color="#9aa8db"/><stop offset="0.5725" stop-color="#7585cb"/><stop offset="0.5741" stop-color="#6d7dc6"/><stop offset="0.8116" stop-color="#434ba2"/><stop offset="0.8132" stop-color="#434ba2"/><stop offset="1.0000" stop-color="#2e3294"/></linearGradient>
<linearGradient id="h173" gradientUnits="userSpaceOnUse" x1="56.5" x2="390.5" y1="0" y2="0"><stop offset="0.0000" stop-color="#eaa373"/><stop offset="0.2446" stop-color="#e1b594"/><stop offset="0.2462" stop-color="#dfbb9e"/><stop offset="0.3420" stop-color="#d0c7c3"/><stop offset="0.3436" stop-color="#ccc9cf"/><stop offset="0.4729" stop-color="#a2afdd"/><stop offset="0.4745" stop-color="#9aa8db"/><stop offset="0.5721" stop-color="#7585cb"/><stop offset="0.5737" stop-color="#6d7dc6"/><stop offset="0.8109" stop-color="#434ba2"/><stop offset="0.8125" stop-color="#434ba2"/><stop offset="1.0000" stop-color="#2d3294"/></linearGradient>
<linearGradient id="h174" gradientUnits="userSpaceOnUse" x1="56.5" x2="390.5" y1="0" y2="0"><stop offset="0.0000" stop-color="#eaa474"/><stop offset="0.2440" stop-color="#e1b594"/><stop offset="0.2456" stop-color="#dfbb9e"/><stop offset="0.3420" stop-color="#d0c7c3"/><stop offset="0.3436" stop-color="#ccc9cf"/><stop offset="0.4728" stop-color="#a2afdd"/><stop offset="0.4744" stop-color="#9aa8db"/><stop offset="0.5717" stop-color="#7585cb"/><stop offset="0.5733" stop-color="#6d7dc6"/><stop offset="0.8102" stop-color="#434ba2"/><stop offset="0.8118" stop-color="#434ba2"/><stop offset="1.0000" stop-color="#2d3293"/></linearGradient>
<linearGradient id="h175" gradientUnits="userSpaceOnUse" x1="56.5" x2="390.5" y1="0" y2="0"><stop offset="0.0000" stop-color="#e9a475"/><stop offset="0.2434" stop-color="#e1b594"/><stop offset="0.2450" stop-color="#dfbb9e"/><stop offset="0.3420" stop-color="#d0c7c3"/><stop offset="0.3436" stop-color="#ccc9cf"/><stop offset="0.4726" stop-color="#a2afdd"/><stop offset="0.4742" stop-color="#9aa8db"/><stop offset="0.5714" stop-color="#7585cb"/><stop offset="0.5730" stop-color="#6d7dc6"/><stop offset="0.8095" stop-color="#434ba2"/><stop offset="0.8111" stop-color="#434ba2"/><stop offset="1.0000" stop-color="#2d3293"/></linearGradient>
<linearGradient id="h176" gradientUnits="userSpaceOnUse" x1="56.5" x2="390.5" y1="0" y2="0"><stop offset="0.0000" stop-color="#e9a476"/><stop offset="0.2427" stop-color="#e1b594"/><stop offset="0.2443" stop-color="#dfbb9e"/><stop offset="0.3420" stop-color="#d0c7c3"/><stop offset="0.3436" stop-color="#ccc9cf"/><stop offset="0.4725" stop-color="#a2afdd"/><stop offset="0.4741" stop-color="#9aa8db"/><stop offset="0.5710" stop-color="#7585cb"/><stop offset="0.5726" stop-color="#6d7dc6"/><stop offset="0.8088" stop-color="#434ba2"/><stop offset="0.8104" stop-color="#434ba2"/><stop offset="1.0000" stop-color="#2d3293"/></linearGradient>
<linearGradient id="h177" gradientUnits="userSpaceOnUse" x1="56.5" x2="390.5" y1="0" y2="0"><stop offset="0.0000" stop-color="#e9a577"/><stop offset="0.2421" stop-color="#e1b594"/><stop offset="0.2437" stop-color="#dfbb9e"/><stop offset="0.3420" stop-color="#d0c7c3"/><stop offset="0.3436" stop-color="#ccc9cf"/><stop offset="0.4724" stop-color="#a2afdd"/><stop offset="0.4740" stop-color="#9aa8db"/><stop offset="0.5706" stop-color="#7585cb"/><stop offset="0.5722" stop-color="#6d7dc6"/><stop offset="0.8082" stop-color="#434ba2"/><stop offset="0.8098" stop-color="#434ba2"/><stop offset="1.0000" stop-color="#2d3193"/></linearGradient>
<linearGradient id="h178" gradientUnits="userSpaceOnUse" x1="56.5" x2="390.5" y1="0" y2="0"><stop offset="0.0000" stop-color="#e9a577"/><stop offset="0.2415" stop-color="#e1b594"/><stop offset="0.2431" stop-color="#dfbb9e"/><stop offset="0.3420" stop-color="#d0c7c3"/><stop offset="0.3436" stop-color="#ccc9cf"/><stop offset="0.4722" stop-color="#a2afdd"/><stop offset="0.4738" stop-color="#9aa8db"/><stop offset="0.5703" stop-color="#7585cb"/><stop offset="0.5719" stop-color="#6d7dc6"/><stop offset="0.8075" stop-color="#434ba2"/><stop offset="0.8091" stop-color="#434ba2"/><stop offset="1.0000" stop-color="#2d3192"/></linearGradient>
<linearGradient id="h179" gradientUnits="userSpaceOnUse" x1="56.5" x2="390.5" y1="0" y2="0"><stop offset="0.0000" stop-color="#e8a678"/><stop offset="0.2408" stop-color="#e1b594"/><stop offset="0.2424" stop-color="#dfbb9e"/><stop offset="0.3420" stop-color="#d0c7c3"/><stop offset="0.3436" stop-color="#ccc9cf"/><stop offset="0.4721" stop-color="#a2afdd"/><stop offset="0.4737" stop-color="#9aa8db"/><stop offset="0.5699" stop-color="#7585cb"/><stop offset="0.5715" stop-color="#6d7dc6"/><stop offset="0.8068" stop-color="#434ba2"/><stop offset="0.8084" stop-color="#434ba2"/><stop offset="1.0000" stop-color="#2d3192"/></linearGradient></defs>
<rect x="0" y="0" width="520" height="716" fill="#fff"/>
<text x="152.6" y="21.8" font-size="13.70" text-anchor="middle" textLength="86.2" lengthAdjust="spacingAndGlyphs" >Lower domain</text>
<defs><filter id="glow" x="-50%" y="-50%" width="200%" height="200%"><feGaussianBlur stdDeviation="1.2"/></filter></defs>
<g fill="#66d466" fill-opacity="0.35" filter="url(#glow)"><circle cx="145.6" cy="113.6" r="2.40"/><circle cx="130.5" cy="123.5" r="2.40"/><circle cx="149.3" cy="121.5" r="2.40"/><circle cx="245.5" cy="37.3" r="2.40"/><circle cx="239.3" cy="40.5" r="2.40"/><circle cx="237.2" cy="40.9" r="2.40"/><circle cx="236.2" cy="42.5" r="2.40"/><circle cx="233.1" cy="43.0" r="2.40"/><circle cx="241.4" cy="43.6" r="2.40"/><circle cx="247.6" cy="48.4" r="2.40"/><circle cx="233.7" cy="49.2" r="2.40"/><circle cx="235.6" cy="59.2" r="2.40"/><circle cx="226.8" cy="52.5" r="2.40"/><circle cx="225.2" cy="53.3" r="2.40"/><circle cx="223.7" cy="54.6" r="2.40"/><circle cx="221.7" cy="55.6" r="2.40"/><circle cx="222.7" cy="57.1" r="2.40"/><circle cx="216.5" cy="62.9" r="2.40"/><circle cx="218.5" cy="65.4" r="2.40"/><circle cx="204.8" cy="54.6" r="2.40"/><circle cx="209.8" cy="59.6" r="2.40"/><circle cx="203.6" cy="65.0" r="2.40"/><circle cx="209.2" cy="66.6" r="2.40"/><circle cx="200.3" cy="70.6" r="2.40"/><circle cx="199.8" cy="73.7" r="2.40"/><circle cx="213.8" cy="73.7" r="2.40"/><circle cx="225.2" cy="70.6" r="2.40"/><circle cx="212.3" cy="79.9" r="2.40"/><circle cx="195.7" cy="79.5" r="2.40"/><circle cx="189.5" cy="83.0" r="2.40"/><circle cx="203.0" cy="87.2" r="2.40"/><circle cx="168.3" cy="89.9" r="2.40"/><circle cx="186.3" cy="90.3" r="2.40"/><circle cx="190.5" cy="88.2" r="2.40"/><circle cx="192.6" cy="89.3" r="2.40"/><circle cx="188.4" cy="91.3" r="2.40"/><circle cx="193.6" cy="93.4" r="2.40"/><circle cx="195.7" cy="94.9" r="2.40"/><circle cx="186.3" cy="93.4" r="2.40"/><circle cx="184.9" cy="97.6" r="2.40"/><circle cx="188.0" cy="97.6" r="2.40"/><circle cx="185.3" cy="103.8" r="2.40"/><circle cx="162.5" cy="99.7" r="2.40"/><circle cx="157.9" cy="103.8" r="2.40"/><circle cx="158.7" cy="105.3" r="2.40"/><circle cx="168.7" cy="103.2" r="2.40"/><circle cx="170.8" cy="103.8" r="2.40"/><circle cx="173.9" cy="97.6" r="2.40"/><circle cx="197.4" cy="105.9" r="2.40"/><circle cx="217.1" cy="108.4" r="2.40"/><circle cx="164.5" cy="109.4" r="2.40"/><circle cx="169.7" cy="113.6" r="2.40"/><circle cx="171.4" cy="113.2" r="2.40"/><circle cx="172.8" cy="113.2" r="2.40"/><circle cx="178.0" cy="116.3" r="2.40"/><circle cx="202.3" cy="116.3" r="2.40"/><circle cx="152.5" cy="123.1" r="2.40"/><circle cx="154.2" cy="125.2" r="2.40"/><circle cx="87.0" cy="141.8" r="2.40"/><circle cx="112.4" cy="145.1" r="2.40"/><circle cx="125.9" cy="142.6" r="2.40"/><circle cx="136.9" cy="136.8" r="2.40"/><circle cx="142.9" cy="138.0" r="2.40"/><circle cx="140.0" cy="141.8" r="2.40"/><circle cx="154.5" cy="134.3" r="2.40"/><circle cx="151.2" cy="142.6" r="2.40"/><circle cx="131.1" cy="147.4" r="2.40"/><circle cx="142.9" cy="148.8" r="2.40"/><circle cx="118.6" cy="150.5" r="2.40"/><circle cx="65.7" cy="155.1" r="2.40"/><circle cx="136.9" cy="155.1" r="2.40"/><circle cx="145.6" cy="155.1" r="2.40"/><circle cx="87.0" cy="163.8" r="2.40"/><circle cx="102.0" cy="161.7" r="2.40"/><circle cx="114.5" cy="163.4" r="2.40"/><circle cx="131.1" cy="165.5" r="2.40"/><circle cx="91.2" cy="176.9" r="2.40"/><circle cx="104.7" cy="176.9" r="2.40"/><circle cx="112.4" cy="174.4" r="2.40"/><circle cx="118.6" cy="174.4" r="2.40"/><circle cx="120.7" cy="172.3" r="2.40"/><circle cx="132.7" cy="174.2" r="2.40"/><circle cx="98.5" cy="182.1" r="2.40"/><circle cx="104.7" cy="188.3" r="2.40"/><circle cx="112.4" cy="192.0" r="2.40"/><circle cx="94.9" cy="195.8" r="2.40"/><circle cx="71.9" cy="200.1" r="2.40"/><circle cx="71.9" cy="204.3" r="2.40"/><circle cx="57.8" cy="209.7" r="2.40"/><circle cx="91.2" cy="215.5" r="2.40"/><circle cx="94.9" cy="222.4" r="2.40"/><circle cx="161.8" cy="139.5" r="2.40"/><circle cx="168.7" cy="127.0" r="2.40"/><circle cx="168.3" cy="130.2" r="2.40"/><circle cx="175.5" cy="128.5" r="2.40"/><circle cx="173.5" cy="139.5" r="2.40"/><circle cx="173.9" cy="145.1" r="2.40"/><circle cx="166.2" cy="174.2" r="2.40"/></g>
<g fill="none" stroke="#4a9450" stroke-width="0.95"><circle cx="145.6" cy="113.6" r="1.45"/><circle cx="130.5" cy="123.5" r="1.45"/><circle cx="149.3" cy="121.5" r="1.45"/><circle cx="245.5" cy="37.3" r="1.45"/><circle cx="239.3" cy="40.5" r="1.45"/><circle cx="237.2" cy="40.9" r="1.45"/><circle cx="236.2" cy="42.5" r="1.45"/><circle cx="233.1" cy="43.0" r="1.45"/><circle cx="241.4" cy="43.6" r="1.45"/><circle cx="247.6" cy="48.4" r="1.45"/><circle cx="233.7" cy="49.2" r="1.45"/><circle cx="235.6" cy="59.2" r="1.45"/><circle cx="226.8" cy="52.5" r="1.45"/><circle cx="225.2" cy="53.3" r="1.45"/><circle cx="223.7" cy="54.6" r="1.45"/><circle cx="221.7" cy="55.6" r="1.45"/><circle cx="222.7" cy="57.1" r="1.45"/><circle cx="216.5" cy="62.9" r="1.45"/><circle cx="218.5" cy="65.4" r="1.45"/><circle cx="204.8" cy="54.6" r="1.45"/><circle cx="209.8" cy="59.6" r="1.45"/><circle cx="203.6" cy="65.0" r="1.45"/><circle cx="209.2" cy="66.6" r="1.45"/><circle cx="200.3" cy="70.6" r="1.45"/><circle cx="199.8" cy="73.7" r="1.45"/><circle cx="213.8" cy="73.7" r="1.45"/><circle cx="225.2" cy="70.6" r="1.45"/><circle cx="212.3" cy="79.9" r="1.45"/><circle cx="195.7" cy="79.5" r="1.45"/><circle cx="189.5" cy="83.0" r="1.45"/><circle cx="203.0" cy="87.2" r="1.45"/><circle cx="168.3" cy="89.9" r="1.45"/><circle cx="186.3" cy="90.3" r="1.45"/><circle cx="190.5" cy="88.2" r="1.45"/><circle cx="192.6" cy="89.3" r="1.45"/><circle cx="188.4" cy="91.3" r="1.45"/><circle cx="193.6" cy="93.4" r="1.45"/><circle cx="195.7" cy="94.9" r="1.45"/><circle cx="186.3" cy="93.4" r="1.45"/><circle cx="184.9" cy="97.6" r="1.45"/><circle cx="188.0" cy="97.6" r="1.45"/><circle cx="185.3" cy="103.8" r="1.45"/><circle cx="162.5" cy="99.7" r="1.45"/><circle cx="157.9" cy="103.8" r="1.45"/><circle cx="158.7" cy="105.3" r="1.45"/><circle cx="168.7" cy="103.2" r="1.45"/><circle cx="170.8" cy="103.8" r="1.45"/><circle cx="173.9" cy="97.6" r="1.45"/><circle cx="197.4" cy="105.9" r="1.45"/><circle cx="217.1" cy="108.4" r="1.45"/><circle cx="164.5" cy="109.4" r="1.45"/><circle cx="169.7" cy="113.6" r="1.45"/><circle cx="171.4" cy="113.2" r="1.45"/><circle cx="172.8" cy="113.2" r="1.45"/><circle cx="178.0" cy="116.3" r="1.45"/><circle cx="202.3" cy="116.3" r="1.45"/><circle cx="152.5" cy="123.1" r="1.45"/><circle cx="154.2" cy="125.2" r="1.45"/><circle cx="87.0" cy="141.8" r="1.45"/><circle cx="112.4" cy="145.1" r="1.45"/><circle cx="125.9" cy="142.6" r="1.45"/><circle cx="136.9" cy="136.8" r="1.45"/><circle cx="142.9" cy="138.0" r="1.45"/><circle cx="140.0" cy="141.8" r="1.45"/><circle cx="154.5" cy="134.3" r="1.45"/><circle cx="151.2" cy="142.6" r="1.45"/><circle cx="131.1" cy="147.4" r="1.45"/><circle cx="142.9" cy="148.8" r="1.45"/><circle cx="118.6" cy="150.5" r="1.45"/><circle cx="65.7" cy="155.1" r="1.45"/><circle cx="136.9" cy="155.1" r="1.45"/><circle cx="145.6" cy="155.1" r="1.45"/><circle cx="87.0" cy="163.8" r="1.45"/><circle cx="102.0" cy="161.7" r="1.45"/><circle cx="114.5" cy="163.4" r="1.45"/><circle cx="131.1" cy="165.5" r="1.45"/><circle cx="91.2" cy="176.9" r="1.45"/><circle cx="104.7" cy="176.9" r="1.45"/><circle cx="112.4" cy="174.4" r="1.45"/><circle cx="118.6" cy="174.4" r="1.45"/><circle cx="120.7" cy="172.3" r="1.45"/><circle cx="132.7" cy="174.2" r="1.45"/><circle cx="98.5" cy="182.1" r="1.45"/><circle cx="104.7" cy="188.3" r="1.45"/><circle cx="112.4" cy="192.0" r="1.45"/><circle cx="94.9" cy="195.8" r="1.45"/><circle cx="71.9" cy="200.1" r="1.45"/><circle cx="71.9" cy="204.3" r="1.45"/><circle cx="57.8" cy="209.7" r="1.45"/><circle cx="91.2" cy="215.5" r="1.45"/><circle cx="94.9" cy="222.4" r="1.45"/><circle cx="161.8" cy="139.5" r="1.45"/><circle cx="168.7" cy="127.0" r="1.45"/><circle cx="168.3" cy="130.2" r="1.45"/><circle cx="175.5" cy="128.5" r="1.45"/><circle cx="173.5" cy="139.5" r="1.45"/><circle cx="173.9" cy="145.1" r="1.45"/><circle cx="166.2" cy="174.2" r="1.45"/></g>
<line x1="51" y1="206.2" x2="255.5" y2="34.2" stroke="#111" stroke-width="1.05" stroke-dasharray="1.4,1.9"/>
<rect x="50.4" y="30.6" width="205.4" height="198.8" fill="none" stroke="#111" stroke-width="1.2"/>
<line x1="74.9" y1="229.4" x2="74.9" y2="233.4" stroke="#111" stroke-width="1.1"/>
<text x="74.9" y="249.2" font-size="11.30" text-anchor="middle" >2</text>
<line x1="117.1" y1="229.4" x2="117.1" y2="233.4" stroke="#111" stroke-width="1.1"/>
<text x="117.1" y="249.2" font-size="11.30" text-anchor="middle" >3</text>
<line x1="159.2" y1="229.4" x2="159.2" y2="233.4" stroke="#111" stroke-width="1.1"/>
<text x="159.2" y="249.2" font-size="11.30" text-anchor="middle" >4</text>
<line x1="201.3" y1="229.4" x2="201.3" y2="233.4" stroke="#111" stroke-width="1.1"/>
<text x="201.3" y="249.2" font-size="11.30" text-anchor="middle" >5</text>
<line x1="243.5" y1="229.4" x2="243.5" y2="233.4" stroke="#111" stroke-width="1.1"/>
<text x="243.5" y="249.2" font-size="11.30" text-anchor="middle" >6</text>
<line x1="46.2" y1="212.5" x2="50.4" y2="212.5" stroke="#111" stroke-width="1.1"/>
<text x="40.8" y="216.4" font-size="11.30" text-anchor="end" >2</text>
<line x1="46.2" y1="168.8" x2="50.4" y2="168.8" stroke="#111" stroke-width="1.1"/>
<text x="40.8" y="172.7" font-size="11.30" text-anchor="end" >3</text>
<line x1="46.2" y1="125.1" x2="50.4" y2="125.1" stroke="#111" stroke-width="1.1"/>
<text x="40.8" y="129.0" font-size="11.30" text-anchor="end" >4</text>
<line x1="46.2" y1="81.4" x2="50.4" y2="81.4" stroke="#111" stroke-width="1.1"/>
<text x="40.8" y="85.3" font-size="11.30" text-anchor="end" >5</text>
<line x1="46.2" y1="37.7" x2="50.4" y2="37.7" stroke="#111" stroke-width="1.1"/>
<text x="40.8" y="41.6" font-size="11.30" text-anchor="end" >6</text>
<text x="152.2" y="268.4" font-size="14.20" text-anchor="middle" textLength="58.6" lengthAdjust="spacingAndGlyphs" stroke="#1a1a1a" stroke-width="0.4">Lag-1 log PLT</text>
<text transform="translate(25.8,130.0) rotate(-90)" x="0" y="0" font-size="14.20" text-anchor="middle" textLength="34.2" lengthAdjust="spacingAndGlyphs" stroke="#1a1a1a" stroke-width="0.4">Log PLT</text>
<text x="403.7" y="21.8" font-size="13.70" text-anchor="middle" textLength="86.2" lengthAdjust="spacingAndGlyphs" >Upper domain</text>
<g fill="#3fd03f" fill-opacity="0.45" filter="url(#glow)"><circle cx="364.6" cy="129.4" r="2.50"/><circle cx="373.5" cy="127.2" r="2.50"/><circle cx="362.8" cy="144.2" r="2.50"/><circle cx="375.1" cy="139.5" r="2.50"/><circle cx="374.2" cy="142.2" r="2.50"/><circle cx="368.5" cy="145.2" r="2.50"/><circle cx="366.5" cy="150.9" r="2.50"/><circle cx="353.5" cy="158.8" r="2.50"/><circle cx="368.8" cy="159.1" r="2.50"/><circle cx="331.2" cy="162.6" r="2.50"/><circle cx="339.2" cy="164.5" r="2.50"/><circle cx="348.2" cy="170.2" r="2.50"/><circle cx="375.1" cy="170.2" r="2.50"/><circle cx="338.5" cy="176.2" r="2.50"/><circle cx="321.5" cy="179.1" r="2.50"/><circle cx="348.2" cy="184.0" r="2.50"/><circle cx="356.5" cy="184.0" r="2.50"/><circle cx="315.4" cy="189.8" r="2.50"/><circle cx="371.8" cy="193.2" r="2.50"/><circle cx="366.5" cy="112.9" r="2.50"/><circle cx="366.5" cy="118.8" r="2.50"/><circle cx="373.5" cy="127.2" r="2.50"/><circle cx="409.7" cy="93.4" r="2.50"/><circle cx="415.1" cy="91.6" r="2.50"/><circle cx="419.8" cy="92.0" r="2.50"/><circle cx="424.5" cy="91.3" r="2.50"/><circle cx="406.3" cy="102.8" r="2.50"/><circle cx="429.2" cy="103.5" r="2.50"/><circle cx="433.3" cy="103.5" r="2.50"/><circle cx="420.5" cy="106.8" r="2.50"/><circle cx="423.8" cy="110.2" r="2.50"/><circle cx="426.5" cy="106.8" r="2.50"/><circle cx="431.9" cy="109.5" r="2.50"/><circle cx="430.6" cy="112.9" r="2.50"/><circle cx="433.3" cy="115.6" r="2.50"/><circle cx="433.3" cy="118.3" r="2.50"/><circle cx="426.5" cy="114.9" r="2.50"/><circle cx="411.7" cy="118.9" r="2.50"/><circle cx="405.0" cy="116.9" r="2.50"/><circle cx="398.3" cy="122.3" r="2.50"/><circle cx="403.0" cy="123.6" r="2.50"/><circle cx="408.4" cy="136.2" r="2.50"/><circle cx="394.2" cy="136.4" r="2.50"/><circle cx="394.6" cy="140.1" r="2.50"/><circle cx="387.2" cy="135.5" r="2.50"/><circle cx="380.8" cy="126.3" r="2.50"/><circle cx="379.4" cy="131.7" r="2.50"/><circle cx="382.1" cy="140.1" r="2.50"/><circle cx="388.8" cy="152.2" r="2.50"/><circle cx="396.2" cy="162.4" r="2.50"/><circle cx="412.8" cy="156.4" r="2.50"/><circle cx="420.8" cy="73.6" r="2.50"/><circle cx="397.9" cy="89.4" r="2.50"/><circle cx="409.9" cy="93.5" r="2.50"/><circle cx="415.2" cy="91.2" r="2.50"/><circle cx="426.7" cy="84.6" r="2.50"/><circle cx="431.5" cy="86.5" r="2.50"/><circle cx="437.8" cy="73.6" r="2.50"/><circle cx="431.3" cy="109.4" r="2.50"/><circle cx="432.7" cy="113.4" r="2.50"/><circle cx="433.4" cy="117.5" r="2.50"/><circle cx="439.4" cy="100.0" r="2.50"/><circle cx="442.8" cy="103.4" r="2.50"/><circle cx="448.2" cy="94.6" r="2.50"/><circle cx="453.6" cy="96.2" r="2.50"/><circle cx="454.2" cy="86.5" r="2.50"/><circle cx="461.6" cy="84.5" r="2.50"/><circle cx="470.4" cy="87.2" r="2.50"/><circle cx="432.0" cy="103.4" r="2.50"/><circle cx="491.9" cy="38.1" r="2.50"/><circle cx="477.1" cy="44.1" r="2.50"/><circle cx="480.5" cy="44.5" r="2.50"/><circle cx="483.8" cy="43.5" r="2.50"/><circle cx="487.2" cy="44.1" r="2.50"/><circle cx="477.8" cy="65.7" r="2.50"/><circle cx="448.0" cy="62.9" r="2.50"/><circle cx="451.5" cy="68.8" r="2.50"/><circle cx="431.4" cy="76.9" r="2.50"/><circle cx="425.8" cy="88.3" r="2.50"/><circle cx="480.9" cy="44.6" r="2.50"/><circle cx="431.8" cy="85.6" r="2.50"/><circle cx="447.3" cy="78.3" r="2.50"/><circle cx="452.2" cy="68.9" r="2.50"/><circle cx="481.9" cy="65.0" r="2.50"/><circle cx="437.9" cy="91.9" r="2.50"/><circle cx="472.5" cy="65.1" r="2.50"/><circle cx="476.4" cy="57.1" r="2.50"/><circle cx="480.8" cy="51.7" r="2.50"/><circle cx="425.4" cy="81.1" r="2.50"/><circle cx="454.7" cy="76.1" r="2.50"/><circle cx="431.8" cy="85.1" r="2.50"/><circle cx="427.2" cy="84.8" r="2.50"/><circle cx="433.2" cy="82.7" r="2.50"/><circle cx="438.9" cy="98.4" r="2.50"/><circle cx="433.1" cy="75.1" r="2.50"/><circle cx="426.2" cy="96.3" r="2.50"/><circle cx="433.2" cy="84.2" r="2.50"/><circle cx="425.6" cy="85.0" r="2.50"/><circle cx="443.0" cy="77.1" r="2.50"/><circle cx="479.5" cy="46.6" r="2.50"/><circle cx="465.8" cy="60.7" r="2.50"/><circle cx="432.2" cy="97.7" r="2.50"/><circle cx="422.4" cy="95.5" r="2.50"/><circle cx="435.9" cy="82.2" r="2.50"/><circle cx="457.0" cy="69.5" r="2.50"/><circle cx="430.9" cy="92.8" r="2.50"/><circle cx="455.5" cy="75.5" r="2.50"/><circle cx="480.8" cy="58.1" r="2.50"/><circle cx="421.1" cy="89.9" r="2.50"/><circle cx="463.5" cy="67.8" r="2.50"/><circle cx="449.9" cy="74.8" r="2.50"/><circle cx="439.8" cy="83.7" r="2.50"/><circle cx="465.7" cy="65.1" r="2.50"/><circle cx="465.7" cy="61.9" r="2.50"/><circle cx="441.8" cy="69.4" r="2.50"/><circle cx="475.9" cy="62.2" r="2.50"/><circle cx="473.5" cy="54.9" r="2.50"/><circle cx="458.7" cy="63.3" r="2.50"/><circle cx="425.0" cy="95.0" r="2.50"/><circle cx="481.6" cy="60.5" r="2.50"/><circle cx="465.6" cy="58.3" r="2.50"/><circle cx="447.3" cy="78.1" r="2.50"/><circle cx="421.8" cy="89.0" r="2.50"/><circle cx="449.8" cy="76.3" r="2.50"/><circle cx="458.1" cy="79.5" r="2.50"/><circle cx="435.9" cy="88.7" r="2.50"/><circle cx="476.2" cy="53.8" r="2.50"/><circle cx="440.3" cy="75.2" r="2.50"/><circle cx="432.3" cy="74.9" r="2.50"/><circle cx="474.6" cy="63.6" r="2.50"/><circle cx="456.2" cy="69.7" r="2.50"/><circle cx="471.9" cy="64.1" r="2.50"/><circle cx="433.3" cy="77.2" r="2.50"/><circle cx="439.6" cy="85.9" r="2.50"/><circle cx="463.9" cy="61.3" r="2.50"/><circle cx="459.0" cy="60.9" r="2.50"/><circle cx="470.1" cy="65.4" r="2.50"/><circle cx="420.7" cy="98.7" r="2.50"/><circle cx="464.3" cy="68.2" r="2.50"/><circle cx="463.2" cy="71.2" r="2.50"/><circle cx="458.1" cy="70.1" r="2.50"/><circle cx="477.8" cy="55.5" r="2.50"/><circle cx="458.8" cy="66.1" r="2.50"/><circle cx="443.4" cy="67.5" r="2.50"/><circle cx="478.5" cy="50.1" r="2.50"/><circle cx="460.4" cy="71.2" r="2.50"/><circle cx="459.8" cy="78.5" r="2.50"/><circle cx="433.2" cy="99.1" r="2.50"/><circle cx="453.3" cy="62.5" r="2.50"/><circle cx="439.9" cy="91.7" r="2.50"/><circle cx="425.1" cy="82.7" r="2.50"/><circle cx="469.6" cy="65.4" r="2.50"/><circle cx="452.0" cy="71.7" r="2.50"/><circle cx="478.6" cy="43.5" r="2.50"/><circle cx="478.8" cy="59.1" r="2.50"/><circle cx="438.0" cy="84.5" r="2.50"/><circle cx="459.6" cy="56.9" r="2.50"/><circle cx="439.3" cy="79.7" r="2.50"/><circle cx="472.4" cy="64.0" r="2.50"/><circle cx="480.0" cy="51.8" r="2.50"/><circle cx="455.5" cy="73.8" r="2.50"/><circle cx="480.1" cy="47.9" r="2.50"/><circle cx="454.9" cy="71.2" r="2.50"/><circle cx="462.8" cy="74.1" r="2.50"/><circle cx="479.3" cy="58.0" r="2.50"/><circle cx="436.7" cy="79.7" r="2.50"/><circle cx="470.6" cy="62.6" r="2.50"/><circle cx="449.5" cy="73.6" r="2.50"/><circle cx="462.6" cy="67.6" r="2.50"/><circle cx="442.0" cy="77.9" r="2.50"/><circle cx="427.6" cy="85.9" r="2.50"/><circle cx="435.5" cy="86.0" r="2.50"/><circle cx="443.3" cy="86.6" r="2.50"/><circle cx="452.8" cy="75.5" r="2.50"/><circle cx="459.6" cy="72.5" r="2.50"/><circle cx="465.9" cy="57.0" r="2.50"/><circle cx="476.0" cy="55.4" r="2.50"/><circle cx="433.5" cy="89.6" r="2.50"/><circle cx="475.0" cy="61.5" r="2.50"/><circle cx="321.2" cy="126.0" r="2.50"/><circle cx="342.0" cy="138.0" r="2.50"/><circle cx="353.1" cy="140.6" r="2.50"/><circle cx="356.6" cy="137.1" r="2.50"/><circle cx="353.5" cy="139.5" r="2.50"/><circle cx="330.8" cy="143.2" r="2.50"/><circle cx="370.8" cy="139.1" r="2.50"/><circle cx="373.5" cy="141.4" r="2.50"/><circle cx="376.9" cy="138.3" r="2.50"/><circle cx="350.8" cy="149.4" r="2.50"/><circle cx="375.1" cy="152.5" r="2.50"/><circle cx="356.9" cy="152.2" r="2.50"/><circle cx="326.2" cy="156.2" r="2.50"/><circle cx="356.2" cy="160.6" r="2.50"/><circle cx="367.2" cy="158.3" r="2.50"/><circle cx="375.1" cy="158.0" r="2.50"/><circle cx="339.7" cy="165.2" r="2.50"/><circle cx="321.2" cy="205.4" r="2.50"/><circle cx="326.5" cy="205.5" r="2.50"/><circle cx="308.9" cy="210.3" r="2.50"/><circle cx="308.9" cy="222.5" r="2.50"/><circle cx="372.0" cy="116.0" r="2.50"/><circle cx="376.6" cy="124.6" r="2.50"/><circle cx="378.8" cy="126.5" r="2.50"/><circle cx="396.9" cy="96.1" r="2.50"/><circle cx="389.5" cy="98.3" r="2.50"/><circle cx="384.5" cy="101.8" r="2.50"/><circle cx="387.2" cy="105.5" r="2.50"/><circle cx="395.8" cy="105.1" r="2.50"/><circle cx="429.2" cy="91.3" r="2.50"/><circle cx="431.9" cy="94.0" r="2.50"/><circle cx="421.1" cy="95.4" r="2.50"/><circle cx="417.1" cy="98.1" r="2.50"/><circle cx="410.4" cy="99.4" r="2.50"/><circle cx="407.0" cy="103.5" r="2.50"/><circle cx="404.3" cy="106.8" r="2.50"/><circle cx="401.6" cy="110.2" r="2.50"/><circle cx="409.0" cy="102.8" r="2.50"/><circle cx="413.1" cy="103.5" r="2.50"/><circle cx="416.4" cy="100.8" r="2.50"/><circle cx="423.2" cy="100.8" r="2.50"/><circle cx="426.5" cy="102.1" r="2.50"/><circle cx="416.4" cy="115.6" r="2.50"/><circle cx="420.1" cy="116.2" r="2.50"/><circle cx="420.1" cy="120.3" r="2.50"/><circle cx="409.0" cy="114.2" r="2.50"/><circle cx="406.3" cy="112.2" r="2.50"/><circle cx="382.4" cy="115.6" r="2.50"/><circle cx="383.2" cy="118.3" r="2.50"/><circle cx="386.2" cy="114.2" r="2.50"/><circle cx="393.6" cy="113.6" r="2.50"/><circle cx="405.7" cy="121.6" r="2.50"/><circle cx="404.3" cy="126.3" r="2.50"/><circle cx="405.0" cy="129.7" r="2.50"/><circle cx="403.4" cy="134.1" r="2.50"/><circle cx="390.2" cy="123.6" r="2.50"/><circle cx="391.5" cy="126.3" r="2.50"/><circle cx="388.8" cy="122.3" r="2.50"/><circle cx="392.2" cy="129.7" r="2.50"/><circle cx="376.7" cy="124.3" r="2.50"/><circle cx="384.8" cy="123.0" r="2.50"/><circle cx="382.4" cy="130.4" r="2.50"/><circle cx="381.4" cy="151.2" r="2.50"/><circle cx="428.8" cy="77.9" r="2.50"/><circle cx="396.4" cy="96.6" r="2.50"/><circle cx="492.6" cy="39.2" r="2.50"/><circle cx="468.4" cy="50.9" r="2.50"/><circle cx="461.2" cy="52.9" r="2.50"/><circle cx="452.2" cy="62.3" r="2.50"/><circle cx="491.9" cy="53.6" r="2.50"/><circle cx="425.6" cy="92.6" r="2.50"/><circle cx="460.5" cy="65.6" r="2.50"/><circle cx="452.8" cy="70.8" r="2.50"/><circle cx="448.4" cy="70.3" r="2.50"/><circle cx="439.5" cy="81.0" r="2.50"/><circle cx="479.4" cy="54.9" r="2.50"/><circle cx="468.3" cy="65.0" r="2.50"/><circle cx="427.3" cy="102.2" r="2.50"/><circle cx="426.3" cy="99.1" r="2.50"/><circle cx="438.4" cy="92.8" r="2.50"/><circle cx="431.3" cy="86.6" r="2.50"/><circle cx="476.3" cy="59.3" r="2.50"/><circle cx="446.1" cy="73.5" r="2.50"/><circle cx="424.3" cy="93.6" r="2.50"/><circle cx="454.7" cy="77.2" r="2.50"/><circle cx="476.9" cy="49.9" r="2.50"/><circle cx="421.0" cy="90.9" r="2.50"/><circle cx="462.9" cy="63.9" r="2.50"/><circle cx="432.6" cy="85.5" r="2.50"/><circle cx="464.1" cy="71.0" r="2.50"/><circle cx="447.9" cy="74.8" r="2.50"/><circle cx="480.9" cy="51.2" r="2.50"/><circle cx="474.1" cy="59.9" r="2.50"/><circle cx="421.2" cy="89.3" r="2.50"/><circle cx="448.2" cy="87.9" r="2.50"/><circle cx="428.7" cy="89.1" r="2.50"/><circle cx="462.4" cy="69.4" r="2.50"/><circle cx="476.2" cy="51.1" r="2.50"/><circle cx="454.1" cy="73.2" r="2.50"/><circle cx="470.2" cy="55.1" r="2.50"/><circle cx="428.7" cy="92.3" r="2.50"/><circle cx="457.5" cy="77.6" r="2.50"/><circle cx="477.4" cy="60.2" r="2.50"/><circle cx="468.3" cy="67.6" r="2.50"/><circle cx="472.8" cy="50.7" r="2.50"/><circle cx="436.1" cy="86.7" r="2.50"/></g>
<g fill="none" stroke="#4a9450" stroke-width="0.95"><circle cx="364.6" cy="129.4" r="1.45"/><circle cx="373.5" cy="127.2" r="1.45"/><circle cx="362.8" cy="144.2" r="1.45"/><circle cx="375.1" cy="139.5" r="1.45"/><circle cx="374.2" cy="142.2" r="1.45"/><circle cx="368.5" cy="145.2" r="1.45"/><circle cx="366.5" cy="150.9" r="1.45"/><circle cx="353.5" cy="158.8" r="1.45"/><circle cx="368.8" cy="159.1" r="1.45"/><circle cx="331.2" cy="162.6" r="1.45"/><circle cx="339.2" cy="164.5" r="1.45"/><circle cx="348.2" cy="170.2" r="1.45"/><circle cx="375.1" cy="170.2" r="1.45"/><circle cx="338.5" cy="176.2" r="1.45"/><circle cx="321.5" cy="179.1" r="1.45"/><circle cx="348.2" cy="184.0" r="1.45"/><circle cx="356.5" cy="184.0" r="1.45"/><circle cx="315.4" cy="189.8" r="1.45"/><circle cx="371.8" cy="193.2" r="1.45"/><circle cx="366.5" cy="112.9" r="1.45"/><circle cx="366.5" cy="118.8" r="1.45"/><circle cx="373.5" cy="127.2" r="1.45"/><circle cx="409.7" cy="93.4" r="1.45"/><circle cx="415.1" cy="91.6" r="1.45"/><circle cx="419.8" cy="92.0" r="1.45"/><circle cx="424.5" cy="91.3" r="1.45"/><circle cx="406.3" cy="102.8" r="1.45"/><circle cx="429.2" cy="103.5" r="1.45"/><circle cx="433.3" cy="103.5" r="1.45"/><circle cx="420.5" cy="106.8" r="1.45"/><circle cx="423.8" cy="110.2" r="1.45"/><circle cx="426.5" cy="106.8" r="1.45"/><circle cx="431.9" cy="109.5" r="1.45"/><circle cx="430.6" cy="112.9" r="1.45"/><circle cx="433.3" cy="115.6" r="1.45"/><circle cx="433.3" cy="118.3" r="1.45"/><circle cx="426.5" cy="114.9" r="1.45"/><circle cx="411.7" cy="118.9" r="1.45"/><circle cx="405.0" cy="116.9" r="1.45"/><circle cx="398.3" cy="122.3" r="1.45"/><circle cx="403.0" cy="123.6" r="1.45"/><circle cx="408.4" cy="136.2" r="1.45"/><circle cx="394.2" cy="136.4" r="1.45"/><circle cx="394.6" cy="140.1" r="1.45"/><circle cx="387.2" cy="135.5" r="1.45"/><circle cx="380.8" cy="126.3" r="1.45"/><circle cx="379.4" cy="131.7" r="1.45"/><circle cx="382.1" cy="140.1" r="1.45"/><circle cx="388.8" cy="152.2" r="1.45"/><circle cx="396.2" cy="162.4" r="1.45"/><circle cx="412.8" cy="156.4" r="1.45"/><circle cx="420.8" cy="73.6" r="1.45"/><circle cx="397.9" cy="89.4" r="1.45"/><circle cx="409.9" cy="93.5" r="1.45"/><circle cx="415.2" cy="91.2" r="1.45"/><circle cx="426.7" cy="84.6" r="1.45"/><circle cx="431.5" cy="86.5" r="1.45"/><circle cx="437.8" cy="73.6" r="1.45"/><circle cx="431.3" cy="109.4" r="1.45"/><circle cx="432.7" cy="113.4" r="1.45"/><circle cx="433.4" cy="117.5" r="1.45"/><circle cx="439.4" cy="100.0" r="1.45"/><circle cx="442.8" cy="103.4" r="1.45"/><circle cx="448.2" cy="94.6" r="1.45"/><circle cx="453.6" cy="96.2" r="1.45"/><circle cx="454.2" cy="86.5" r="1.45"/><circle cx="461.6" cy="84.5" r="1.45"/><circle cx="470.4" cy="87.2" r="1.45"/><circle cx="432.0" cy="103.4" r="1.45"/><circle cx="491.9" cy="38.1" r="1.45"/><circle cx="477.1" cy="44.1" r="1.45"/><circle cx="480.5" cy="44.5" r="1.45"/><circle cx="483.8" cy="43.5" r="1.45"/><circle cx="487.2" cy="44.1" r="1.45"/><circle cx="477.8" cy="65.7" r="1.45"/><circle cx="448.0" cy="62.9" r="1.45"/><circle cx="451.5" cy="68.8" r="1.45"/><circle cx="431.4" cy="76.9" r="1.45"/><circle cx="425.8" cy="88.3" r="1.45"/><circle cx="480.9" cy="44.6" r="1.45"/><circle cx="431.8" cy="85.6" r="1.45"/><circle cx="447.3" cy="78.3" r="1.45"/><circle cx="452.2" cy="68.9" r="1.45"/><circle cx="481.9" cy="65.0" r="1.45"/><circle cx="437.9" cy="91.9" r="1.45"/><circle cx="472.5" cy="65.1" r="1.45"/><circle cx="476.4" cy="57.1" r="1.45"/><circle cx="480.8" cy="51.7" r="1.45"/><circle cx="425.4" cy="81.1" r="1.45"/><circle cx="454.7" cy="76.1" r="1.45"/><circle cx="431.8" cy="85.1" r="1.45"/><circle cx="427.2" cy="84.8" r="1.45"/><circle cx="433.2" cy="82.7" r="1.45"/><circle cx="438.9" cy="98.4" r="1.45"/><circle cx="433.1" cy="75.1" r="1.45"/><circle cx="426.2" cy="96.3" r="1.45"/><circle cx="433.2" cy="84.2" r="1.45"/><circle cx="425.6" cy="85.0" r="1.45"/><circle cx="443.0" cy="77.1" r="1.45"/><circle cx="479.5" cy="46.6" r="1.45"/><circle cx="465.8" cy="60.7" r="1.45"/><circle cx="432.2" cy="97.7" r="1.45"/><circle cx="422.4" cy="95.5" r="1.45"/><circle cx="435.9" cy="82.2" r="1.45"/><circle cx="457.0" cy="69.5" r="1.45"/><circle cx="430.9" cy="92.8" r="1.45"/><circle cx="455.5" cy="75.5" r="1.45"/><circle cx="480.8" cy="58.1" r="1.45"/><circle cx="421.1" cy="89.9" r="1.45"/><circle cx="463.5" cy="67.8" r="1.45"/><circle cx="449.9" cy="74.8" r="1.45"/><circle cx="439.8" cy="83.7" r="1.45"/><circle cx="465.7" cy="65.1" r="1.45"/><circle cx="465.7" cy="61.9" r="1.45"/><circle cx="441.8" cy="69.4" r="1.45"/><circle cx="475.9" cy="62.2" r="1.45"/><circle cx="473.5" cy="54.9" r="1.45"/><circle cx="458.7" cy="63.3" r="1.45"/><circle cx="425.0" cy="95.0" r="1.45"/><circle cx="481.6" cy="60.5" r="1.45"/><circle cx="465.6" cy="58.3" r="1.45"/><circle cx="447.3" cy="78.1" r="1.45"/><circle cx="421.8" cy="89.0" r="1.45"/><circle cx="449.8" cy="76.3" r="1.45"/><circle cx="458.1" cy="79.5" r="1.45"/><circle cx="435.9" cy="88.7" r="1.45"/><circle cx="476.2" cy="53.8" r="1.45"/><circle cx="440.3" cy="75.2" r="1.45"/><circle cx="432.3" cy="74.9" r="1.45"/><circle cx="474.6" cy="63.6" r="1.45"/><circle cx="456.2" cy="69.7" r="1.45"/><circle cx="471.9" cy="64.1" r="1.45"/><circle cx="433.3" cy="77.2" r="1.45"/><circle cx="439.6" cy="85.9" r="1.45"/><circle cx="463.9" cy="61.3" r="1.45"/><circle cx="459.0" cy="60.9" r="1.45"/><circle cx="470.1" cy="65.4" r="1.45"/><circle cx="420.7" cy="98.7" r="1.45"/><circle cx="464.3" cy="68.2" r="1.45"/><circle cx="463.2" cy="71.2" r="1.45"/><circle cx="458.1" cy="70.1" r="1.45"/><circle cx="477.8" cy="55.5" r="1.45"/><circle cx="458.8" cy="66.1" r="1.45"/><circle cx="443.4" cy="67.5" r="1.45"/><circle cx="478.5" cy="50.1" r="1.45"/><circle cx="460.4" cy="71.2" r="1.45"/><circle cx="459.8" cy="78.5" r="1.45"/><circle cx="433.2" cy="99.1" r="1.45"/><circle cx="453.3" cy="62.5" r="1.45"/><circle cx="439.9" cy="91.7" r="1.45"/><circle cx="425.1" cy="82.7" r="1.45"/><circle cx="469.6" cy="65.4" r="1.45"/><circle cx="452.0" cy="71.7" r="1.45"/><circle cx="478.6" cy="43.5" r="1.45"/><circle cx="478.8" cy="59.1" r="1.45"/><circle cx="438.0" cy="84.5" r="1.45"/><circle cx="459.6" cy="56.9" r="1.45"/><circle cx="439.3" cy="79.7" r="1.45"/><circle cx="472.4" cy="64.0" r="1.45"/><circle cx="480.0" cy="51.8" r="1.45"/><circle cx="455.5" cy="73.8" r="1.45"/><circle cx="480.1" cy="47.9" r="1.45"/><circle cx="454.9" cy="71.2" r="1.45"/><circle cx="462.8" cy="74.1" r="1.45"/><circle cx="479.3" cy="58.0" r="1.45"/><circle cx="436.7" cy="79.7" r="1.45"/><circle cx="470.6" cy="62.6" r="1.45"/><circle cx="449.5" cy="73.6" r="1.45"/><circle cx="462.6" cy="67.6" r="1.45"/><circle cx="442.0" cy="77.9" r="1.45"/><circle cx="427.6" cy="85.9" r="1.45"/><circle cx="435.5" cy="86.0" r="1.45"/><circle cx="443.3" cy="86.6" r="1.45"/><circle cx="452.8" cy="75.5" r="1.45"/><circle cx="459.6" cy="72.5" r="1.45"/><circle cx="465.9" cy="57.0" r="1.45"/><circle cx="476.0" cy="55.4" r="1.45"/><circle cx="433.5" cy="89.6" r="1.45"/><circle cx="475.0" cy="61.5" r="1.45"/></g>
<g fill="#2f7a3c"><circle cx="321.2" cy="126.0" r="1.60"/><circle cx="342.0" cy="138.0" r="1.60"/><circle cx="353.1" cy="140.6" r="1.60"/><circle cx="356.6" cy="137.1" r="1.60"/><circle cx="353.5" cy="139.5" r="1.60"/><circle cx="330.8" cy="143.2" r="1.60"/><circle cx="370.8" cy="139.1" r="1.60"/><circle cx="373.5" cy="141.4" r="1.60"/><circle cx="376.9" cy="138.3" r="1.60"/><circle cx="350.8" cy="149.4" r="1.60"/><circle cx="375.1" cy="152.5" r="1.60"/><circle cx="356.9" cy="152.2" r="1.60"/><circle cx="326.2" cy="156.2" r="1.60"/><circle cx="356.2" cy="160.6" r="1.60"/><circle cx="367.2" cy="158.3" r="1.60"/><circle cx="375.1" cy="158.0" r="1.60"/><circle cx="339.7" cy="165.2" r="1.60"/><circle cx="321.2" cy="205.4" r="1.60"/><circle cx="326.5" cy="205.5" r="1.60"/><circle cx="308.9" cy="210.3" r="1.60"/><circle cx="308.9" cy="222.5" r="1.60"/><circle cx="372.0" cy="116.0" r="1.60"/><circle cx="376.6" cy="124.6" r="1.60"/><circle cx="378.8" cy="126.5" r="1.60"/><circle cx="396.9" cy="96.1" r="1.60"/><circle cx="389.5" cy="98.3" r="1.60"/><circle cx="384.5" cy="101.8" r="1.60"/><circle cx="387.2" cy="105.5" r="1.60"/><circle cx="395.8" cy="105.1" r="1.60"/><circle cx="429.2" cy="91.3" r="1.60"/><circle cx="431.9" cy="94.0" r="1.60"/><circle cx="421.1" cy="95.4" r="1.60"/><circle cx="417.1" cy="98.1" r="1.60"/><circle cx="410.4" cy="99.4" r="1.60"/><circle cx="407.0" cy="103.5" r="1.60"/><circle cx="404.3" cy="106.8" r="1.60"/><circle cx="401.6" cy="110.2" r="1.60"/><circle cx="409.0" cy="102.8" r="1.60"/><circle cx="413.1" cy="103.5" r="1.60"/><circle cx="416.4" cy="100.8" r="1.60"/><circle cx="423.2" cy="100.8" r="1.60"/><circle cx="426.5" cy="102.1" r="1.60"/><circle cx="416.4" cy="115.6" r="1.60"/><circle cx="420.1" cy="116.2" r="1.60"/><circle cx="420.1" cy="120.3" r="1.60"/><circle cx="409.0" cy="114.2" r="1.60"/><circle cx="406.3" cy="112.2" r="1.60"/><circle cx="382.4" cy="115.6" r="1.60"/><circle cx="383.2" cy="118.3" r="1.60"/><circle cx="386.2" cy="114.2" r="1.60"/><circle cx="393.6" cy="113.6" r="1.60"/><circle cx="405.7" cy="121.6" r="1.60"/><circle cx="404.3" cy="126.3" r="1.60"/><circle cx="405.0" cy="129.7" r="1.60"/><circle cx="403.4" cy="134.1" r="1.60"/><circle cx="390.2" cy="123.6" r="1.60"/><circle cx="391.5" cy="126.3" r="1.60"/><circle cx="388.8" cy="122.3" r="1.60"/><circle cx="392.2" cy="129.7" r="1.60"/><circle cx="376.7" cy="124.3" r="1.60"/><circle cx="384.8" cy="123.0" r="1.60"/><circle cx="382.4" cy="130.4" r="1.60"/><circle cx="381.4" cy="151.2" r="1.60"/><circle cx="428.8" cy="77.9" r="1.60"/><circle cx="396.4" cy="96.6" r="1.60"/><circle cx="492.6" cy="39.2" r="1.60"/><circle cx="468.4" cy="50.9" r="1.60"/><circle cx="461.2" cy="52.9" r="1.60"/><circle cx="452.2" cy="62.3" r="1.60"/><circle cx="491.9" cy="53.6" r="1.60"/><circle cx="425.6" cy="92.6" r="1.60"/><circle cx="460.5" cy="65.6" r="1.60"/><circle cx="452.8" cy="70.8" r="1.60"/><circle cx="448.4" cy="70.3" r="1.60"/><circle cx="439.5" cy="81.0" r="1.60"/><circle cx="479.4" cy="54.9" r="1.60"/><circle cx="468.3" cy="65.0" r="1.60"/><circle cx="427.3" cy="102.2" r="1.60"/><circle cx="426.3" cy="99.1" r="1.60"/><circle cx="438.4" cy="92.8" r="1.60"/><circle cx="431.3" cy="86.6" r="1.60"/><circle cx="476.3" cy="59.3" r="1.60"/><circle cx="446.1" cy="73.5" r="1.60"/><circle cx="424.3" cy="93.6" r="1.60"/><circle cx="454.7" cy="77.2" r="1.60"/><circle cx="476.9" cy="49.9" r="1.60"/><circle cx="421.0" cy="90.9" r="1.60"/><circle cx="462.9" cy="63.9" r="1.60"/><circle cx="432.6" cy="85.5" r="1.60"/><circle cx="464.1" cy="71.0" r="1.60"/><circle cx="447.9" cy="74.8" r="1.60"/><circle cx="480.9" cy="51.2" r="1.60"/><circle cx="474.1" cy="59.9" r="1.60"/><circle cx="421.2" cy="89.3" r="1.60"/><circle cx="448.2" cy="87.9" r="1.60"/><circle cx="428.7" cy="89.1" r="1.60"/><circle cx="462.4" cy="69.4" r="1.60"/><circle cx="476.2" cy="51.1" r="1.60"/><circle cx="454.1" cy="73.2" r="1.60"/><circle cx="470.2" cy="55.1" r="1.60"/><circle cx="428.7" cy="92.3" r="1.60"/><circle cx="457.5" cy="77.6" r="1.60"/><circle cx="477.4" cy="60.2" r="1.60"/><circle cx="468.3" cy="67.6" r="1.60"/><circle cx="472.8" cy="50.7" r="1.60"/><circle cx="436.1" cy="86.7" r="1.60"/></g>
<line x1="301.2" y1="186" x2="506" y2="38.6" stroke="#222" stroke-width="1"/>
<line x1="301.2" y1="195.2" x2="506" y2="36.1" stroke="#222" stroke-width="1" stroke-dasharray="1.4,1.9"/>
<line x1="301.2" y1="190.8" x2="506" y2="43.9" stroke="#222" stroke-width="1" stroke-dasharray="1.4,1.9"/>
<rect x="301.2" y="30.6" width="205.2" height="198.8" fill="none" stroke="#111" stroke-width="1.2"/>
<line x1="318.1" y1="229.4" x2="318.1" y2="233.4" stroke="#111" stroke-width="1.1"/>
<text x="318.1" y="249.2" font-size="11.30" text-anchor="middle" >2</text>
<line x1="361.2" y1="229.4" x2="361.2" y2="233.4" stroke="#111" stroke-width="1.1"/>
<text x="361.2" y="249.2" font-size="11.30" text-anchor="middle" >3</text>
<line x1="404.2" y1="229.4" x2="404.2" y2="233.4" stroke="#111" stroke-width="1.1"/>
<text x="404.2" y="249.2" font-size="11.30" text-anchor="middle" >4</text>
<line x1="447.2" y1="229.4" x2="447.2" y2="233.4" stroke="#111" stroke-width="1.1"/>
<text x="447.2" y="249.2" font-size="11.30" text-anchor="middle" >5</text>
<line x1="490.3" y1="229.4" x2="490.3" y2="233.4" stroke="#111" stroke-width="1.1"/>
<text x="490.3" y="249.2" font-size="11.30" text-anchor="middle" >6</text>
<line x1="297.0" y1="213.4" x2="301.2" y2="213.4" stroke="#111" stroke-width="1.1"/>
<text x="291.6" y="217.3" font-size="11.30" text-anchor="end" >2</text>
<line x1="297.0" y1="171.5" x2="301.2" y2="171.5" stroke="#111" stroke-width="1.1"/>
<text x="291.6" y="175.4" font-size="11.30" text-anchor="end" >3</text>
<line x1="297.0" y1="129.6" x2="301.2" y2="129.6" stroke="#111" stroke-width="1.1"/>
<text x="291.6" y="133.5" font-size="11.30" text-anchor="end" >4</text>
<line x1="297.0" y1="87.7" x2="301.2" y2="87.7" stroke="#111" stroke-width="1.1"/>
<text x="291.6" y="91.6" font-size="11.30" text-anchor="end" >5</text>
<line x1="297.0" y1="45.8" x2="301.2" y2="45.8" stroke="#111" stroke-width="1.1"/>
<text x="291.6" y="49.7" font-size="11.30" text-anchor="end" >6</text>
<text x="403.2" y="268.4" font-size="14.20" text-anchor="middle" textLength="58.9" lengthAdjust="spacingAndGlyphs" stroke="#1a1a1a" stroke-width="0.4">Lag-1 log PLT</text>
<text transform="translate(276.6,130.0) rotate(-90)" x="0" y="0" font-size="14.20" text-anchor="middle" textLength="34.2" lengthAdjust="spacingAndGlyphs" stroke="#1a1a1a" stroke-width="0.4">Log PLT</text>
<text x="217.5" y="293.8" font-size="13.70" text-anchor="middle" textLength="85.4" lengthAdjust="spacingAndGlyphs" >Upper domain</text>
<rect x="56.5" y="302.0" width="334.0" height="2.30" fill="url(#h0)"/>
<rect x="56.5" y="304.0" width="334.0" height="2.30" fill="url(#h1)"/>
<rect x="56.5" y="306.0" width="334.0" height="2.30" fill="url(#h2)"/>
<rect x="56.5" y="308.0" width="334.0" height="2.30" fill="url(#h3)"/>
<rect x="56.5" y="310.0" width="334.0" height="2.30" fill="url(#h4)"/>
<rect x="56.5" y="312.0" width="334.0" height="2.30" fill="url(#h5)"/>
<rect x="56.5" y="314.0" width="334.0" height="2.30" fill="url(#h6)"/>
<rect x="56.5" y="316.0" width="334.0" height="2.30" fill="url(#h7)"/>
<rect x="56.5" y="318.0" width="334.0" height="2.30" fill="url(#h8)"/>
<rect x="56.5" y="320.0" width="334.0" height="2.30" fill="url(#h9)"/>
<rect x="56.5" y="322.0" width="334.0" height="2.30" fill="url(#h10)"/>
<rect x="56.5" y="324.0" width="334.0" height="2.30" fill="url(#h11)"/>
<rect x="56.5" y="326.0" width="334.0" height="2.30" fill="url(#h12)"/>
<rect x="56.5" y="328.0" width="334.0" height="2.30" fill="url(#h13)"/>
<rect x="56.5" y="330.0" width="334.0" height="2.30" fill="url(#h14)"/>
<rect x="56.5" y="332.0" width="334.0" height="2.30" fill="url(#h15)"/>
<rect x="56.5" y="334.0" width="334.0" height="2.30" fill="url(#h16)"/>
<rect x="56.5" y="336.0" width="334.0" height="2.30" fill="url(#h17)"/>
<rect x="56.5" y="338.0" width="334.0" height="2.30" fill="url(#h18)"/>
<rect x="56.5" y="340.0" width="334.0" height="2.30" fill="url(#h19)"/>
<rect x="56.5" y="342.0" width="334.0" height="2.30" fill="url(#h20)"/>
<rect x="56.5" y="344.0" width="334.0" height="2.30" fill="url(#h21)"/>
<rect x="56.5" y="346.0" width="334.0" height="2.30" fill="url(#h22)"/>
<rect x="56.5" y="348.0" width="334.0" height="2.30" fill="url(#h23)"/>
<rect x="56.5" y="350.0" width="334.0" height="2.30" fill="url(#h24)"/>
<rect x="56.5" y="352.0" width="334.0" height="2.30" fill="url(#h25)"/>
<rect x="56.5" y="354.0" width="334.0" height="2.30" fill="url(#h26)"/>
<rect x="56.5" y="356.0" width="334.0" height="2.30" fill="url(#h27)"/>
<rect x="56.5" y="358.0" width="334.0" height="2.30" fill="url(#h28)"/>
<rect x="56.5" y="360.0" width="334.0" height="2.30" fill="url(#h29)"/>
<rect x="56.5" y="362.0" width="334.0" height="2.30" fill="url(#h30)"/>
<rect x="56.5" y="364.0" width="334.0" height="2.30" fill="url(#h31)"/>
<rect x="56.5" y="366.0" width="334.0" height="2.30" fill="url(#h32)"/>
<rect x="56.5" y="368.0" width="334.0" height="2.30" fill="url(#h33)"/>
<rect x="56.5" y="370.0" width="334.0" height="2.30" fill="url(#h34)"/>
<rect x="56.5" y="372.0" width="334.0" height="2.30" fill="url(#h35)"/>
<rect x="56.5" y="374.0" width="334.0" height="2.30" fill="url(#h36)"/>
<rect x="56.5" y="376.0" width="334.0" height="2.30" fill="url(#h37)"/>
<rect x="56.5" y="378.0" width="334.0" height="2.30" fill="url(#h38)"/>
<rect x="56.5" y="380.0" width="334.0" height="2.30" fill="url(#h39)"/>
<rect x="56.5" y="382.0" width="334.0" height="2.30" fill="url(#h40)"/>
<rect x="56.5" y="384.0" width="334.0" height="2.30" fill="url(#h41)"/>
<rect x="56.5" y="386.0" width="334.0" height="2.30" fill="url(#h42)"/>
<rect x="56.5" y="388.0" width="334.0" height="2.30" fill="url(#h43)"/>
<rect x="56.5" y="390.0" width="334.0" height="2.30" fill="url(#h44)"/>
<rect x="56.5" y="392.0" width="334.0" height="2.30" fill="url(#h45)"/>
<rect x="56.5" y="394.0" width="334.0" height="2.30" fill="url(#h46)"/>
<rect x="56.5" y="396.0" width="334.0" height="2.30" fill="url(#h47)"/>
<rect x="56.5" y="398.0" width="334.0" height="2.30" fill="url(#h48)"/>
<rect x="56.5" y="400.0" width="334.0" height="2.30" fill="url(#h49)"/>
<rect x="56.5" y="402.0" width="334.0" height="2.30" fill="url(#h50)"/>
<rect x="56.5" y="404.0" width="334.0" height="2.30" fill="url(#h51)"/>
<rect x="56.5" y="406.0" width="334.0" height="2.30" fill="url(#h52)"/>
<rect x="56.5" y="408.0" width="334.0" height="2.30" fill="url(#h53)"/>
<rect x="56.5" y="410.0" width="334.0" height="2.30" fill="url(#h54)"/>
<rect x="56.5" y="412.0" width="334.0" height="2.30" fill="url(#h55)"/>
<rect x="56.5" y="414.0" width="334.0" height="2.30" fill="url(#h56)"/>
<rect x="56.5" y="416.0" width="334.0" height="2.30" fill="url(#h57)"/>
<rect x="56.5" y="418.0" width="334.0" height="2.30" fill="url(#h58)"/>
<rect x="56.5" y="420.0" width="334.0" height="2.30" fill="url(#h59)"/>
<rect x="56.5" y="422.0" width="334.0" height="2.30" fill="url(#h60)"/>
<rect x="56.5" y="424.0" width="334.0" height="2.30" fill="url(#h61)"/>
<rect x="56.5" y="426.0" width="334.0" height="2.30" fill="url(#h62)"/>
<rect x="56.5" y="428.0" width="334.0" height="2.30" fill="url(#h63)"/>
<rect x="56.5" y="430.0" width="334.0" height="2.30" fill="url(#h64)"/>
<rect x="56.5" y="432.0" width="334.0" height="2.30" fill="url(#h65)"/>
<rect x="56.5" y="434.0" width="334.0" height="2.30" fill="url(#h66)"/>
<rect x="56.5" y="436.0" width="334.0" height="2.30" fill="url(#h67)"/>
<rect x="56.5" y="438.0" width="334.0" height="2.30" fill="url(#h68)"/>
<rect x="56.5" y="440.0" width="334.0" height="2.30" fill="url(#h69)"/>
<rect x="56.5" y="442.0" width="334.0" height="2.30" fill="url(#h70)"/>
<rect x="56.5" y="444.0" width="334.0" height="2.30" fill="url(#h71)"/>
<rect x="56.5" y="446.0" width="334.0" height="2.30" fill="url(#h72)"/>
<rect x="56.5" y="448.0" width="334.0" height="2.30" fill="url(#h73)"/>
<rect x="56.5" y="450.0" width="334.0" height="2.30" fill="url(#h74)"/>
<rect x="56.5" y="452.0" width="334.0" height="2.30" fill="url(#h75)"/>
<rect x="56.5" y="454.0" width="334.0" height="2.30" fill="url(#h76)"/>
<rect x="56.5" y="456.0" width="334.0" height="2.30" fill="url(#h77)"/>
<rect x="56.5" y="458.0" width="334.0" height="2.30" fill="url(#h78)"/>
<rect x="56.5" y="460.0" width="334.0" height="2.30" fill="url(#h79)"/>
<rect x="56.5" y="462.0" width="334.0" height="2.30" fill="url(#h80)"/>
<rect x="56.5" y="464.0" width="334.0" height="2.30" fill="url(#h81)"/>
<rect x="56.5" y="466.0" width="334.0" height="2.30" fill="url(#h82)"/>
<rect x="56.5" y="468.0" width="334.0" height="2.30" fill="url(#h83)"/>
<rect x="56.5" y="470.0" width="334.0" height="2.30" fill="url(#h84)"/>
<rect x="56.5" y="472.0" width="334.0" height="2.30" fill="url(#h85)"/>
<rect x="56.5" y="474.0" width="334.0" height="2.30" fill="url(#h86)"/>
<rect x="56.5" y="476.0" width="334.0" height="2.30" fill="url(#h87)"/>
<rect x="56.5" y="478.0" width="334.0" height="2.30" fill="url(#h88)"/>
<rect x="56.5" y="480.0" width="334.0" height="2.30" fill="url(#h89)"/>
<rect x="56.5" y="482.0" width="334.0" height="2.30" fill="url(#h90)"/>
<rect x="56.5" y="484.0" width="334.0" height="2.30" fill="url(#h91)"/>
<rect x="56.5" y="486.0" width="334.0" height="2.30" fill="url(#h92)"/>
<rect x="56.5" y="488.0" width="334.0" height="2.30" fill="url(#h93)"/>
<rect x="56.5" y="490.0" width="334.0" height="2.30" fill="url(#h94)"/>
<rect x="56.5" y="492.0" width="334.0" height="2.30" fill="url(#h95)"/>
<rect x="56.5" y="494.0" width="334.0" height="2.30" fill="url(#h96)"/>
<rect x="56.5" y="496.0" width="334.0" height="2.30" fill="url(#h97)"/>
<rect x="56.5" y="498.0" width="334.0" height="2.30" fill="url(#h98)"/>
<rect x="56.5" y="500.0" width="334.0" height="2.30" fill="url(#h99)"/>
<rect x="56.5" y="502.0" width="334.0" height="2.30" fill="url(#h100)"/>
<rect x="56.5" y="504.0" width="334.0" height="2.30" fill="url(#h101)"/>
<rect x="56.5" y="506.0" width="334.0" height="2.30" fill="url(#h102)"/>
<rect x="56.5" y="508.0" width="334.0" height="2.30" fill="url(#h103)"/>
<rect x="56.5" y="510.0" width="334.0" height="2.30" fill="url(#h104)"/>
<rect x="56.5" y="512.0" width="334.0" height="2.30" fill="url(#h105)"/>
<rect x="56.5" y="514.0" width="334.0" height="2.30" fill="url(#h106)"/>
<rect x="56.5" y="516.0" width="334.0" height="2.30" fill="url(#h107)"/>
<rect x="56.5" y="518.0" width="334.0" height="2.30" fill="url(#h108)"/>
<rect x="56.5" y="520.0" width="334.0" height="2.30" fill="url(#h109)"/>
<rect x="56.5" y="522.0" width="334.0" height="2.30" fill="url(#h110)"/>
<rect x="56.5" y="524.0" width="334.0" height="2.30" fill="url(#h111)"/>
<rect x="56.5" y="526.0" width="334.0" height="2.30" fill="url(#h112)"/>
<rect x="56.5" y="528.0" width="334.0" height="2.30" fill="url(#h113)"/>
<rect x="56.5" y="530.0" width="334.0" height="2.30" fill="url(#h114)"/>
<rect x="56.5" y="532.0" width="334.0" height="2.30" fill="url(#h115)"/>
<rect x="56.5" y="534.0" width="334.0" height="2.30" fill="url(#h116)"/>
<rect x="56.5" y="536.0" width="334.0" height="2.30" fill="url(#h117)"/>
<rect x="56.5" y="538.0" width="334.0" height="2.30" fill="url(#h118)"/>
<rect x="56.5" y="540.0" width="334.0" height="2.30" fill="url(#h119)"/>
<rect x="56.5" y="542.0" width="334.0" height="2.30" fill="url(#h120)"/>
<rect x="56.5" y="544.0" width="334.0" height="2.30" fill="url(#h121)"/>
<rect x="56.5" y="546.0" width="334.0" height="2.30" fill="url(#h122)"/>
<rect x="56.5" y="548.0" width="334.0" height="2.30" fill="url(#h123)"/>
<rect x="56.5" y="550.0" width="334.0" height="2.30" fill="url(#h124)"/>
<rect x="56.5" y="552.0" width="334.0" height="2.30" fill="url(#h125)"/>
<rect x="56.5" y="554.0" width="334.0" height="2.30" fill="url(#h126)"/>
<rect x="56.5" y="556.0" width="334.0" height="2.30" fill="url(#h127)"/>
<rect x="56.5" y="558.0" width="334.0" height="2.30" fill="url(#h128)"/>
<rect x="56.5" y="560.0" width="334.0" height="2.30" fill="url(#h129)"/>
<rect x="56.5" y="562.0" width="334.0" height="2.30" fill="url(#h130)"/>
<rect x="56.5" y="564.0" width="334.0" height="2.30" fill="url(#h131)"/>
<rect x="56.5" y="566.0" width="334.0" height="2.30" fill="url(#h132)"/>
<rect x="56.5" y="568.0" width="334.0" height="2.30" fill="url(#h133)"/>
<rect x="56.5" y="570.0" width="334.0" height="2.30" fill="url(#h134)"/>
<rect x="56.5" y="572.0" width="334.0" height="2.30" fill="url(#h135)"/>
<rect x="56.5" y="574.0" width="334.0" height="2.30" fill="url(#h136)"/>
<rect x="56.5" y="576.0" width="334.0" height="2.30" fill="url(#h137)"/>
<rect x="56.5" y="578.0" width="334.0" height="2.30" fill="url(#h138)"/>
<rect x="56.5" y="580.0" width="334.0" height="2.30" fill="url(#h139)"/>
<rect x="56.5" y="582.0" width="334.0" height="2.30" fill="url(#h140)"/>
<rect x="56.5" y="584.0" width="334.0" height="2.30" fill="url(#h141)"/>
<rect x="56.5" y="586.0" width="334.0" height="2.30" fill="url(#h142)"/>
<rect x="56.5" y="588.0" width="334.0" height="2.30" fill="url(#h143)"/>
<rect x="56.5" y="590.0" width="334.0" height="2.30" fill="url(#h144)"/>
<rect x="56.5" y="592.0" width="334.0" height="2.30" fill="url(#h145)"/>
<rect x="56.5" y="594.0" width="334.0" height="2.30" fill="url(#h146)"/>
<rect x="56.5" y="596.0" width="334.0" height="2.30" fill="url(#h147)"/>
<rect x="56.5" y="598.0" width="334.0" height="2.30" fill="url(#h148)"/>
<rect x="56.5" y="600.0" width="334.0" height="2.30" fill="url(#h149)"/>
<rect x="56.5" y="602.0" width="334.0" height="2.30" fill="url(#h150)"/>
<rect x="56.5" y="604.0" width="334.0" height="2.30" fill="url(#h151)"/>
<rect x="56.5" y="606.0" width="334.0" height="2.30" fill="url(#h152)"/>
<rect x="56.5" y="608.0" width="334.0" height="2.30" fill="url(#h153)"/>
<rect x="56.5" y="610.0" width="334.0" height="2.30" fill="url(#h154)"/>
<rect x="56.5" y="612.0" width="334.0" height="2.30" fill="url(#h155)"/>
<rect x="56.5" y="614.0" width="334.0" height="2.30" fill="url(#h156)"/>
<rect x="56.5" y="616.0" width="334.0" height="2.30" fill="url(#h157)"/>
<rect x="56.5" y="618.0" width="334.0" height="2.30" fill="url(#h158)"/>
<rect x="56.5" y="620.0" width="334.0" height="2.30" fill="url(#h159)"/>
<rect x="56.5" y="622.0" width="334.0" height="2.30" fill="url(#h160)"/>
<rect x="56.5" y="624.0" width="334.0" height="2.30" fill="url(#h161)"/>
<rect x="56.5" y="626.0" width="334.0" height="2.30" fill="url(#h162)"/>
<rect x="56.5" y="628.0" width="334.0" height="2.30" fill="url(#h163)"/>
<rect x="56.5" y="630.0" width="334.0" height="2.30" fill="url(#h164)"/>
<rect x="56.5" y="632.0" width="334.0" height="2.30" fill="url(#h165)"/>
<rect x="56.5" y="634.0" width="334.0" height="2.30" fill="url(#h166)"/>
<rect x="56.5" y="636.0" width="334.0" height="2.30" fill="url(#h167)"/>
<rect x="56.5" y="638.0" width="334.0" height="2.30" fill="url(#h168)"/>
<rect x="56.5" y="640.0" width="334.0" height="2.30" fill="url(#h169)"/>
<rect x="56.5" y="642.0" width="334.0" height="2.30" fill="url(#h170)"/>
<rect x="56.5" y="644.0" width="334.0" height="2.30" fill="url(#h171)"/>
<rect x="56.5" y="646.0" width="334.0" height="2.30" fill="url(#h172)"/>
<rect x="56.5" y="648.0" width="334.0" height="2.30" fill="url(#h173)"/>
<rect x="56.5" y="650.0" width="334.0" height="2.30" fill="url(#h174)"/>
<rect x="56.5" y="652.0" width="334.0" height="2.30" fill="url(#h175)"/>
<rect x="56.5" y="654.0" width="334.0" height="2.30" fill="url(#h176)"/>
<rect x="56.5" y="656.0" width="334.0" height="2.30" fill="url(#h177)"/>
<rect x="56.5" y="658.0" width="334.0" height="2.30" fill="url(#h178)"/>
<rect x="56.5" y="660.0" width="334.0" height="2.30" fill="url(#h179)"/>
<defs><filter id="sb" x="-50%" y="-200%" width="200%" height="500%"><feGaussianBlur stdDeviation="1.2 0.8"/></filter></defs>
<defs><clipPath id="hc"><rect x="57.2" y="302" width="333.3" height="360"/></clipPath></defs>
<g clip-path="url(#hc)"><g filter="url(#sb)"><ellipse cx="78" cy="546.5" rx="30" ry="3.2" fill="#e05a38" fill-opacity="0.75"/><ellipse cx="66" cy="597.5" rx="13" ry="2.3" fill="#dc4a30" fill-opacity="0.85"/><ellipse cx="66" cy="446" rx="12" ry="2.5" fill="#c41418" fill-opacity="0.7"/><ellipse cx="64" cy="456" rx="10" ry="2" fill="#c01418" fill-opacity="0.6"/><ellipse cx="100" cy="525" rx="25" ry="3" fill="#ea7a40" fill-opacity="0.5"/></g></g>
<line x1="102" y1="510.6" x2="125" y2="510.6" stroke="#8f7f98" stroke-width="1.6" stroke-opacity="0.75" stroke-linecap="round"/>
<g fill="none" stroke="#9a9aa4" stroke-opacity="0.6" stroke-width="0.85"><path d="M56.5,539.5 C80,538 100,538.5 109,542 C114,545 113,551 104,553.5 C90,556 70,556 56.5,555.5"/><path d="M56.5,593.5 C66,593 76,594 79,597 C76,600.5 66,601 56.5,600.5"/><path d="M56.5,469.5 L75,469.8"/><path d="M112.7,302.0 L114.2,304.6 L115.7,307.2 L117.1,309.8 L118.6,312.4 L119.7,315.0 L120.8,317.3 L120.7,319.7 L122.2,322.0 L123.7,324.3 L124.2,326.7 L125.5,329.0 L124.7,331.6 L125.3,334.3 L125.2,336.9 L125.8,339.5 L126.0,342.2 L125.5,344.8 L125.9,347.5 L126.2,350.1 L127.1,352.7 L127.1,355.4 L126.6,358.0 L127.2,360.8 L126.3,363.5 L126.8,366.2 L126.1,369.0 L125.8,371.8 L126.7,374.5 L125.8,377.2 L125.7,380.0 L125.9,382.4 L125.0,384.9 L123.6,387.3 L123.7,389.7 L122.5,392.1 L121.9,394.6 L120.6,397.0 L119.9,399.0 L118.1,401.0 L116.8,403.0 L115.1,405.0 L112.8,407.0 L111.3,409.0 L108.7,410.2 L106.3,411.5 L103.9,412.8 L101.8,414.0 L99.7,415.2 L96.7,416.5 L95.1,417.8 L92.3,419.0 L89.8,419.3 L87.9,419.6 L85.0,419.8 L82.3,420.1 L80.0,420.4 L77.7,420.7 L74.5,420.9 L73.1,421.2 L69.4,421.5 L67.5,421.6 L64.8,421.7 L61.0,421.8 L59.1,421.9 L56.0,422.0"/><path d="M165.0,302.0 L164.8,304.5 L165.0,307.1 L164.3,309.6 L164.3,312.1 L164.5,314.7 L165.3,317.2 L164.4,319.7 L165.0,322.3 L165.2,324.8 L165.2,327.3 L164.4,329.9 L164.4,332.4 L164.6,334.9 L164.9,337.5 L164.0,340.0 L164.6,342.5 L164.5,345.0 L164.4,347.5 L163.2,350.0 L164.1,352.5 L162.9,355.0 L163.0,357.5 L163.1,360.0 L163.3,362.7 L162.3,365.4 L162.8,368.1 L162.1,370.8 L161.5,373.5 L161.3,376.2 L160.9,378.9 L160.5,381.6 L160.3,384.3 L160.7,387.0 L160.5,389.8 L158.9,392.7 L158.2,395.5 L158.8,398.3 L157.6,401.2 L156.9,404.0 L155.7,406.4 L155.1,408.9 L154.4,411.3 L152.9,413.7 L151.9,416.1 L150.5,418.6 L150.5,421.0 L148.4,423.3 L147.8,425.7 L147.2,428.0 L145.2,430.3 L144.9,432.7 L144.0,435.0 L141.3,437.0 L139.1,439.0 L135.9,441.0 L133.9,443.0 L131.4,444.6 L130.0,446.2 L127.2,447.8 L125.1,449.4 L123.6,451.0 L122.8,453.5 L122.2,456.0 L120.9,458.5 L120.3,461.0 L119.9,463.5 L119.0,466.0 L117.5,468.2 L116.4,470.3 L114.8,472.5 L113.9,474.7 L113.3,476.8 L112.1,479.0 L109.2,479.6 L106.6,480.2 L104.0,480.9 L101.3,481.5 L99.0,482.1 L97.2,482.8 L94.9,483.4 L91.8,484.0 L89.8,484.1 L87.2,484.1 L84.5,484.2 L81.9,484.3 L79.5,484.4 L76.4,484.4 L74.2,484.5 L71.2,484.6 L68.8,484.6 L66.6,484.7 L63.9,484.8 L60.9,484.9 L59.1,484.9 L56.0,485.0"/><path d="M195.0,302.0 L195.0,304.5 L194.8,307.1 L194.0,309.6 L194.5,312.1 L194.0,314.7 L194.4,317.2 L194.0,319.7 L194.3,322.3 L194.0,324.8 L194.0,327.3 L193.4,329.9 L193.6,332.4 L193.6,334.9 L193.5,337.5 L192.8,340.0 L192.9,342.5 L192.5,345.0 L191.8,347.5 L191.7,350.0 L191.2,352.5 L190.2,355.0 L189.7,357.5 L188.8,360.0 L189.1,362.7 L188.6,365.4 L187.6,368.1 L187.3,370.8 L186.8,373.5 L186.0,376.2 L184.6,379.0 L184.6,381.8 L183.6,384.5 L182.9,387.2 L181.9,390.0 L181.6,392.5 L181.3,395.0 L180.7,397.5 L180.3,400.0 L178.9,402.8 L178.6,405.5 L178.4,408.2 L178.2,411.0 L177.2,413.8 L177.2,416.5 L176.4,419.2 L174.9,421.9 L174.6,424.6 L173.5,427.3 L172.5,430.0 L171.0,432.4 L169.6,434.8 L167.8,437.2 L166.2,439.6 L164.4,442.0 L164.2,444.6 L163.4,447.1 L163.0,449.7 L162.3,452.3 L161.1,454.9 L161.2,457.4 L159.4,460.0 L158.7,462.4 L157.4,464.9 L156.5,467.3 L155.0,469.7 L154.7,472.1 L153.0,474.6 L151.4,477.0 L149.7,478.6 L146.7,480.2 L144.9,481.8 L142.2,483.4 L140.1,485.0 L138.0,485.5 L135.3,486.1 L132.3,486.6 L130.2,487.2 L127.4,487.7 L124.6,488.3 L121.8,488.8 L119.8,489.4 L117.2,489.9 L115.1,490.5 L112.6,491.0 L109.6,491.2 L106.8,491.4 L104.9,491.6 L101.3,491.8 L98.9,492.1 L96.9,492.3 L94.5,492.5 L91.4,492.7 L89.4,492.9 L87.2,493.1 L84.1,493.3 L81.6,493.5 L78.8,493.7 L76.4,493.9 L74.7,494.2 L71.4,494.4 L69.6,494.6 L67.0,494.8 L64.1,495.0 L61.0,495.2 L59.2,495.3 L56.0,495.5"/><path d="M218.0,302.0 L217.9,304.6 L217.7,307.2 L217.5,309.8 L218.2,312.4 L217.5,315.0 L217.1,317.6 L217.3,320.2 L216.7,322.8 L217.2,325.4 L216.9,328.0 L216.7,330.6 L217.1,333.2 L217.1,335.8 L216.0,338.4 L216.5,341.0 L216.1,343.6 L216.8,346.2 L216.5,348.8 L215.8,351.4 L215.7,354.0 L214.9,356.7 L215.3,359.3 L213.8,362.0 L213.5,364.7 L212.6,367.3 L212.2,370.0 L211.7,372.5 L211.5,375.0 L210.3,377.5 L210.6,380.0 L209.7,382.5 L209.5,385.0 L208.9,387.5 L208.4,390.0 L208.3,392.5 L207.8,395.0 L207.2,397.5 L207.3,400.0 L205.7,402.4 L203.6,404.8 L202.5,407.2 L201.3,409.6 L200.5,412.0 L199.5,414.5 L198.1,417.0 L196.4,419.5 L196.3,422.0 L195.2,424.7 L194.8,427.3 L194.2,430.0 L193.5,432.7 L192.6,435.3 L192.5,438.0 L191.0,440.4 L190.1,442.8 L189.8,445.1 L188.1,447.5 L187.4,449.9 L187.1,452.2 L185.4,454.6 L185.4,457.0 L184.1,459.5 L182.6,462.0 L181.2,464.5 L180.7,467.0 L179.7,469.5 L177.6,472.0 L176.2,474.5 L174.6,477.0 L172.7,479.5 L170.8,482.0 L169.9,484.7 L169.8,487.3 L169.4,490.0 L167.8,492.7 L167.3,495.3 L167.4,498.0 L166.6,500.5 L165.7,503.0 L164.2,505.5 L164.3,508.0 L163.8,510.5 L163.1,513.0 L162.0,515.5 L160.5,518.0 L159.2,520.0 L156.3,522.0 L154.6,524.0 L152.7,526.0 L150.3,528.0 L148.1,530.5 L146.8,533.0 L146.0,535.5 L143.6,538.0 L143.3,540.4 L142.2,542.9 L141.0,545.3 L140.7,547.7 L139.2,550.1 L138.4,552.6 L137.9,555.0 L137.0,557.5 L136.5,560.0 L136.6,562.5 L136.3,565.0 L136.0,567.5 L134.6,570.0 L133.7,572.4 L132.4,574.8 L131.5,577.2 L130.2,579.6 L129.5,582.0 L127.2,584.3 L125.1,586.7 L124.2,589.0 L121.9,591.3 L120.8,593.7 L119.0,596.0 L117.3,598.0 L114.7,600.0 L112.5,602.0 L109.9,604.0 L108.1,606.0 L105.0,606.9 L102.9,607.7 L99.9,608.6 L96.7,609.4 L94.1,610.3 L91.6,611.1 L89.3,612.0 L86.1,612.4 L84.2,612.8 L81.6,613.2 L78.3,613.5 L76.5,613.9 L73.3,614.3 L70.8,614.7 L68.8,615.1 L65.8,615.5 L64.1,615.8 L61.1,616.2 L58.3,616.6 L56.0,617.0"/><path d="M243.5,302.0 L243.8,304.6 L242.9,307.2 L243.7,309.8 L242.9,312.4 L243.0,315.0 L243.9,317.6 L243.5,320.2 L243.0,322.8 L242.8,325.4 L243.8,328.0 L243.4,330.6 L243.6,333.2 L242.7,335.8 L243.3,338.4 L243.0,341.0 L242.8,343.6 L242.9,346.2 L243.2,348.8 L242.8,351.4 L242.9,354.0 L242.3,356.6 L242.8,359.1 L242.3,361.7 L242.2,364.3 L241.5,366.9 L241.7,369.4 L241.0,372.0 L240.8,374.6 L240.5,377.1 L240.4,379.7 L239.7,382.3 L239.1,384.9 L238.7,387.4 L238.6,390.0 L237.4,393.0 L237.5,396.0 L236.0,399.0 L235.3,401.6 L233.4,404.1 L233.0,406.7 L232.5,409.2 L231.1,411.8 L229.9,414.3 L229.0,416.9 L227.5,419.4 L226.6,422.0 L225.6,424.7 L224.8,427.3 L223.9,430.0 L223.5,432.7 L221.6,435.3 L220.7,438.0 L219.2,440.0 L217.6,442.0 L216.2,444.0 L214.7,446.0 L214.1,448.5 L212.8,451.0 L213.0,453.5 L211.5,456.0 L211.4,458.5 L210.2,461.0 L209.5,463.7 L208.5,466.4 L208.4,469.1 L206.7,471.9 L206.6,474.6 L205.5,477.3 L205.2,480.0 L204.0,482.5 L202.1,485.0 L200.9,487.5 L199.4,490.0 L198.8,492.4 L197.8,494.9 L197.3,497.3 L197.1,499.7 L195.6,502.1 L194.6,504.6 L194.0,507.0 L192.7,509.4 L192.3,511.8 L191.3,514.1 L189.6,516.5 L188.7,518.9 L188.2,521.2 L187.5,523.6 L186.2,526.0 L185.1,528.8 L185.0,531.6 L183.0,534.4 L182.3,537.2 L182.3,540.0 L180.5,542.4 L178.7,544.8 L177.9,547.2 L177.0,549.6 L175.0,552.0 L173.1,554.5 L171.0,557.0 L169.2,559.5 L168.5,562.0 L167.5,564.8 L167.5,567.7 L166.0,570.5 L165.7,573.3 L165.0,576.2 L164.9,579.0 L163.8,581.7 L163.3,584.4 L162.7,587.1 L161.9,589.9 L160.9,592.6 L160.2,595.3 L160.6,598.0 L158.6,600.7 L158.0,603.3 L156.9,606.0 L156.0,608.7 L154.5,611.3 L153.8,614.0 L152.2,617.0 L151.4,620.0 L150.5,623.0 L148.1,624.7 L146.4,626.3 L143.7,628.0 L142.6,630.7 L142.4,633.3 L141.5,636.0 L140.8,638.7 L139.7,641.3 L139.2,644.0 L139.0,646.7 L138.9,649.4 L137.9,652.1 L137.8,654.9 L138.0,657.6 L137.0,660.3 L137.0,663.0"/><path d="M276.0,302.0 L275.3,304.6 L275.4,307.1 L274.9,309.7 L275.5,312.3 L275.4,314.8 L274.6,317.4 L274.2,320.0 L273.9,322.5 L273.9,325.1 L273.5,327.7 L273.8,330.2 L273.7,332.8 L273.2,335.3 L272.7,337.9 L273.3,340.5 L272.3,343.0 L272.3,345.6 L272.2,348.2 L272.1,350.7 L271.6,353.3 L271.8,355.9 L271.5,358.4 L271.8,361.0 L271.1,363.7 L271.0,366.4 L270.2,369.1 L269.8,371.9 L269.1,374.6 L268.4,377.3 L268.4,380.0 L267.5,382.7 L267.3,385.4 L266.3,388.1 L265.7,390.9 L264.5,393.6 L264.5,396.3 L263.4,399.0 L261.7,401.3 L260.3,403.6 L259.0,405.9 L257.8,408.1 L256.9,410.4 L255.1,412.7 L253.5,415.0 L252.6,417.3 L250.7,419.7 L248.4,422.0 L247.8,424.6 L247.3,427.2 L247.0,429.9 L246.9,432.5 L246.4,435.1 L245.4,437.8 L244.3,440.4 L243.9,443.0 L243.0,445.6 L242.2,448.1 L241.1,450.7 L241.0,453.3 L240.5,455.9 L239.6,458.4 L238.0,461.0 L237.7,463.4 L236.4,465.8 L236.1,468.1 L234.9,470.5 L234.7,472.9 L233.6,475.2 L231.9,477.6 L231.3,480.0 L231.2,482.6 L229.9,485.1 L229.1,487.7 L228.4,490.2 L228.0,492.8 L227.4,495.3 L226.2,497.9 L225.9,500.4 L224.7,503.0 L223.1,505.6 L222.8,508.1 L221.3,510.7 L219.8,513.2 L219.8,515.8 L217.6,518.3 L217.2,520.9 L216.0,523.4 L215.5,526.0 L213.9,528.8 L212.7,531.6 L211.7,534.4 L210.6,537.2 L210.1,540.0 L209.0,542.5 L208.6,545.0 L207.1,547.5 L206.3,550.0 L205.3,552.5 L205.3,555.0 L204.3,557.5 L203.4,560.0 L202.4,562.7 L201.5,565.4 L200.4,568.1 L200.5,570.9 L199.4,573.6 L198.2,576.3 L197.6,579.0 L196.6,581.6 L196.5,584.1 L195.8,586.7 L194.1,589.2 L193.9,591.8 L192.5,594.3 L192.0,596.9 L191.3,599.4 L190.1,602.0 L189.6,604.7 L188.3,607.4 L187.1,610.1 L186.9,612.9 L186.2,615.6 L185.0,618.3 L184.5,621.0 L182.9,623.3 L181.2,625.7 L180.1,628.0 L178.7,630.3 L177.4,632.7 L176.2,635.0 L174.6,637.8 L174.1,640.5 L172.6,643.2 L171.5,646.0 L171.2,648.8 L171.2,651.7 L171.0,654.5 L171.4,657.3 L170.8,660.2 L171.0,663.0"/><path d="M294.0,302.0 L294.0,304.6 L294.0,307.1 L293.7,309.7 L293.3,312.3 L292.9,314.8 L292.9,317.4 L293.1,320.0 L293.2,322.5 L293.3,325.1 L293.2,327.7 L292.6,330.2 L293.2,332.8 L292.3,335.3 L292.7,337.9 L291.9,340.5 L292.6,343.0 L292.4,345.6 L292.6,348.2 L292.4,350.7 L292.1,353.3 L292.1,355.9 L291.9,358.4 L291.6,361.0 L290.9,363.7 L291.1,366.4 L291.3,369.1 L290.3,371.9 L291.0,374.6 L290.3,377.3 L289.9,380.0 L289.0,382.7 L289.2,385.4 L288.5,388.1 L288.8,390.9 L288.7,393.6 L288.3,396.3 L287.6,399.0 L286.7,401.7 L285.7,404.4 L285.7,407.1 L284.8,409.9 L284.3,412.6 L283.2,415.3 L283.2,418.0 L281.4,420.5 L280.5,423.0 L279.5,425.5 L279.0,428.0 L278.4,430.5 L276.5,433.0 L276.1,435.5 L275.3,438.0 L273.8,440.7 L272.8,443.4 L272.5,446.1 L272.0,448.9 L271.2,451.6 L270.1,454.3 L268.9,457.0 L268.3,459.6 L267.8,462.1 L267.7,464.7 L266.3,467.2 L265.7,469.8 L265.5,472.3 L265.3,474.9 L263.7,477.4 L262.9,480.0 L261.9,482.2 L261.3,484.5 L260.2,486.8 L258.6,489.0 L257.9,491.6 L257.6,494.2 L256.9,496.8 L256.2,499.4 L255.4,502.0 L253.9,504.6 L253.2,507.5 L252.4,510.3 L251.3,513.1 L249.4,516.0 L248.9,518.3 L247.6,520.7 L246.8,523.0 L244.9,525.3 L244.3,527.7 L243.4,530.0 L242.0,532.5 L240.5,535.0 L239.6,537.5 L238.6,540.0 L237.5,542.5 L236.6,545.0 L236.1,547.5 L234.5,550.0 L234.3,552.5 L233.3,555.0 L232.4,557.5 L231.4,560.0 L230.5,562.6 L230.0,565.1 L229.2,567.7 L228.0,570.2 L227.7,572.8 L225.9,575.3 L225.1,577.9 L224.3,580.4 L223.6,583.0 L223.0,585.7 L222.3,588.4 L221.8,591.1 L221.0,593.9 L219.4,596.6 L219.0,599.3 L218.4,602.0 L217.7,604.7 L216.9,607.3 L217.0,610.0 L216.2,612.7 L216.1,615.3 L215.4,618.0 L215.9,620.5 L215.8,623.0 L214.7,625.5 L215.5,628.0 L215.4,630.5 L214.8,633.0 L214.6,635.5 L214.9,638.0 L214.7,640.5 L215.1,643.0 L215.3,645.5 L214.6,648.0 L214.4,650.5 L214.6,653.0 L214.8,655.5 L214.9,658.0 L214.5,660.5 L214.4,663.0"/><path d="M341.0,302.0 L340.7,304.6 L340.6,307.1 L341.2,309.7 L340.7,312.3 L340.0,314.8 L340.4,317.4 L340.1,320.0 L340.5,322.5 L339.7,325.1 L339.9,327.7 L339.6,330.2 L339.9,332.8 L340.5,335.3 L339.8,337.9 L339.6,340.5 L340.1,343.0 L339.0,345.6 L339.3,348.2 L339.7,350.7 L338.7,353.3 L339.5,355.9 L338.9,358.4 L338.4,361.0 L338.3,363.7 L338.1,366.4 L337.6,369.1 L337.3,371.9 L336.3,374.6 L336.1,377.3 L336.6,380.0 L334.6,382.5 L333.3,385.0 L331.5,387.5 L330.4,390.0 L329.9,392.5 L328.2,395.0 L326.5,397.2 L324.5,399.5 L323.4,401.8 L322.3,404.0 L320.2,406.5 L318.6,409.0 L317.2,411.5 L315.2,414.0 L313.7,416.5 L311.4,419.0 L309.9,421.5 L309.3,424.0 L307.8,426.5 L307.3,429.0 L306.2,431.5 L305.2,434.0 L303.5,436.5 L303.2,439.0 L301.8,441.5 L300.9,444.2 L298.9,446.9 L298.5,449.6 L297.0,452.3 L296.6,455.0 L296.2,457.5 L294.8,460.0 L294.7,462.5 L294.1,465.0 L293.9,467.5 L293.2,470.0 L293.3,472.7 L292.3,475.4 L292.0,478.1 L292.0,480.9 L291.2,483.6 L291.2,486.3 L291.5,489.0 L290.3,491.7 L288.3,494.3 L286.9,497.0 L286.7,499.7 L285.7,502.3 L284.1,505.0 L282.3,507.8 L281.2,510.5 L280.8,513.2 L279.5,516.0 L277.2,518.4 L276.2,520.8 L275.3,523.2 L273.9,525.6 L273.3,528.0 L271.8,530.5 L271.3,533.0 L269.6,535.5 L269.0,538.0 L268.6,540.5 L267.2,543.0 L266.1,545.5 L265.7,548.0 L266.0,550.5 L265.2,553.0 L264.8,555.5 L264.6,558.0 L264.3,560.5 L264.4,563.0 L263.1,565.5 L263.1,568.0 L261.9,570.4 L261.3,572.9 L260.7,575.3 L259.1,577.7 L258.7,580.1 L258.1,582.6 L256.4,585.0 L256.3,587.6 L254.9,590.2 L254.0,592.8 L253.1,595.4 L252.4,598.0 L251.2,600.7 L251.5,603.3 L250.7,606.0 L250.9,608.7 L250.6,611.3 L249.9,614.0 L250.0,616.7 L249.9,619.3 L249.9,622.0 L250.0,624.7 L249.1,627.3 L249.0,630.0 L249.1,632.5 L249.2,635.1 L249.1,637.6 L249.0,640.2 L248.0,642.7 L247.7,645.2 L248.4,647.8 L247.3,650.3 L247.6,652.8 L247.7,655.4 L247.3,657.9 L247.0,660.5 L247.0,663.0"/><path d="M390.5,505.0 L389.2,507.1 L386.7,509.3 L385.2,511.4 L383.8,513.6 L381.1,515.7 L379.6,517.9 L378.0,520.0 L376.5,522.0 L374.4,524.0 L373.1,526.0 L371.1,528.0 L369.5,530.0 L368.2,532.0 L366.4,534.0 L365.8,536.0 L363.3,538.0 L361.7,540.0 L361.5,542.8 L360.7,545.6 L359.3,548.4 L359.2,551.2 L358.2,554.0 L357.3,556.8 L357.0,559.6 L355.9,562.4 L355.3,565.2 L355.5,568.0 L353.9,570.4 L353.5,572.9 L351.6,575.3 L350.6,577.7 L349.5,580.1 L349.3,582.6 L348.1,585.0 L346.2,587.7 L345.1,590.3 L344.9,593.0 L343.3,595.7 L342.6,598.3 L340.4,601.0 L340.2,603.4 L338.8,605.8 L338.6,608.1 L337.6,610.5 L336.8,612.9 L335.4,615.2 L335.4,617.6 L333.5,620.0 L332.8,622.4 L332.8,624.9 L331.4,627.3 L330.6,629.7 L330.4,632.1 L329.9,634.6 L329.5,637.0 L329.0,639.6 L327.9,642.2 L328.3,644.8 L328.2,647.4 L327.0,650.0 L327.5,652.6 L326.6,655.2 L326.4,657.8 L325.7,660.4 L326.0,663.0"/></g>
<text transform="translate(119.4,318.3) rotate(51)" x="0" y="3.4" font-size="9.6" text-anchor="middle" style="fill:#3a0808" stroke="#3a0808" stroke-width="0.2">0.9</text>
<text transform="translate(179.7,389.4) rotate(-22)" x="0" y="3.4" font-size="9.6" text-anchor="middle" style="fill:#3a0a04" stroke="#3a0a04" stroke-width="0.2">0.7</text>
<text transform="translate(215.9,445.6) rotate(-59)" x="0" y="3.4" font-size="9.6" text-anchor="middle" style="fill:#2a1408" stroke="#2a1408" stroke-width="0.2">0.5</text>
<text transform="translate(243.3,529.7) rotate(-60)" x="0" y="3.4" font-size="9.6" text-anchor="middle" style="fill:#141838" stroke="#141838" stroke-width="0.2">0.3</text>
<text transform="translate(176.2,635.3) rotate(-45)" x="0" y="3.4" font-size="9.6" text-anchor="middle" style="fill:#181818" stroke="#181818" stroke-width="0.2">0.4</text>
<text transform="translate(321.7,403.8) rotate(-38)" x="0" y="3.4" font-size="9.6" text-anchor="middle" style="fill:#10184a" stroke="#10184a" stroke-width="0.2">0.2</text>
<text transform="translate(370.0,530.6) rotate(-35)" x="0" y="3.4" font-size="9.6" text-anchor="middle" style="fill:#1a2060" stroke="#1a2060" stroke-width="0.2">0.1</text>
<text transform="translate(80.9,440.5) rotate(0)" x="0" y="3.4" font-size="9.6" text-anchor="middle" style="fill:#3a0808" stroke="#3a0808" stroke-width="0.2">0.9</text>
<text transform="translate(83.4,481.3) rotate(0)" x="0" y="3.4" font-size="9.6" text-anchor="middle" style="fill:#3a0808" stroke="#3a0808" stroke-width="0.2">0.8</text>
<text transform="translate(89.1,542.0) rotate(0)" x="0" y="3.4" font-size="9.6" text-anchor="middle" style="fill:#3a0a04" stroke="#3a0a04" stroke-width="0.2">0.7</text>
<text transform="translate(81.4,615.4) rotate(-10)" x="0" y="3.4" font-size="9.6" text-anchor="middle" style="fill:#2a1004" stroke="#2a1004" stroke-width="0.2">0.6</text>
<line x1="56.6" y1="301.5" x2="56.6" y2="663" stroke="#111" stroke-width="1.2"/>
<line x1="56" y1="662.6" x2="390.5" y2="662.6" stroke="#111" stroke-width="1.2"/>
<line x1="71.5" y1="663" x2="71.5" y2="667" stroke="#111" stroke-width="1.1"/>
<text x="71.5" y="682.4" font-size="11.30" text-anchor="middle" >2</text>
<line x1="147.3" y1="663" x2="147.3" y2="667" stroke="#111" stroke-width="1.1"/>
<text x="147.3" y="682.4" font-size="11.30" text-anchor="middle" >3</text>
<line x1="223.1" y1="663" x2="223.1" y2="667" stroke="#111" stroke-width="1.1"/>
<text x="223.1" y="682.4" font-size="11.30" text-anchor="middle" >4</text>
<line x1="298.8" y1="663" x2="298.8" y2="667" stroke="#111" stroke-width="1.1"/>
<text x="298.8" y="682.4" font-size="11.30" text-anchor="middle" >5</text>
<line x1="374.6" y1="663" x2="374.6" y2="667" stroke="#111" stroke-width="1.1"/>
<text x="374.6" y="682.4" font-size="11.30" text-anchor="middle" >6</text>
<line x1="52" y1="626.3" x2="56.6" y2="626.3" stroke="#111" stroke-width="1.1"/>
<text x="46.0" y="630.2" font-size="11.30" text-anchor="end" >1.5</text>
<line x1="52" y1="544.1" x2="56.6" y2="544.1" stroke="#111" stroke-width="1.1"/>
<text x="46.0" y="548.0" font-size="11.30" text-anchor="end" >2</text>
<line x1="52" y1="461.8" x2="56.6" y2="461.8" stroke="#111" stroke-width="1.1"/>
<text x="46.0" y="465.7" font-size="11.30" text-anchor="end" >2.5</text>
<line x1="52" y1="379.6" x2="56.6" y2="379.6" stroke="#111" stroke-width="1.1"/>
<text x="46.0" y="383.5" font-size="11.30" text-anchor="end" >3</text>
<text x="223.1" y="702.3" font-size="14.20" text-anchor="middle" textLength="59.2" lengthAdjust="spacingAndGlyphs" stroke="#1a1a1a" stroke-width="0.4">Lag-1 log PLT</text>
<text transform="translate(22.0,482.3) rotate(-90)" x="0" y="0" font-size="14.20" text-anchor="middle" textLength="35.3" lengthAdjust="spacingAndGlyphs" stroke="#1a1a1a" stroke-width="0.4">Log TLC</text>
<text x="400.0" y="312.1" font-size="11.40" text-anchor="start" textLength="100.5" lengthAdjust="spacingAndGlyphs" >Difference between</text>
<text x="400.0" y="325.9" font-size="11.40" text-anchor="start" textLength="108.2" lengthAdjust="spacingAndGlyphs" >fitted value of log PLT</text>
<text x="400.0" y="340.2" font-size="11.40" text-anchor="start" textLength="89.4" lengthAdjust="spacingAndGlyphs" >and lag-1 log PLT</text>
<defs><linearGradient id="cb" x1="0" y1="0" x2="0" y2="1"><stop offset="0.0000" stop-color="#b81416"/><stop offset="0.0005" stop-color="#b81416"/><stop offset="0.0828" stop-color="#c5221e"/><stop offset="0.0838" stop-color="#c72620"/><stop offset="0.1662" stop-color="#d3412b"/><stop offset="0.1672" stop-color="#d54c2d"/><stop offset="0.2495" stop-color="#e3723f"/><stop offset="0.2505" stop-color="#e57c41"/><stop offset="0.3328" stop-color="#ef965b"/><stop offset="0.3338" stop-color="#ed9c67"/><stop offset="0.4162" stop-color="#e1b594"/><stop offset="0.4172" stop-color="#dfbb9e"/><stop offset="0.4995" stop-color="#d0c7c3"/><stop offset="0.5005" stop-color="#ccc9cf"/><stop offset="0.5828" stop-color="#a2afdd"/><stop offset="0.5838" stop-color="#9aa8db"/><stop offset="0.6662" stop-color="#7585cb"/><stop offset="0.6672" stop-color="#6d7dc6"/><stop offset="0.7495" stop-color="#434ba2"/><stop offset="0.7505" stop-color="#434ba2"/><stop offset="0.8328" stop-color="#32389a"/><stop offset="0.8338" stop-color="#32389a"/><stop offset="0.9162" stop-color="#2b2f90"/><stop offset="0.9172" stop-color="#2b2f90"/><stop offset="0.9995" stop-color="#26288a"/><stop offset="1.0000" stop-color="#26288a"/></linearGradient></defs>
<rect x="403" y="353" width="19.4" height="132" fill="url(#cb)"/>
<g stroke="#7a7a7a" stroke-opacity="0.35" stroke-width="0.8"><line x1="403" y1="364.0" x2="422.4" y2="364.0"/><line x1="403" y1="375.0" x2="422.4" y2="375.0"/><line x1="403" y1="386.0" x2="422.4" y2="386.0"/><line x1="403" y1="397.0" x2="422.4" y2="397.0"/><line x1="403" y1="408.0" x2="422.4" y2="408.0"/><line x1="403" y1="419.0" x2="422.4" y2="419.0"/><line x1="403" y1="430.0" x2="422.4" y2="430.0"/><line x1="403" y1="441.0" x2="422.4" y2="441.0"/><line x1="403" y1="452.0" x2="422.4" y2="452.0"/><line x1="403" y1="463.0" x2="422.4" y2="463.0"/><line x1="403" y1="474.0" x2="422.4" y2="474.0"/></g>
<text x="428.0" y="356.8" font-size="11.20" text-anchor="start" >1</text>
<text x="427.6" y="378.6" font-size="11.20" text-anchor="start" >0.8</text>
<text x="427.6" y="400.5" font-size="11.20" text-anchor="start" >0.6</text>
<text x="427.6" y="422.3" font-size="11.20" text-anchor="start" >0.4</text>
<text x="427.6" y="444.2" font-size="11.20" text-anchor="start" >0.2</text>
<text x="427.6" y="466.0" font-size="11.20" text-anchor="start" >0</text>
<text x="427.6" y="487.8" font-size="11.20" text-anchor="start" >−0.2</text>
<rect x="0.5" y="0.5" width="519" height="715" fill="none" stroke="#222" stroke-width="1.2"/>
</svg></body></html>
